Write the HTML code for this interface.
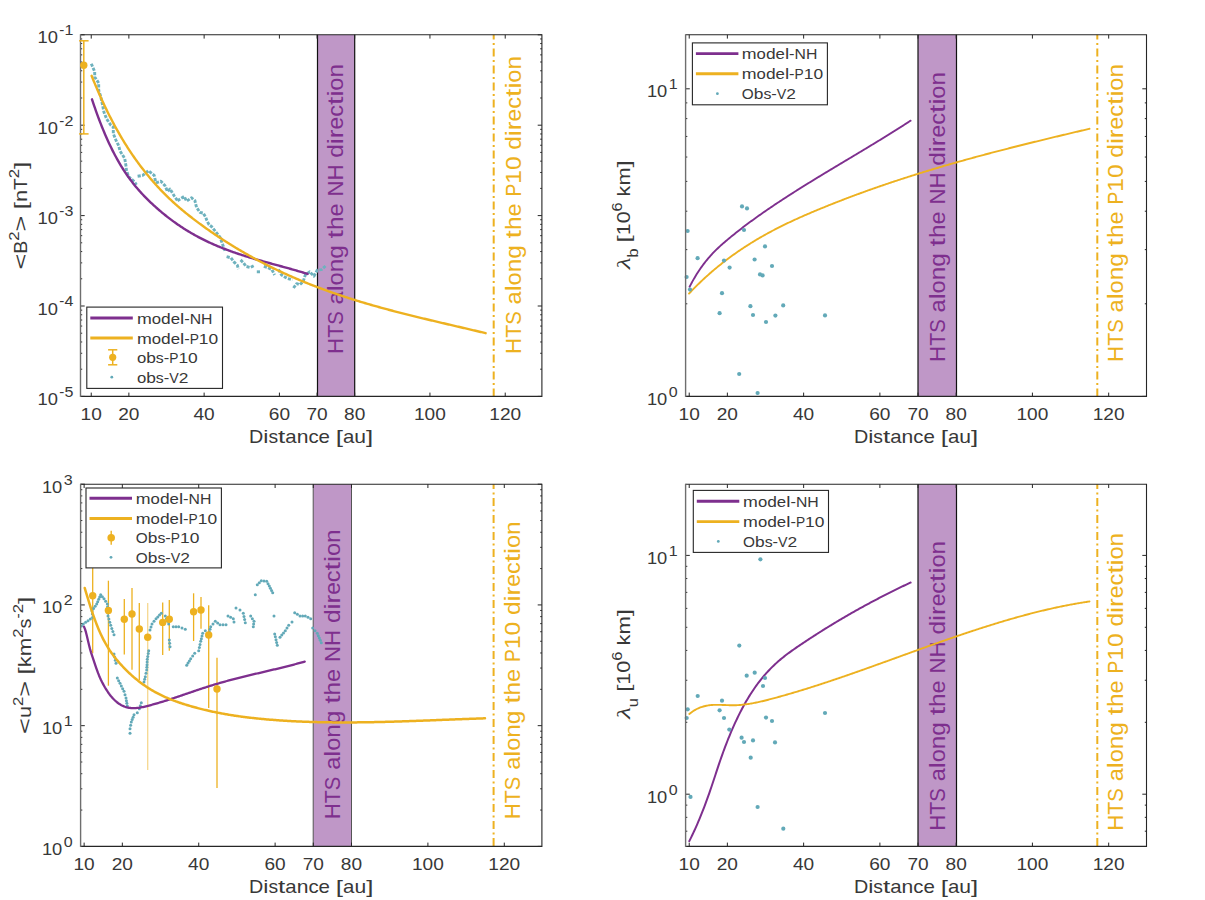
<!DOCTYPE html>
<html><head><meta charset="utf-8"><title>figure</title>
<style>html,body{margin:0;padding:0;background:#fff;overflow:hidden;width:1205px;height:900px;} svg{display:block;}</style>
</head><body>
<svg width="1205" height="900" viewBox="0 0 1205 900">
<rect width="1205" height="900" fill="#fff"/>
<rect x="317.50" y="34.8" width="37.20" height="361.60" fill="#BF97C7" stroke="none"/>
<line x1="317.50" y1="34.8" x2="317.50" y2="396.4" stroke="#111" stroke-width="1.2"/>
<line x1="354.70" y1="34.8" x2="354.70" y2="396.4" stroke="#111" stroke-width="1.2"/>
<line x1="493.7" y1="34.8" x2="493.7" y2="396.4" stroke="#EDB120" stroke-width="2.0" stroke-dasharray="8 3.5 2 3.5" stroke-dashoffset="3.3"/>
<g transform="rotate(-90 343.4 353.90000000000003)" fill="#7E2F8E">
<text x="343.40" y="353.90" font-size="22.22" font-family='"Liberation Sans", sans-serif' textLength="16.07" lengthAdjust="spacingAndGlyphs">H</text>
<text x="359.47" y="353.90" font-size="22.22" font-family='"Liberation Sans", sans-serif' textLength="13.05" lengthAdjust="spacingAndGlyphs">T</text>
<text x="372.52" y="353.90" font-size="22.22" font-family='"Liberation Sans", sans-serif' textLength="13.56" lengthAdjust="spacingAndGlyphs">S</text>
<text x="392.88" y="353.90" font-size="22.22" font-family='"Liberation Sans", sans-serif' textLength="13.10" lengthAdjust="spacingAndGlyphs">a</text>
<text x="405.98" y="353.90" font-size="22.22" font-family='"Liberation Sans", sans-serif' textLength="5.94" lengthAdjust="spacingAndGlyphs">l</text>
<text x="411.91" y="353.90" font-size="22.22" font-family='"Liberation Sans", sans-serif' textLength="13.07" lengthAdjust="spacingAndGlyphs">o</text>
<text x="424.99" y="353.90" font-size="22.22" font-family='"Liberation Sans", sans-serif' textLength="13.54" lengthAdjust="spacingAndGlyphs">n</text>
<text x="438.53" y="353.90" font-size="22.22" font-family='"Liberation Sans", sans-serif' textLength="13.56" lengthAdjust="spacingAndGlyphs">g</text>
<text x="458.89" y="353.90" font-size="22.22" font-family='"Liberation Sans", sans-serif' textLength="8.38" lengthAdjust="spacingAndGlyphs">t</text>
<text x="467.27" y="353.90" font-size="22.22" font-family='"Liberation Sans", sans-serif' textLength="13.54" lengthAdjust="spacingAndGlyphs">h</text>
<text x="480.81" y="353.90" font-size="22.22" font-family='"Liberation Sans", sans-serif' textLength="13.15" lengthAdjust="spacingAndGlyphs">e</text>
<text x="500.75" y="353.90" font-size="22.22" font-family='"Liberation Sans", sans-serif' textLength="15.99" lengthAdjust="spacingAndGlyphs">N</text>
<text x="516.74" y="353.90" font-size="22.22" font-family='"Liberation Sans", sans-serif' textLength="16.07" lengthAdjust="spacingAndGlyphs">H</text>
<text x="539.60" y="353.90" font-size="22.22" font-family='"Liberation Sans", sans-serif' textLength="13.56" lengthAdjust="spacingAndGlyphs">d</text>
<text x="553.17" y="353.90" font-size="22.22" font-family='"Liberation Sans", sans-serif' textLength="5.94" lengthAdjust="spacingAndGlyphs">i</text>
<text x="559.10" y="353.90" font-size="22.22" font-family='"Liberation Sans", sans-serif' textLength="8.79" lengthAdjust="spacingAndGlyphs">r</text>
<text x="567.89" y="353.90" font-size="22.22" font-family='"Liberation Sans", sans-serif' textLength="12.68" lengthAdjust="spacingAndGlyphs">e</text>
<text x="580.57" y="353.90" font-size="22.22" font-family='"Liberation Sans", sans-serif' textLength="11.75" lengthAdjust="spacingAndGlyphs">c</text>
<text x="592.32" y="353.90" font-size="22.22" font-family='"Liberation Sans", sans-serif' textLength="8.38" lengthAdjust="spacingAndGlyphs">t</text>
<text x="600.70" y="353.90" font-size="22.22" font-family='"Liberation Sans", sans-serif' textLength="5.94" lengthAdjust="spacingAndGlyphs">i</text>
<text x="606.63" y="353.90" font-size="22.22" font-family='"Liberation Sans", sans-serif' textLength="13.07" lengthAdjust="spacingAndGlyphs">o</text>
<text x="619.71" y="353.90" font-size="22.22" font-family='"Liberation Sans", sans-serif' textLength="13.54" lengthAdjust="spacingAndGlyphs">n</text>
</g>
<g transform="rotate(-90 520.6 353.90000000000003)" fill="#EDB120">
<text x="520.60" y="353.90" font-size="22.22" font-family='"Liberation Sans", sans-serif' textLength="16.07" lengthAdjust="spacingAndGlyphs">H</text>
<text x="536.67" y="353.90" font-size="22.22" font-family='"Liberation Sans", sans-serif' textLength="13.05" lengthAdjust="spacingAndGlyphs">T</text>
<text x="549.72" y="353.90" font-size="22.22" font-family='"Liberation Sans", sans-serif' textLength="13.56" lengthAdjust="spacingAndGlyphs">S</text>
<text x="570.08" y="353.90" font-size="22.22" font-family='"Liberation Sans", sans-serif' textLength="13.10" lengthAdjust="spacingAndGlyphs">a</text>
<text x="583.18" y="353.90" font-size="22.22" font-family='"Liberation Sans", sans-serif' textLength="5.94" lengthAdjust="spacingAndGlyphs">l</text>
<text x="589.11" y="353.90" font-size="22.22" font-family='"Liberation Sans", sans-serif' textLength="13.07" lengthAdjust="spacingAndGlyphs">o</text>
<text x="602.19" y="353.90" font-size="22.22" font-family='"Liberation Sans", sans-serif' textLength="13.54" lengthAdjust="spacingAndGlyphs">n</text>
<text x="615.73" y="353.90" font-size="22.22" font-family='"Liberation Sans", sans-serif' textLength="13.56" lengthAdjust="spacingAndGlyphs">g</text>
<text x="636.09" y="353.90" font-size="22.22" font-family='"Liberation Sans", sans-serif' textLength="8.38" lengthAdjust="spacingAndGlyphs">t</text>
<text x="644.47" y="353.90" font-size="22.22" font-family='"Liberation Sans", sans-serif' textLength="13.54" lengthAdjust="spacingAndGlyphs">h</text>
<text x="658.01" y="353.90" font-size="22.22" font-family='"Liberation Sans", sans-serif' textLength="13.15" lengthAdjust="spacingAndGlyphs">e</text>
<text x="677.95" y="353.90" font-size="22.22" font-family='"Liberation Sans", sans-serif' textLength="12.89" lengthAdjust="spacingAndGlyphs">P</text>
<text x="690.84" y="353.90" font-size="22.22" font-family='"Liberation Sans", sans-serif' textLength="13.60" lengthAdjust="spacingAndGlyphs">1</text>
<text x="704.44" y="353.90" font-size="22.22" font-family='"Liberation Sans", sans-serif' textLength="13.60" lengthAdjust="spacingAndGlyphs">0</text>
<text x="724.83" y="353.90" font-size="22.22" font-family='"Liberation Sans", sans-serif' textLength="13.56" lengthAdjust="spacingAndGlyphs">d</text>
<text x="738.39" y="353.90" font-size="22.22" font-family='"Liberation Sans", sans-serif' textLength="5.94" lengthAdjust="spacingAndGlyphs">i</text>
<text x="744.33" y="353.90" font-size="22.22" font-family='"Liberation Sans", sans-serif' textLength="8.79" lengthAdjust="spacingAndGlyphs">r</text>
<text x="753.11" y="353.90" font-size="22.22" font-family='"Liberation Sans", sans-serif' textLength="12.68" lengthAdjust="spacingAndGlyphs">e</text>
<text x="765.79" y="353.90" font-size="22.22" font-family='"Liberation Sans", sans-serif' textLength="11.75" lengthAdjust="spacingAndGlyphs">c</text>
<text x="777.54" y="353.90" font-size="22.22" font-family='"Liberation Sans", sans-serif' textLength="8.38" lengthAdjust="spacingAndGlyphs">t</text>
<text x="785.92" y="353.90" font-size="22.22" font-family='"Liberation Sans", sans-serif' textLength="5.94" lengthAdjust="spacingAndGlyphs">i</text>
<text x="791.86" y="353.90" font-size="22.22" font-family='"Liberation Sans", sans-serif' textLength="13.07" lengthAdjust="spacingAndGlyphs">o</text>
<text x="804.93" y="353.90" font-size="22.22" font-family='"Liberation Sans", sans-serif' textLength="13.54" lengthAdjust="spacingAndGlyphs">n</text>
</g>
<path d="M91.30,63.70 L94.70,71.70 L94.70,77.00 L98.70,83.00 L98.70,90.30 L100.70,96.30 L102.70,105.70 L104.00,112.30 L106.70,119.00 L110.70,125.00 L113.30,127.00 L113.30,133.70 L116.00,140.30 L118.70,145.70 L120.00,151.00 L124.70,158.30 L126.00,166.00 L126.40,170.00 L128.50,176.60 L134.30,181.60 L136.40,184.90" fill="none" stroke="#6EB2BE" stroke-width="2.9" stroke-dasharray="3.2 1.3" stroke-linecap="butt" stroke-linejoin="round"/>
<path d="M137.60,176.20 L142.60,175.40 L148.40,170.80 L154.20,175.40 L155.90,182.80" fill="none" stroke="#6EB2BE" stroke-width="2.9" stroke-dasharray="3.2 1.3" stroke-linecap="butt" stroke-linejoin="round"/>
<path d="M155.90,182.80 L160.90,181.20 L165.00,185.70 L167.50,191.50 L170.00,189.00 L174.10,195.70 L177.50,200.70" fill="none" stroke="#6EB2BE" stroke-width="2.9" stroke-dasharray="3.2 1.3" stroke-linecap="butt" stroke-linejoin="round"/>
<path d="M177.50,200.70 L184.10,196.50 L186.60,201.10 L191.60,197.80 L194.90,200.70 L196.50,207.30 L199.90,212.30 L203.20,213.10 L205.70,217.30 L206.90,220.60 L209.00,224.70 L211.50,226.50 L215.80,231.90 L220.10,237.30 L222.30,243.70 L225.00,250.70" fill="none" stroke="#6EB2BE" stroke-width="2.9" stroke-dasharray="3.2 1.3" stroke-linecap="butt" stroke-linejoin="round"/>
<path d="M226.60,256.70 L230.90,257.80 L234.10,262.10 L237.40,265.30 L238.40,269.10" fill="none" stroke="#6EB2BE" stroke-width="2.9" stroke-dasharray="3.2 1.3" stroke-linecap="butt" stroke-linejoin="round"/>
<path d="M240.60,259.90 L243.30,262.60 L246.00,266.40 L250.30,267.50 L254.60,265.30" fill="none" stroke="#6EB2BE" stroke-width="2.9" stroke-dasharray="3.2 1.3" stroke-linecap="butt" stroke-linejoin="round"/>
<path d="M256.80,271.80 L261.10,271.80" fill="none" stroke="#6EB2BE" stroke-width="2.9" stroke-dasharray="3.2 1.3" stroke-linecap="butt" stroke-linejoin="round"/>
<path d="M263.80,266.40 L267.60,267.50 L271.90,269.60 L274.60,275.00" fill="none" stroke="#6EB2BE" stroke-width="2.9" stroke-dasharray="3.2 1.3" stroke-linecap="butt" stroke-linejoin="round"/>
<path d="M278.40,269.60 L281.60,275.00 L287.00,278.30 L292.40,279.90" fill="none" stroke="#6EB2BE" stroke-width="2.9" stroke-dasharray="3.2 1.3" stroke-linecap="butt" stroke-linejoin="round"/>
<path d="M293.50,288.00 L296.70,283.60 L299.90,284.70 L303.20,281.50 L305.30,275.00 L309.60,271.80 L314.00,276.10 L317.20,270.20 L321.50,269.60 L325.80,265.80" fill="none" stroke="#6EB2BE" stroke-width="2.9" stroke-dasharray="3.2 1.3" stroke-linecap="butt" stroke-linejoin="round"/>
<path d="M92.00,99.30 L93.00,102.32 L94.00,105.29 L95.00,108.19 L96.00,111.04 L97.00,113.83 L98.00,116.56 L99.00,119.23 L100.00,121.86 L101.00,124.42 L102.00,126.94 L103.00,129.40 L104.00,131.81 L105.00,134.17 L106.00,136.48 L107.00,138.75 L108.00,140.96 L109.00,143.13 L110.00,145.25 L111.00,147.32 L112.00,149.35 L113.00,151.34 L114.00,153.28 L115.00,155.19 L116.00,157.05 L117.00,158.87 L118.00,160.65 L119.00,162.39 L120.00,164.09 L121.00,165.76 L122.00,167.39 L123.00,168.99 L124.00,170.55 L125.00,172.07 L126.00,173.57 L127.00,175.03 L128.00,176.46 L129.00,177.87 L130.00,179.24 L131.00,180.58 L132.00,181.90 L133.00,183.19 L134.00,184.45 L135.00,185.69 L136.00,186.90 L137.00,188.09 L138.00,189.26 L139.00,190.41 L140.00,191.53 L141.00,192.64 L142.00,193.72 L143.00,194.79 L144.00,195.84 L145.00,196.88 L146.00,197.89 L147.00,198.90 L148.00,199.88 L149.00,200.86 L150.00,201.82 L151.00,202.77 L152.00,203.72 L153.00,204.65 L154.00,205.57 L155.00,206.47 L156.00,207.37 L157.00,208.26 L158.00,209.14 L159.00,210.01 L160.00,210.86 L161.00,211.71 L162.00,212.55 L163.00,213.38 L164.00,214.19 L165.00,215.00 L166.00,215.80 L167.00,216.59 L168.00,217.37 L169.00,218.14 L170.00,218.90 L171.00,219.65 L172.00,220.40 L173.00,221.13 L174.00,221.86 L175.00,222.57 L176.00,223.28 L177.00,223.98 L178.00,224.67 L179.00,225.35 L180.00,226.03 L181.00,226.69 L182.00,227.35 L183.00,228.00 L184.00,228.64 L185.00,229.27 L186.00,229.90 L187.00,230.52 L188.00,231.13 L189.00,231.73 L190.00,232.32 L191.00,232.91 L192.00,233.49 L193.00,234.06 L194.00,234.63 L195.00,235.19 L196.00,235.74 L197.00,236.28 L198.00,236.82 L199.00,237.35 L200.00,237.88 L201.00,238.40 L202.00,238.91 L203.00,239.41 L204.00,239.91 L205.00,240.40 L206.00,240.89 L207.00,241.37 L208.00,241.85 L209.00,242.31 L210.00,242.78 L211.00,243.23 L212.00,243.69 L213.00,244.13 L214.00,244.57 L215.00,245.01 L216.00,245.44 L217.00,245.86 L218.00,246.28 L219.00,246.70 L220.00,247.11 L221.00,247.51 L222.00,247.91 L223.00,248.31 L224.00,248.70 L225.00,249.09 L226.00,249.47 L227.00,249.85 L228.00,250.22 L229.00,250.59 L230.00,250.96 L231.00,251.32 L232.00,251.67 L233.00,252.03 L234.00,252.38 L235.00,252.72 L236.00,253.07 L237.00,253.41 L238.00,253.74 L239.00,254.08 L240.00,254.41 L241.00,254.73 L242.00,255.06 L243.00,255.38 L244.00,255.69 L245.00,256.01 L246.00,256.32 L247.00,256.63 L248.00,256.94 L249.00,257.24 L250.00,257.55 L251.00,257.85 L252.00,258.15 L253.00,258.44 L254.00,258.74 L255.00,259.03 L256.00,259.32 L257.00,259.61 L258.00,259.89 L259.00,260.18 L260.00,260.46 L261.00,260.75 L262.00,261.03 L263.00,261.31 L264.00,261.59 L265.00,261.87 L266.00,262.14 L267.00,262.42 L268.00,262.69 L269.00,262.97 L270.00,263.24 L271.00,263.52 L272.00,263.79 L273.00,264.06 L274.00,264.34 L275.00,264.61 L276.00,264.88 L277.00,265.15 L278.00,265.43 L279.00,265.70 L280.00,265.97 L281.00,266.25 L282.00,266.52 L283.00,266.79 L284.00,267.07 L285.00,267.34 L286.00,267.62 L287.00,267.90 L288.00,268.18 L289.00,268.45 L290.00,268.74 L291.00,269.02 L292.00,269.30 L293.00,269.58 L294.00,269.87 L295.00,270.16 L296.00,270.45 L297.00,270.74 L298.00,271.03 L299.00,271.32 L300.00,271.62 L301.00,271.92 L302.00,272.22 L303.00,272.52 L304.00,272.83 L305.00,273.13 L306.00,273.44 L307.00,273.76 L307.50,273.91" fill="none" stroke="#7E2F8E" stroke-width="2.4" stroke-linejoin="round" stroke-linecap="round"/>
<path d="M91.60,75.77 L92.60,78.26 L93.60,80.71 L94.60,83.14 L95.60,85.53 L96.60,87.89 L97.60,90.23 L98.60,92.53 L99.60,94.80 L100.60,97.04 L101.60,99.25 L102.60,101.43 L103.60,103.59 L104.60,105.71 L105.60,107.81 L106.60,109.88 L107.60,111.92 L108.60,113.94 L109.60,115.92 L110.60,117.89 L111.60,119.82 L112.60,121.73 L113.60,123.62 L114.60,125.48 L115.60,127.31 L116.60,129.12 L117.60,130.91 L118.60,132.67 L119.60,134.42 L120.60,136.13 L121.60,137.83 L122.60,139.50 L123.60,141.15 L124.60,142.78 L125.60,144.39 L126.60,145.98 L127.60,147.54 L128.60,149.09 L129.60,150.62 L130.60,152.13 L131.60,153.61 L132.60,155.08 L133.60,156.54 L134.60,157.97 L135.60,159.39 L136.60,160.78 L137.60,162.16 L138.60,163.53 L139.60,164.88 L140.60,166.21 L141.60,167.53 L142.60,168.83 L143.60,170.11 L144.60,171.38 L145.60,172.64 L146.60,173.88 L147.60,175.11 L148.60,176.32 L149.60,177.51 L150.60,178.70 L151.60,179.87 L152.60,181.02 L153.60,182.16 L154.60,183.29 L155.60,184.41 L156.60,185.51 L157.60,186.60 L158.60,187.68 L159.60,188.75 L160.60,189.80 L161.60,190.84 L162.60,191.87 L163.60,192.89 L164.60,193.90 L165.60,194.90 L166.60,195.88 L167.60,196.86 L168.60,197.82 L169.60,198.78 L170.60,199.72 L171.60,200.65 L172.60,201.58 L173.60,202.49 L174.60,203.40 L175.60,204.30 L176.60,205.18 L177.60,206.06 L178.60,206.93 L179.60,207.80 L180.60,208.65 L181.60,209.50 L182.60,210.33 L183.60,211.17 L184.60,211.99 L185.60,212.81 L186.60,213.62 L187.60,214.42 L188.60,215.22 L189.60,216.01 L190.60,216.79 L191.60,217.57 L192.60,218.34 L193.60,219.11 L194.60,219.87 L195.60,220.63 L196.60,221.38 L197.60,222.12 L198.60,222.87 L199.60,223.61 L200.60,224.34 L201.60,225.07 L202.60,225.79 L203.60,226.52 L204.60,227.24 L205.60,227.95 L206.60,228.66 L207.60,229.37 L208.60,230.07 L209.60,230.77 L210.60,231.46 L211.60,232.16 L212.60,232.84 L213.60,233.53 L214.60,234.21 L215.60,234.89 L216.60,235.56 L217.60,236.23 L218.60,236.89 L219.60,237.55 L220.60,238.21 L221.60,238.87 L222.60,239.52 L223.60,240.17 L224.60,240.81 L225.60,241.45 L226.60,242.09 L227.60,242.72 L228.60,243.35 L229.60,243.98 L230.60,244.60 L231.60,245.22 L232.60,245.84 L233.60,246.45 L234.60,247.06 L235.60,247.66 L236.60,248.27 L237.60,248.87 L238.60,249.46 L239.60,250.05 L240.60,250.64 L241.60,251.23 L242.60,251.81 L243.60,252.39 L244.60,252.97 L245.60,253.54 L246.60,254.11 L247.60,254.67 L248.60,255.24 L249.60,255.80 L250.60,256.35 L251.60,256.91 L252.60,257.46 L253.60,258.01 L254.60,258.55 L255.60,259.09 L256.60,259.63 L257.60,260.16 L258.60,260.70 L259.60,261.22 L260.60,261.75 L261.60,262.27 L262.60,262.79 L263.60,263.31 L264.60,263.82 L265.60,264.34 L266.60,264.84 L267.60,265.35 L268.60,265.85 L269.60,266.35 L270.60,266.85 L271.60,267.34 L272.60,267.83 L273.60,268.32 L274.60,268.81 L275.60,269.29 L276.60,269.77 L277.60,270.25 L278.60,270.72 L279.60,271.19 L280.60,271.66 L281.60,272.13 L282.60,272.59 L283.60,273.05 L284.60,273.51 L285.60,273.96 L286.60,274.42 L287.60,274.87 L288.60,275.32 L289.60,275.76 L290.60,276.20 L291.60,276.64 L292.60,277.08 L293.60,277.52 L294.60,277.95 L295.60,278.38 L296.60,278.81 L297.60,279.23 L298.60,279.66 L299.60,280.08 L300.60,280.49 L301.60,280.91 L302.60,281.32 L303.60,281.73 L304.60,282.14 L305.60,282.55 L306.60,282.95 L307.60,283.36 L308.60,283.75 L309.60,284.15 L310.60,284.55 L311.60,284.94 L312.60,285.33 L313.60,285.72 L314.60,286.10 L315.60,286.49 L316.60,286.87 L317.60,287.25 L318.60,287.63 L319.60,288.00 L320.60,288.38 L321.60,288.75 L322.60,289.12 L323.60,289.48 L324.60,289.85 L325.60,290.21 L326.60,290.57 L327.60,290.93 L328.60,291.29 L329.60,291.65 L330.60,292.00 L331.60,292.35 L332.60,292.70 L333.60,293.05 L334.60,293.39 L335.60,293.74 L336.60,294.08 L337.60,294.42 L338.60,294.76 L339.60,295.10 L340.60,295.43 L341.60,295.76 L342.60,296.10 L343.60,296.42 L344.60,296.75 L345.60,297.08 L346.60,297.40 L347.60,297.73 L348.60,298.05 L349.60,298.37 L350.60,298.69 L351.60,299.00 L352.60,299.32 L353.60,299.63 L354.60,299.94 L355.60,300.25 L356.60,300.56 L357.60,300.87 L358.60,301.17 L359.60,301.48 L360.60,301.78 L361.60,302.08 L362.60,302.38 L363.60,302.68 L364.60,302.98 L365.60,303.27 L366.60,303.56 L367.60,303.86 L368.60,304.15 L369.60,304.44 L370.60,304.73 L371.60,305.01 L372.60,305.30 L373.60,305.59 L374.60,305.87 L375.60,306.15 L376.60,306.43 L377.60,306.71 L378.60,306.99 L379.60,307.27 L380.60,307.55 L381.60,307.82 L382.60,308.09 L383.60,308.37 L384.60,308.64 L385.60,308.91 L386.60,309.18 L387.60,309.45 L388.60,309.72 L389.60,309.98 L390.60,310.25 L391.60,310.51 L392.60,310.78 L393.60,311.04 L394.60,311.30 L395.60,311.56 L396.60,311.82 L397.60,312.08 L398.60,312.34 L399.60,312.60 L400.60,312.85 L401.60,313.11 L402.60,313.36 L403.60,313.62 L404.60,313.87 L405.60,314.12 L406.60,314.37 L407.60,314.63 L408.60,314.88 L409.60,315.12 L410.60,315.37 L411.60,315.62 L412.60,315.87 L413.60,316.12 L414.60,316.36 L415.60,316.61 L416.60,316.85 L417.60,317.10 L418.60,317.34 L419.60,317.58 L420.60,317.83 L421.60,318.07 L422.60,318.31 L423.60,318.55 L424.60,318.79 L425.60,319.03 L426.60,319.27 L427.60,319.51 L428.60,319.75 L429.60,319.99 L430.60,320.22 L431.60,320.46 L432.60,320.70 L433.60,320.94 L434.60,321.17 L435.60,321.41 L436.60,321.64 L437.60,321.88 L438.60,322.11 L439.60,322.35 L440.60,322.58 L441.60,322.82 L442.60,323.05 L443.60,323.29 L444.60,323.52 L445.60,323.76 L446.60,323.99 L447.60,324.22 L448.60,324.46 L449.60,324.69 L450.60,324.92 L451.60,325.16 L452.60,325.39 L453.60,325.62 L454.60,325.86 L455.60,326.09 L456.60,326.32 L457.60,326.56 L458.60,326.79 L459.60,327.02 L460.60,327.26 L461.60,327.49 L462.60,327.72 L463.60,327.96 L464.60,328.19 L465.60,328.42 L466.60,328.66 L467.60,328.89 L468.60,329.13 L469.60,329.36 L470.60,329.60 L471.60,329.83 L472.60,330.07 L473.60,330.30 L474.60,330.54 L475.60,330.77 L476.60,331.01 L477.60,331.25 L478.60,331.48 L479.60,331.72 L480.60,331.96 L481.60,332.20 L482.60,332.44 L483.60,332.68 L484.60,332.92 L485.60,333.16" fill="none" stroke="#EDB120" stroke-width="2.4" stroke-linejoin="round" stroke-linecap="round"/>
<line x1="91.24" y1="396.4" x2="91.24" y2="392.59999999999997" stroke="#262626" stroke-width="1"/>
<line x1="91.24" y1="34.8" x2="91.24" y2="38.599999999999994" stroke="#262626" stroke-width="1"/>
<line x1="128.87" y1="396.4" x2="128.87" y2="392.59999999999997" stroke="#262626" stroke-width="1"/>
<line x1="128.87" y1="34.8" x2="128.87" y2="38.599999999999994" stroke="#262626" stroke-width="1"/>
<line x1="204.14" y1="396.4" x2="204.14" y2="392.59999999999997" stroke="#262626" stroke-width="1"/>
<line x1="204.14" y1="34.8" x2="204.14" y2="38.599999999999994" stroke="#262626" stroke-width="1"/>
<line x1="279.41" y1="396.4" x2="279.41" y2="392.59999999999997" stroke="#262626" stroke-width="1"/>
<line x1="279.41" y1="34.8" x2="279.41" y2="38.599999999999994" stroke="#262626" stroke-width="1"/>
<line x1="317.05" y1="396.4" x2="317.05" y2="392.59999999999997" stroke="#262626" stroke-width="1"/>
<line x1="317.05" y1="34.8" x2="317.05" y2="38.599999999999994" stroke="#262626" stroke-width="1"/>
<line x1="354.68" y1="396.4" x2="354.68" y2="392.59999999999997" stroke="#262626" stroke-width="1"/>
<line x1="354.68" y1="34.8" x2="354.68" y2="38.599999999999994" stroke="#262626" stroke-width="1"/>
<line x1="429.95" y1="396.4" x2="429.95" y2="392.59999999999997" stroke="#262626" stroke-width="1"/>
<line x1="429.95" y1="34.8" x2="429.95" y2="38.599999999999994" stroke="#262626" stroke-width="1"/>
<line x1="505.22" y1="396.4" x2="505.22" y2="392.59999999999997" stroke="#262626" stroke-width="1"/>
<line x1="505.22" y1="34.8" x2="505.22" y2="38.599999999999994" stroke="#262626" stroke-width="1"/>
<line x1="80.5" y1="396.40" x2="84.7" y2="396.40" stroke="#262626" stroke-width="1"/>
<line x1="541.9" y1="396.40" x2="537.6999999999999" y2="396.40" stroke="#262626" stroke-width="1"/>
<line x1="80.5" y1="369.19" x2="82.2" y2="369.19" stroke="#262626" stroke-width="1"/>
<line x1="541.9" y1="369.19" x2="540.1999999999999" y2="369.19" stroke="#262626" stroke-width="1"/>
<line x1="80.5" y1="353.27" x2="82.2" y2="353.27" stroke="#262626" stroke-width="1"/>
<line x1="541.9" y1="353.27" x2="540.1999999999999" y2="353.27" stroke="#262626" stroke-width="1"/>
<line x1="80.5" y1="341.97" x2="82.2" y2="341.97" stroke="#262626" stroke-width="1"/>
<line x1="541.9" y1="341.97" x2="540.1999999999999" y2="341.97" stroke="#262626" stroke-width="1"/>
<line x1="80.5" y1="333.21" x2="82.2" y2="333.21" stroke="#262626" stroke-width="1"/>
<line x1="541.9" y1="333.21" x2="540.1999999999999" y2="333.21" stroke="#262626" stroke-width="1"/>
<line x1="80.5" y1="326.06" x2="82.2" y2="326.06" stroke="#262626" stroke-width="1"/>
<line x1="541.9" y1="326.06" x2="540.1999999999999" y2="326.06" stroke="#262626" stroke-width="1"/>
<line x1="80.5" y1="320.00" x2="82.2" y2="320.00" stroke="#262626" stroke-width="1"/>
<line x1="541.9" y1="320.00" x2="540.1999999999999" y2="320.00" stroke="#262626" stroke-width="1"/>
<line x1="80.5" y1="314.76" x2="82.2" y2="314.76" stroke="#262626" stroke-width="1"/>
<line x1="541.9" y1="314.76" x2="540.1999999999999" y2="314.76" stroke="#262626" stroke-width="1"/>
<line x1="80.5" y1="310.14" x2="82.2" y2="310.14" stroke="#262626" stroke-width="1"/>
<line x1="541.9" y1="310.14" x2="540.1999999999999" y2="310.14" stroke="#262626" stroke-width="1"/>
<line x1="80.5" y1="306.00" x2="84.7" y2="306.00" stroke="#262626" stroke-width="1"/>
<line x1="541.9" y1="306.00" x2="537.6999999999999" y2="306.00" stroke="#262626" stroke-width="1"/>
<line x1="80.5" y1="278.79" x2="82.2" y2="278.79" stroke="#262626" stroke-width="1"/>
<line x1="541.9" y1="278.79" x2="540.1999999999999" y2="278.79" stroke="#262626" stroke-width="1"/>
<line x1="80.5" y1="262.87" x2="82.2" y2="262.87" stroke="#262626" stroke-width="1"/>
<line x1="541.9" y1="262.87" x2="540.1999999999999" y2="262.87" stroke="#262626" stroke-width="1"/>
<line x1="80.5" y1="251.57" x2="82.2" y2="251.57" stroke="#262626" stroke-width="1"/>
<line x1="541.9" y1="251.57" x2="540.1999999999999" y2="251.57" stroke="#262626" stroke-width="1"/>
<line x1="80.5" y1="242.81" x2="82.2" y2="242.81" stroke="#262626" stroke-width="1"/>
<line x1="541.9" y1="242.81" x2="540.1999999999999" y2="242.81" stroke="#262626" stroke-width="1"/>
<line x1="80.5" y1="235.66" x2="82.2" y2="235.66" stroke="#262626" stroke-width="1"/>
<line x1="541.9" y1="235.66" x2="540.1999999999999" y2="235.66" stroke="#262626" stroke-width="1"/>
<line x1="80.5" y1="229.60" x2="82.2" y2="229.60" stroke="#262626" stroke-width="1"/>
<line x1="541.9" y1="229.60" x2="540.1999999999999" y2="229.60" stroke="#262626" stroke-width="1"/>
<line x1="80.5" y1="224.36" x2="82.2" y2="224.36" stroke="#262626" stroke-width="1"/>
<line x1="541.9" y1="224.36" x2="540.1999999999999" y2="224.36" stroke="#262626" stroke-width="1"/>
<line x1="80.5" y1="219.74" x2="82.2" y2="219.74" stroke="#262626" stroke-width="1"/>
<line x1="541.9" y1="219.74" x2="540.1999999999999" y2="219.74" stroke="#262626" stroke-width="1"/>
<line x1="80.5" y1="215.60" x2="84.7" y2="215.60" stroke="#262626" stroke-width="1"/>
<line x1="541.9" y1="215.60" x2="537.6999999999999" y2="215.60" stroke="#262626" stroke-width="1"/>
<line x1="80.5" y1="188.39" x2="82.2" y2="188.39" stroke="#262626" stroke-width="1"/>
<line x1="541.9" y1="188.39" x2="540.1999999999999" y2="188.39" stroke="#262626" stroke-width="1"/>
<line x1="80.5" y1="172.47" x2="82.2" y2="172.47" stroke="#262626" stroke-width="1"/>
<line x1="541.9" y1="172.47" x2="540.1999999999999" y2="172.47" stroke="#262626" stroke-width="1"/>
<line x1="80.5" y1="161.17" x2="82.2" y2="161.17" stroke="#262626" stroke-width="1"/>
<line x1="541.9" y1="161.17" x2="540.1999999999999" y2="161.17" stroke="#262626" stroke-width="1"/>
<line x1="80.5" y1="152.41" x2="82.2" y2="152.41" stroke="#262626" stroke-width="1"/>
<line x1="541.9" y1="152.41" x2="540.1999999999999" y2="152.41" stroke="#262626" stroke-width="1"/>
<line x1="80.5" y1="145.26" x2="82.2" y2="145.26" stroke="#262626" stroke-width="1"/>
<line x1="541.9" y1="145.26" x2="540.1999999999999" y2="145.26" stroke="#262626" stroke-width="1"/>
<line x1="80.5" y1="139.20" x2="82.2" y2="139.20" stroke="#262626" stroke-width="1"/>
<line x1="541.9" y1="139.20" x2="540.1999999999999" y2="139.20" stroke="#262626" stroke-width="1"/>
<line x1="80.5" y1="133.96" x2="82.2" y2="133.96" stroke="#262626" stroke-width="1"/>
<line x1="541.9" y1="133.96" x2="540.1999999999999" y2="133.96" stroke="#262626" stroke-width="1"/>
<line x1="80.5" y1="129.34" x2="82.2" y2="129.34" stroke="#262626" stroke-width="1"/>
<line x1="541.9" y1="129.34" x2="540.1999999999999" y2="129.34" stroke="#262626" stroke-width="1"/>
<line x1="80.5" y1="125.20" x2="84.7" y2="125.20" stroke="#262626" stroke-width="1"/>
<line x1="541.9" y1="125.20" x2="537.6999999999999" y2="125.20" stroke="#262626" stroke-width="1"/>
<line x1="80.5" y1="97.99" x2="82.2" y2="97.99" stroke="#262626" stroke-width="1"/>
<line x1="541.9" y1="97.99" x2="540.1999999999999" y2="97.99" stroke="#262626" stroke-width="1"/>
<line x1="80.5" y1="82.07" x2="82.2" y2="82.07" stroke="#262626" stroke-width="1"/>
<line x1="541.9" y1="82.07" x2="540.1999999999999" y2="82.07" stroke="#262626" stroke-width="1"/>
<line x1="80.5" y1="70.77" x2="82.2" y2="70.77" stroke="#262626" stroke-width="1"/>
<line x1="541.9" y1="70.77" x2="540.1999999999999" y2="70.77" stroke="#262626" stroke-width="1"/>
<line x1="80.5" y1="62.01" x2="82.2" y2="62.01" stroke="#262626" stroke-width="1"/>
<line x1="541.9" y1="62.01" x2="540.1999999999999" y2="62.01" stroke="#262626" stroke-width="1"/>
<line x1="80.5" y1="54.86" x2="82.2" y2="54.86" stroke="#262626" stroke-width="1"/>
<line x1="541.9" y1="54.86" x2="540.1999999999999" y2="54.86" stroke="#262626" stroke-width="1"/>
<line x1="80.5" y1="48.80" x2="82.2" y2="48.80" stroke="#262626" stroke-width="1"/>
<line x1="541.9" y1="48.80" x2="540.1999999999999" y2="48.80" stroke="#262626" stroke-width="1"/>
<line x1="80.5" y1="43.56" x2="82.2" y2="43.56" stroke="#262626" stroke-width="1"/>
<line x1="541.9" y1="43.56" x2="540.1999999999999" y2="43.56" stroke="#262626" stroke-width="1"/>
<line x1="80.5" y1="38.94" x2="82.2" y2="38.94" stroke="#262626" stroke-width="1"/>
<line x1="541.9" y1="38.94" x2="540.1999999999999" y2="38.94" stroke="#262626" stroke-width="1"/>
<line x1="80.5" y1="34.80" x2="84.7" y2="34.80" stroke="#262626" stroke-width="1"/>
<line x1="541.9" y1="34.80" x2="537.6999999999999" y2="34.80" stroke="#262626" stroke-width="1"/>
<path d="M80.5,34.8 L541.9,34.8 L541.9,396.4 L80.5,396.4" fill="none" stroke="#262626" stroke-width="1.1" stroke-linejoin="miter"/>
<line x1="80.5" y1="34.3" x2="80.5" y2="396.9" stroke="#6e6e6e" stroke-width="1.4"/>
<line x1="83.8" y1="40.8" x2="83.8" y2="133.9" stroke="#EDB120" stroke-width="1.5"/>
<line x1="79.1" y1="40.8" x2="88.6" y2="40.8" stroke="#EDB120" stroke-width="1.5"/>
<line x1="79.1" y1="133.9" x2="88.6" y2="133.9" stroke="#EDB120" stroke-width="1.5"/>
<circle cx="83.8" cy="65.2" r="3.7" fill="#EDB120"/>
<rect x="86.8" y="307.1" width="135.7" height="81.3" fill="#fff" stroke="#262626" stroke-width="1.1"/>
<line x1="90.3" y1="318.0" x2="132.8" y2="318.0" stroke="#7E2F8E" stroke-width="2.9"/>
<g fill="#383838">
<text x="136.90" y="323.60" font-size="15.10" font-family='"Liberation Sans", sans-serif' textLength="14.81" lengthAdjust="spacingAndGlyphs">m</text>
<text x="151.71" y="323.60" font-size="15.10" font-family='"Liberation Sans", sans-serif' textLength="9.30" lengthAdjust="spacingAndGlyphs">o</text>
<text x="161.01" y="323.60" font-size="15.10" font-family='"Liberation Sans", sans-serif' textLength="9.65" lengthAdjust="spacingAndGlyphs">d</text>
<text x="170.65" y="323.60" font-size="15.10" font-family='"Liberation Sans", sans-serif' textLength="9.35" lengthAdjust="spacingAndGlyphs">e</text>
<text x="180.01" y="323.60" font-size="15.10" font-family='"Liberation Sans", sans-serif' textLength="4.22" lengthAdjust="spacingAndGlyphs">l</text>
<text x="184.23" y="323.60" font-size="15.10" font-family='"Liberation Sans", sans-serif' textLength="5.48" lengthAdjust="spacingAndGlyphs">-</text>
<text x="189.71" y="323.60" font-size="15.10" font-family='"Liberation Sans", sans-serif' textLength="11.37" lengthAdjust="spacingAndGlyphs">N</text>
<text x="201.08" y="323.60" font-size="15.10" font-family='"Liberation Sans", sans-serif' textLength="11.43" lengthAdjust="spacingAndGlyphs">H</text>
</g>
<line x1="90.3" y1="338.0" x2="132.8" y2="338.0" stroke="#EDB120" stroke-width="2.9"/>
<g fill="#383838">
<text x="136.90" y="343.60" font-size="15.10" font-family='"Liberation Sans", sans-serif' textLength="14.81" lengthAdjust="spacingAndGlyphs">m</text>
<text x="151.71" y="343.60" font-size="15.10" font-family='"Liberation Sans", sans-serif' textLength="9.30" lengthAdjust="spacingAndGlyphs">o</text>
<text x="161.01" y="343.60" font-size="15.10" font-family='"Liberation Sans", sans-serif' textLength="9.65" lengthAdjust="spacingAndGlyphs">d</text>
<text x="170.65" y="343.60" font-size="15.10" font-family='"Liberation Sans", sans-serif' textLength="9.35" lengthAdjust="spacingAndGlyphs">e</text>
<text x="180.01" y="343.60" font-size="15.10" font-family='"Liberation Sans", sans-serif' textLength="4.22" lengthAdjust="spacingAndGlyphs">l</text>
<text x="184.23" y="343.60" font-size="15.10" font-family='"Liberation Sans", sans-serif' textLength="5.48" lengthAdjust="spacingAndGlyphs">-</text>
<text x="189.71" y="343.60" font-size="15.10" font-family='"Liberation Sans", sans-serif' textLength="9.17" lengthAdjust="spacingAndGlyphs">P</text>
<text x="198.88" y="343.60" font-size="15.10" font-family='"Liberation Sans", sans-serif' textLength="9.67" lengthAdjust="spacingAndGlyphs">1</text>
<text x="208.55" y="343.60" font-size="15.10" font-family='"Liberation Sans", sans-serif' textLength="9.67" lengthAdjust="spacingAndGlyphs">0</text>
</g>
<line x1="112.69999999999999" y1="349.8" x2="112.69999999999999" y2="364.8" stroke="#EDB120" stroke-width="1.5"/>
<line x1="108.1" y1="349.8" x2="117.29999999999998" y2="349.8" stroke="#EDB120" stroke-width="1.5"/>
<line x1="108.1" y1="364.8" x2="117.29999999999998" y2="364.8" stroke="#EDB120" stroke-width="1.5"/>
<circle cx="112.69999999999999" cy="357.3" r="3.6" fill="#EDB120"/>
<g fill="#383838">
<text x="136.90" y="362.90" font-size="15.10" font-family='"Liberation Sans", sans-serif' textLength="9.30" lengthAdjust="spacingAndGlyphs">o</text>
<text x="146.20" y="362.90" font-size="15.10" font-family='"Liberation Sans", sans-serif' textLength="9.65" lengthAdjust="spacingAndGlyphs">b</text>
<text x="155.85" y="362.90" font-size="15.10" font-family='"Liberation Sans", sans-serif' textLength="7.92" lengthAdjust="spacingAndGlyphs">s</text>
<text x="163.77" y="362.90" font-size="15.10" font-family='"Liberation Sans", sans-serif' textLength="5.48" lengthAdjust="spacingAndGlyphs">-</text>
<text x="169.25" y="362.90" font-size="15.10" font-family='"Liberation Sans", sans-serif' textLength="9.17" lengthAdjust="spacingAndGlyphs">P</text>
<text x="178.42" y="362.90" font-size="15.10" font-family='"Liberation Sans", sans-serif' textLength="9.67" lengthAdjust="spacingAndGlyphs">1</text>
<text x="188.09" y="362.90" font-size="15.10" font-family='"Liberation Sans", sans-serif' textLength="9.67" lengthAdjust="spacingAndGlyphs">0</text>
</g>
<circle cx="111.8" cy="377.2" r="1.4" fill="#62A9B8"/>
<g fill="#383838">
<text x="136.90" y="382.80" font-size="15.10" font-family='"Liberation Sans", sans-serif' textLength="9.30" lengthAdjust="spacingAndGlyphs">o</text>
<text x="146.20" y="382.80" font-size="15.10" font-family='"Liberation Sans", sans-serif' textLength="9.65" lengthAdjust="spacingAndGlyphs">b</text>
<text x="155.85" y="382.80" font-size="15.10" font-family='"Liberation Sans", sans-serif' textLength="7.92" lengthAdjust="spacingAndGlyphs">s</text>
<text x="163.77" y="382.80" font-size="15.10" font-family='"Liberation Sans", sans-serif' textLength="5.48" lengthAdjust="spacingAndGlyphs">-</text>
<text x="169.25" y="382.80" font-size="15.10" font-family='"Liberation Sans", sans-serif' textLength="9.51" lengthAdjust="spacingAndGlyphs">V</text>
<text x="178.76" y="382.80" font-size="15.10" font-family='"Liberation Sans", sans-serif' textLength="9.67" lengthAdjust="spacingAndGlyphs">2</text>
</g>
<g fill="#383838">
<text x="80.61" y="419.60" font-size="17.37" font-family='"Liberation Sans", sans-serif' textLength="10.63" lengthAdjust="spacingAndGlyphs">1</text>
<text x="91.24" y="419.60" font-size="17.37" font-family='"Liberation Sans", sans-serif' textLength="10.63" lengthAdjust="spacingAndGlyphs">0</text>
</g>
<g fill="#383838">
<text x="118.25" y="419.60" font-size="17.37" font-family='"Liberation Sans", sans-serif' textLength="10.63" lengthAdjust="spacingAndGlyphs">2</text>
<text x="128.87" y="419.60" font-size="17.37" font-family='"Liberation Sans", sans-serif' textLength="10.63" lengthAdjust="spacingAndGlyphs">0</text>
</g>
<g fill="#383838">
<text x="193.52" y="419.60" font-size="17.37" font-family='"Liberation Sans", sans-serif' textLength="10.63" lengthAdjust="spacingAndGlyphs">4</text>
<text x="204.14" y="419.60" font-size="17.37" font-family='"Liberation Sans", sans-serif' textLength="10.63" lengthAdjust="spacingAndGlyphs">0</text>
</g>
<g fill="#383838">
<text x="268.79" y="419.60" font-size="17.37" font-family='"Liberation Sans", sans-serif' textLength="10.63" lengthAdjust="spacingAndGlyphs">6</text>
<text x="279.41" y="419.60" font-size="17.37" font-family='"Liberation Sans", sans-serif' textLength="10.63" lengthAdjust="spacingAndGlyphs">0</text>
</g>
<g fill="#383838">
<text x="306.42" y="419.60" font-size="17.37" font-family='"Liberation Sans", sans-serif' textLength="10.63" lengthAdjust="spacingAndGlyphs">7</text>
<text x="317.05" y="419.60" font-size="17.37" font-family='"Liberation Sans", sans-serif' textLength="10.63" lengthAdjust="spacingAndGlyphs">0</text>
</g>
<g fill="#383838">
<text x="344.06" y="419.60" font-size="17.37" font-family='"Liberation Sans", sans-serif' textLength="10.63" lengthAdjust="spacingAndGlyphs">8</text>
<text x="354.68" y="419.60" font-size="17.37" font-family='"Liberation Sans", sans-serif' textLength="10.63" lengthAdjust="spacingAndGlyphs">0</text>
</g>
<g fill="#383838">
<text x="414.01" y="419.60" font-size="17.37" font-family='"Liberation Sans", sans-serif' textLength="10.63" lengthAdjust="spacingAndGlyphs">1</text>
<text x="424.64" y="419.60" font-size="17.37" font-family='"Liberation Sans", sans-serif' textLength="10.63" lengthAdjust="spacingAndGlyphs">0</text>
<text x="435.26" y="419.60" font-size="17.37" font-family='"Liberation Sans", sans-serif' textLength="10.63" lengthAdjust="spacingAndGlyphs">0</text>
</g>
<g fill="#383838">
<text x="489.28" y="419.60" font-size="17.37" font-family='"Liberation Sans", sans-serif' textLength="10.63" lengthAdjust="spacingAndGlyphs">1</text>
<text x="499.91" y="419.60" font-size="17.37" font-family='"Liberation Sans", sans-serif' textLength="10.63" lengthAdjust="spacingAndGlyphs">2</text>
<text x="510.53" y="419.60" font-size="17.37" font-family='"Liberation Sans", sans-serif' textLength="10.63" lengthAdjust="spacingAndGlyphs">0</text>
</g>
<g fill="#383838">
<text x="249.06" y="442.70" font-size="19.24" font-family='"Liberation Sans", sans-serif' textLength="14.25" lengthAdjust="spacingAndGlyphs">D</text>
<text x="263.31" y="442.70" font-size="19.24" font-family='"Liberation Sans", sans-serif' textLength="5.14" lengthAdjust="spacingAndGlyphs">i</text>
<text x="268.45" y="442.70" font-size="19.24" font-family='"Liberation Sans", sans-serif' textLength="9.64" lengthAdjust="spacingAndGlyphs">s</text>
<text x="278.09" y="442.70" font-size="19.24" font-family='"Liberation Sans", sans-serif' textLength="7.25" lengthAdjust="spacingAndGlyphs">t</text>
<text x="285.34" y="442.70" font-size="19.24" font-family='"Liberation Sans", sans-serif' textLength="11.34" lengthAdjust="spacingAndGlyphs">a</text>
<text x="296.68" y="442.70" font-size="19.24" font-family='"Liberation Sans", sans-serif' textLength="11.73" lengthAdjust="spacingAndGlyphs">n</text>
<text x="308.40" y="442.70" font-size="19.24" font-family='"Liberation Sans", sans-serif' textLength="10.17" lengthAdjust="spacingAndGlyphs">c</text>
<text x="318.58" y="442.70" font-size="19.24" font-family='"Liberation Sans", sans-serif' textLength="11.38" lengthAdjust="spacingAndGlyphs">e</text>
<text x="335.84" y="442.70" font-size="19.24" font-family='"Liberation Sans", sans-serif' textLength="7.22" lengthAdjust="spacingAndGlyphs">[</text>
<text x="343.06" y="442.70" font-size="19.24" font-family='"Liberation Sans", sans-serif' textLength="11.34" lengthAdjust="spacingAndGlyphs">a</text>
<text x="354.39" y="442.70" font-size="19.24" font-family='"Liberation Sans", sans-serif' textLength="11.73" lengthAdjust="spacingAndGlyphs">u</text>
<text x="366.12" y="442.70" font-size="19.24" font-family='"Liberation Sans", sans-serif' textLength="7.22" lengthAdjust="spacingAndGlyphs">]</text>
</g>
<g fill="#383838">
<text x="37.50" y="43.30" font-size="17.37" font-family='"Liberation Sans", sans-serif' textLength="10.20" lengthAdjust="spacingAndGlyphs">1</text>
<text x="47.70" y="43.30" font-size="17.37" font-family='"Liberation Sans", sans-serif' textLength="10.20" lengthAdjust="spacingAndGlyphs">0</text>
</g>
<g fill="#383838">
<text x="59.35" y="35.10" font-size="14.56" font-family='"Liberation Sans", sans-serif' textLength="5.05" lengthAdjust="spacingAndGlyphs">-</text>
<text x="64.40" y="35.10" font-size="14.56" font-family='"Liberation Sans", sans-serif' textLength="8.91" lengthAdjust="spacingAndGlyphs">1</text>
</g>
<g fill="#383838">
<text x="37.50" y="133.70" font-size="17.37" font-family='"Liberation Sans", sans-serif' textLength="10.20" lengthAdjust="spacingAndGlyphs">1</text>
<text x="47.70" y="133.70" font-size="17.37" font-family='"Liberation Sans", sans-serif' textLength="10.20" lengthAdjust="spacingAndGlyphs">0</text>
</g>
<g fill="#383838">
<text x="59.35" y="125.50" font-size="14.56" font-family='"Liberation Sans", sans-serif' textLength="5.05" lengthAdjust="spacingAndGlyphs">-</text>
<text x="64.40" y="125.50" font-size="14.56" font-family='"Liberation Sans", sans-serif' textLength="8.91" lengthAdjust="spacingAndGlyphs">2</text>
</g>
<g fill="#383838">
<text x="37.50" y="224.10" font-size="17.37" font-family='"Liberation Sans", sans-serif' textLength="10.20" lengthAdjust="spacingAndGlyphs">1</text>
<text x="47.70" y="224.10" font-size="17.37" font-family='"Liberation Sans", sans-serif' textLength="10.20" lengthAdjust="spacingAndGlyphs">0</text>
</g>
<g fill="#383838">
<text x="59.35" y="215.90" font-size="14.56" font-family='"Liberation Sans", sans-serif' textLength="5.05" lengthAdjust="spacingAndGlyphs">-</text>
<text x="64.40" y="215.90" font-size="14.56" font-family='"Liberation Sans", sans-serif' textLength="8.91" lengthAdjust="spacingAndGlyphs">3</text>
</g>
<g fill="#383838">
<text x="37.50" y="314.50" font-size="17.37" font-family='"Liberation Sans", sans-serif' textLength="10.20" lengthAdjust="spacingAndGlyphs">1</text>
<text x="47.70" y="314.50" font-size="17.37" font-family='"Liberation Sans", sans-serif' textLength="10.20" lengthAdjust="spacingAndGlyphs">0</text>
</g>
<g fill="#383838">
<text x="59.35" y="306.30" font-size="14.56" font-family='"Liberation Sans", sans-serif' textLength="5.05" lengthAdjust="spacingAndGlyphs">-</text>
<text x="64.40" y="306.30" font-size="14.56" font-family='"Liberation Sans", sans-serif' textLength="8.91" lengthAdjust="spacingAndGlyphs">4</text>
</g>
<g fill="#383838">
<text x="37.50" y="404.90" font-size="17.37" font-family='"Liberation Sans", sans-serif' textLength="10.20" lengthAdjust="spacingAndGlyphs">1</text>
<text x="47.70" y="404.90" font-size="17.37" font-family='"Liberation Sans", sans-serif' textLength="10.20" lengthAdjust="spacingAndGlyphs">0</text>
</g>
<g fill="#383838">
<text x="59.35" y="396.70" font-size="14.56" font-family='"Liberation Sans", sans-serif' textLength="5.05" lengthAdjust="spacingAndGlyphs">-</text>
<text x="64.40" y="396.70" font-size="14.56" font-family='"Liberation Sans", sans-serif' textLength="8.91" lengthAdjust="spacingAndGlyphs">5</text>
</g>
<g transform="rotate(-90 27.4 215.6)" fill="#383838">
<text x="-26.63" y="215.60" font-size="19.03" font-family='"Liberation Sans", sans-serif' textLength="15.95" lengthAdjust="spacingAndGlyphs">&lt;</text>
<text x="-10.69" y="215.60" font-size="19.03" font-family='"Liberation Sans", sans-serif' textLength="13.06" lengthAdjust="spacingAndGlyphs">B</text>
<text xml:space="preserve" x="2.37" y="207.60" font-size="14.56" font-family='"Liberation Sans", sans-serif' textLength="9.26" lengthAdjust="spacingAndGlyphs">2</text>
<text x="11.63" y="215.60" font-size="19.03" font-family='"Liberation Sans", sans-serif' textLength="15.95" lengthAdjust="spacingAndGlyphs">&gt;</text>
<text x="33.63" y="215.60" font-size="19.03" font-family='"Liberation Sans", sans-serif' textLength="7.43" lengthAdjust="spacingAndGlyphs">[</text>
<text x="41.06" y="215.60" font-size="19.03" font-family='"Liberation Sans", sans-serif' textLength="12.06" lengthAdjust="spacingAndGlyphs">n</text>
<text x="53.12" y="215.60" font-size="19.03" font-family='"Liberation Sans", sans-serif' textLength="11.63" lengthAdjust="spacingAndGlyphs">T</text>
<text xml:space="preserve" x="64.74" y="207.60" font-size="14.56" font-family='"Liberation Sans", sans-serif' textLength="9.26" lengthAdjust="spacingAndGlyphs">2</text>
<text xml:space="preserve" x="74.01" y="215.60" font-size="19.03" font-family='"Liberation Sans", sans-serif' textLength="7.43" lengthAdjust="spacingAndGlyphs">]</text>
</g>
<rect x="918.00" y="34.8" width="38.50" height="361.60" fill="#BF97C7" stroke="none"/>
<line x1="918.00" y1="34.8" x2="918.00" y2="396.4" stroke="#111" stroke-width="1.2"/>
<line x1="956.50" y1="34.8" x2="956.50" y2="396.4" stroke="#111" stroke-width="1.2"/>
<line x1="1097.3" y1="34.8" x2="1097.3" y2="396.4" stroke="#EDB120" stroke-width="2.0" stroke-dasharray="8 3.5 2 3.5" stroke-dashoffset="3.3"/>
<g transform="rotate(-90 944.8 361.90000000000003)" fill="#7E2F8E">
<text x="944.80" y="361.90" font-size="22.22" font-family='"Liberation Sans", sans-serif' textLength="16.07" lengthAdjust="spacingAndGlyphs">H</text>
<text x="960.87" y="361.90" font-size="22.22" font-family='"Liberation Sans", sans-serif' textLength="13.05" lengthAdjust="spacingAndGlyphs">T</text>
<text x="973.92" y="361.90" font-size="22.22" font-family='"Liberation Sans", sans-serif' textLength="13.56" lengthAdjust="spacingAndGlyphs">S</text>
<text x="994.28" y="361.90" font-size="22.22" font-family='"Liberation Sans", sans-serif' textLength="13.10" lengthAdjust="spacingAndGlyphs">a</text>
<text x="1007.38" y="361.90" font-size="22.22" font-family='"Liberation Sans", sans-serif' textLength="5.94" lengthAdjust="spacingAndGlyphs">l</text>
<text x="1013.31" y="361.90" font-size="22.22" font-family='"Liberation Sans", sans-serif' textLength="13.07" lengthAdjust="spacingAndGlyphs">o</text>
<text x="1026.39" y="361.90" font-size="22.22" font-family='"Liberation Sans", sans-serif' textLength="13.54" lengthAdjust="spacingAndGlyphs">n</text>
<text x="1039.93" y="361.90" font-size="22.22" font-family='"Liberation Sans", sans-serif' textLength="13.56" lengthAdjust="spacingAndGlyphs">g</text>
<text x="1060.29" y="361.90" font-size="22.22" font-family='"Liberation Sans", sans-serif' textLength="8.38" lengthAdjust="spacingAndGlyphs">t</text>
<text x="1068.67" y="361.90" font-size="22.22" font-family='"Liberation Sans", sans-serif' textLength="13.54" lengthAdjust="spacingAndGlyphs">h</text>
<text x="1082.21" y="361.90" font-size="22.22" font-family='"Liberation Sans", sans-serif' textLength="13.15" lengthAdjust="spacingAndGlyphs">e</text>
<text x="1102.15" y="361.90" font-size="22.22" font-family='"Liberation Sans", sans-serif' textLength="15.99" lengthAdjust="spacingAndGlyphs">N</text>
<text x="1118.14" y="361.90" font-size="22.22" font-family='"Liberation Sans", sans-serif' textLength="16.07" lengthAdjust="spacingAndGlyphs">H</text>
<text x="1141.00" y="361.90" font-size="22.22" font-family='"Liberation Sans", sans-serif' textLength="13.56" lengthAdjust="spacingAndGlyphs">d</text>
<text x="1154.57" y="361.90" font-size="22.22" font-family='"Liberation Sans", sans-serif' textLength="5.94" lengthAdjust="spacingAndGlyphs">i</text>
<text x="1160.50" y="361.90" font-size="22.22" font-family='"Liberation Sans", sans-serif' textLength="8.79" lengthAdjust="spacingAndGlyphs">r</text>
<text x="1169.29" y="361.90" font-size="22.22" font-family='"Liberation Sans", sans-serif' textLength="12.68" lengthAdjust="spacingAndGlyphs">e</text>
<text x="1181.97" y="361.90" font-size="22.22" font-family='"Liberation Sans", sans-serif' textLength="11.75" lengthAdjust="spacingAndGlyphs">c</text>
<text x="1193.72" y="361.90" font-size="22.22" font-family='"Liberation Sans", sans-serif' textLength="8.38" lengthAdjust="spacingAndGlyphs">t</text>
<text x="1202.10" y="361.90" font-size="22.22" font-family='"Liberation Sans", sans-serif' textLength="5.94" lengthAdjust="spacingAndGlyphs">i</text>
<text x="1208.03" y="361.90" font-size="22.22" font-family='"Liberation Sans", sans-serif' textLength="13.07" lengthAdjust="spacingAndGlyphs">o</text>
<text x="1221.11" y="361.90" font-size="22.22" font-family='"Liberation Sans", sans-serif' textLength="13.54" lengthAdjust="spacingAndGlyphs">n</text>
</g>
<g transform="rotate(-90 1123.5 361.90000000000003)" fill="#EDB120">
<text x="1123.50" y="361.90" font-size="22.22" font-family='"Liberation Sans", sans-serif' textLength="16.07" lengthAdjust="spacingAndGlyphs">H</text>
<text x="1139.57" y="361.90" font-size="22.22" font-family='"Liberation Sans", sans-serif' textLength="13.05" lengthAdjust="spacingAndGlyphs">T</text>
<text x="1152.62" y="361.90" font-size="22.22" font-family='"Liberation Sans", sans-serif' textLength="13.56" lengthAdjust="spacingAndGlyphs">S</text>
<text x="1172.98" y="361.90" font-size="22.22" font-family='"Liberation Sans", sans-serif' textLength="13.10" lengthAdjust="spacingAndGlyphs">a</text>
<text x="1186.08" y="361.90" font-size="22.22" font-family='"Liberation Sans", sans-serif' textLength="5.94" lengthAdjust="spacingAndGlyphs">l</text>
<text x="1192.01" y="361.90" font-size="22.22" font-family='"Liberation Sans", sans-serif' textLength="13.07" lengthAdjust="spacingAndGlyphs">o</text>
<text x="1205.09" y="361.90" font-size="22.22" font-family='"Liberation Sans", sans-serif' textLength="13.54" lengthAdjust="spacingAndGlyphs">n</text>
<text x="1218.63" y="361.90" font-size="22.22" font-family='"Liberation Sans", sans-serif' textLength="13.56" lengthAdjust="spacingAndGlyphs">g</text>
<text x="1238.99" y="361.90" font-size="22.22" font-family='"Liberation Sans", sans-serif' textLength="8.38" lengthAdjust="spacingAndGlyphs">t</text>
<text x="1247.37" y="361.90" font-size="22.22" font-family='"Liberation Sans", sans-serif' textLength="13.54" lengthAdjust="spacingAndGlyphs">h</text>
<text x="1260.91" y="361.90" font-size="22.22" font-family='"Liberation Sans", sans-serif' textLength="13.15" lengthAdjust="spacingAndGlyphs">e</text>
<text x="1280.85" y="361.90" font-size="22.22" font-family='"Liberation Sans", sans-serif' textLength="12.89" lengthAdjust="spacingAndGlyphs">P</text>
<text x="1293.74" y="361.90" font-size="22.22" font-family='"Liberation Sans", sans-serif' textLength="13.60" lengthAdjust="spacingAndGlyphs">1</text>
<text x="1307.34" y="361.90" font-size="22.22" font-family='"Liberation Sans", sans-serif' textLength="13.60" lengthAdjust="spacingAndGlyphs">0</text>
<text x="1327.73" y="361.90" font-size="22.22" font-family='"Liberation Sans", sans-serif' textLength="13.56" lengthAdjust="spacingAndGlyphs">d</text>
<text x="1341.29" y="361.90" font-size="22.22" font-family='"Liberation Sans", sans-serif' textLength="5.94" lengthAdjust="spacingAndGlyphs">i</text>
<text x="1347.23" y="361.90" font-size="22.22" font-family='"Liberation Sans", sans-serif' textLength="8.79" lengthAdjust="spacingAndGlyphs">r</text>
<text x="1356.01" y="361.90" font-size="22.22" font-family='"Liberation Sans", sans-serif' textLength="12.68" lengthAdjust="spacingAndGlyphs">e</text>
<text x="1368.69" y="361.90" font-size="22.22" font-family='"Liberation Sans", sans-serif' textLength="11.75" lengthAdjust="spacingAndGlyphs">c</text>
<text x="1380.44" y="361.90" font-size="22.22" font-family='"Liberation Sans", sans-serif' textLength="8.38" lengthAdjust="spacingAndGlyphs">t</text>
<text x="1388.82" y="361.90" font-size="22.22" font-family='"Liberation Sans", sans-serif' textLength="5.94" lengthAdjust="spacingAndGlyphs">i</text>
<text x="1394.76" y="361.90" font-size="22.22" font-family='"Liberation Sans", sans-serif' textLength="13.07" lengthAdjust="spacingAndGlyphs">o</text>
<text x="1407.83" y="361.90" font-size="22.22" font-family='"Liberation Sans", sans-serif' textLength="13.54" lengthAdjust="spacingAndGlyphs">n</text>
</g>
<path d="M689.60,286.77 L690.60,284.85 L691.60,282.98 L692.60,281.16 L693.60,279.39 L694.60,277.67 L695.60,275.99 L696.60,274.36 L697.60,272.78 L698.60,271.24 L699.60,269.74 L700.60,268.28 L701.60,266.85 L702.60,265.47 L703.60,264.13 L704.60,262.82 L705.60,261.54 L706.60,260.30 L707.60,259.09 L708.60,257.91 L709.60,256.76 L710.60,255.63 L711.60,254.54 L712.60,253.47 L713.60,252.42 L714.60,251.40 L715.60,250.40 L716.60,249.42 L717.60,248.45 L718.60,247.51 L719.60,246.58 L720.60,245.67 L721.60,244.78 L722.60,243.89 L723.60,243.02 L724.60,242.16 L725.60,241.30 L726.60,240.46 L727.60,239.62 L728.60,238.79 L729.60,237.96 L730.60,237.14 L731.60,236.32 L732.60,235.51 L733.60,234.70 L734.60,233.90 L735.60,233.10 L736.60,232.30 L737.60,231.51 L738.60,230.73 L739.60,229.94 L740.60,229.17 L741.60,228.39 L742.60,227.62 L743.60,226.86 L744.60,226.10 L745.60,225.34 L746.60,224.59 L747.60,223.84 L748.60,223.09 L749.60,222.35 L750.60,221.61 L751.60,220.88 L752.60,220.15 L753.60,219.42 L754.60,218.70 L755.60,217.97 L756.60,217.26 L757.60,216.54 L758.60,215.83 L759.60,215.12 L760.60,214.42 L761.60,213.72 L762.60,213.02 L763.60,212.32 L764.60,211.63 L765.60,210.93 L766.60,210.25 L767.60,209.56 L768.60,208.88 L769.60,208.20 L770.60,207.52 L771.60,206.84 L772.60,206.17 L773.60,205.50 L774.60,204.83 L775.60,204.16 L776.60,203.50 L777.60,202.83 L778.60,202.17 L779.60,201.51 L780.60,200.85 L781.60,200.20 L782.60,199.54 L783.60,198.89 L784.60,198.24 L785.60,197.59 L786.60,196.95 L787.60,196.30 L788.60,195.66 L789.60,195.01 L790.60,194.37 L791.60,193.73 L792.60,193.09 L793.60,192.46 L794.60,191.82 L795.60,191.19 L796.60,190.55 L797.60,189.92 L798.60,189.29 L799.60,188.67 L800.60,188.04 L801.60,187.41 L802.60,186.79 L803.60,186.16 L804.60,185.54 L805.60,184.92 L806.60,184.30 L807.60,183.68 L808.60,183.06 L809.60,182.44 L810.60,181.83 L811.60,181.21 L812.60,180.60 L813.60,179.98 L814.60,179.37 L815.60,178.76 L816.60,178.15 L817.60,177.54 L818.60,176.93 L819.60,176.32 L820.60,175.71 L821.60,175.11 L822.60,174.50 L823.60,173.89 L824.60,173.29 L825.60,172.68 L826.60,172.08 L827.60,171.48 L828.60,170.87 L829.60,170.27 L830.60,169.67 L831.60,169.07 L832.60,168.47 L833.60,167.87 L834.60,167.27 L835.60,166.67 L836.60,166.07 L837.60,165.47 L838.60,164.87 L839.60,164.27 L840.60,163.67 L841.60,163.07 L842.60,162.47 L843.60,161.87 L844.60,161.28 L845.60,160.68 L846.60,160.08 L847.60,159.48 L848.60,158.88 L849.60,158.29 L850.60,157.69 L851.60,157.09 L852.60,156.49 L853.60,155.89 L854.60,155.29 L855.60,154.69 L856.60,154.09 L857.60,153.50 L858.60,152.90 L859.60,152.30 L860.60,151.70 L861.60,151.09 L862.60,150.49 L863.60,149.89 L864.60,149.29 L865.60,148.69 L866.60,148.08 L867.60,147.48 L868.60,146.88 L869.60,146.27 L870.60,145.67 L871.60,145.06 L872.60,144.46 L873.60,143.85 L874.60,143.24 L875.60,142.63 L876.60,142.02 L877.60,141.41 L878.60,140.80 L879.60,140.19 L880.60,139.58 L881.60,138.96 L882.60,138.35 L883.60,137.73 L884.60,137.12 L885.60,136.50 L886.60,135.88 L887.60,135.26 L888.60,134.64 L889.60,134.02 L890.60,133.40 L891.60,132.78 L892.60,132.15 L893.60,131.52 L894.60,130.90 L895.60,130.27 L896.60,129.64 L897.60,129.01 L898.60,128.37 L899.60,127.74 L900.60,127.11 L901.60,126.47 L902.60,125.83 L903.60,125.19 L904.60,124.55 L905.60,123.91 L906.60,123.26 L907.60,122.62 L908.60,121.97 L909.60,121.32 L910.60,120.67" fill="none" stroke="#7E2F8E" stroke-width="1.9" stroke-linejoin="round" stroke-linecap="round"/>
<path d="M689.00,293.60 L690.00,292.54 L691.00,291.49 L692.00,290.46 L693.00,289.43 L694.00,288.41 L695.00,287.40 L696.00,286.40 L697.00,285.41 L698.00,284.43 L699.00,283.46 L700.00,282.49 L701.00,281.54 L702.00,280.59 L703.00,279.65 L704.00,278.72 L705.00,277.80 L706.00,276.89 L707.00,275.98 L708.00,275.09 L709.00,274.20 L710.00,273.32 L711.00,272.45 L712.00,271.58 L713.00,270.72 L714.00,269.87 L715.00,269.03 L716.00,268.20 L717.00,267.37 L718.00,266.55 L719.00,265.74 L720.00,264.93 L721.00,264.14 L722.00,263.34 L723.00,262.56 L724.00,261.78 L725.00,261.01 L726.00,260.25 L727.00,259.49 L728.00,258.74 L729.00,258.00 L730.00,257.26 L731.00,256.53 L732.00,255.80 L733.00,255.08 L734.00,254.37 L735.00,253.66 L736.00,252.96 L737.00,252.26 L738.00,251.57 L739.00,250.88 L740.00,250.20 L741.00,249.53 L742.00,248.86 L743.00,248.20 L744.00,247.54 L745.00,246.89 L746.00,246.24 L747.00,245.60 L748.00,244.96 L749.00,244.33 L750.00,243.70 L751.00,243.07 L752.00,242.46 L753.00,241.84 L754.00,241.23 L755.00,240.63 L756.00,240.03 L757.00,239.44 L758.00,238.85 L759.00,238.26 L760.00,237.68 L761.00,237.10 L762.00,236.53 L763.00,235.96 L764.00,235.40 L765.00,234.84 L766.00,234.28 L767.00,233.73 L768.00,233.18 L769.00,232.64 L770.00,232.10 L771.00,231.56 L772.00,231.03 L773.00,230.50 L774.00,229.97 L775.00,229.45 L776.00,228.93 L777.00,228.42 L778.00,227.91 L779.00,227.40 L780.00,226.90 L781.00,226.40 L782.00,225.90 L783.00,225.41 L784.00,224.91 L785.00,224.43 L786.00,223.94 L787.00,223.46 L788.00,222.98 L789.00,222.50 L790.00,222.03 L791.00,221.56 L792.00,221.09 L793.00,220.63 L794.00,220.17 L795.00,219.71 L796.00,219.25 L797.00,218.79 L798.00,218.34 L799.00,217.89 L800.00,217.44 L801.00,217.00 L802.00,216.56 L803.00,216.11 L804.00,215.68 L805.00,215.24 L806.00,214.80 L807.00,214.37 L808.00,213.94 L809.00,213.51 L810.00,213.08 L811.00,212.66 L812.00,212.23 L813.00,211.81 L814.00,211.39 L815.00,210.97 L816.00,210.55 L817.00,210.14 L818.00,209.72 L819.00,209.31 L820.00,208.90 L821.00,208.49 L822.00,208.08 L823.00,207.67 L824.00,207.26 L825.00,206.86 L826.00,206.45 L827.00,206.05 L828.00,205.64 L829.00,205.24 L830.00,204.84 L831.00,204.44 L832.00,204.05 L833.00,203.65 L834.00,203.26 L835.00,202.86 L836.00,202.47 L837.00,202.08 L838.00,201.69 L839.00,201.30 L840.00,200.91 L841.00,200.52 L842.00,200.13 L843.00,199.75 L844.00,199.37 L845.00,198.98 L846.00,198.60 L847.00,198.22 L848.00,197.84 L849.00,197.46 L850.00,197.09 L851.00,196.71 L852.00,196.34 L853.00,195.96 L854.00,195.59 L855.00,195.22 L856.00,194.85 L857.00,194.48 L858.00,194.11 L859.00,193.74 L860.00,193.37 L861.00,193.01 L862.00,192.65 L863.00,192.28 L864.00,191.92 L865.00,191.56 L866.00,191.20 L867.00,190.84 L868.00,190.48 L869.00,190.12 L870.00,189.77 L871.00,189.41 L872.00,189.06 L873.00,188.71 L874.00,188.36 L875.00,188.00 L876.00,187.65 L877.00,187.31 L878.00,186.96 L879.00,186.61 L880.00,186.26 L881.00,185.92 L882.00,185.58 L883.00,185.23 L884.00,184.89 L885.00,184.55 L886.00,184.21 L887.00,183.87 L888.00,183.53 L889.00,183.19 L890.00,182.86 L891.00,182.52 L892.00,182.19 L893.00,181.85 L894.00,181.52 L895.00,181.19 L896.00,180.86 L897.00,180.53 L898.00,180.20 L899.00,179.87 L900.00,179.54 L901.00,179.22 L902.00,178.89 L903.00,178.57 L904.00,178.24 L905.00,177.92 L906.00,177.60 L907.00,177.28 L908.00,176.96 L909.00,176.64 L910.00,176.32 L911.00,176.00 L912.00,175.69 L913.00,175.37 L914.00,175.05 L915.00,174.74 L916.00,174.43 L917.00,174.11 L918.00,173.80 L919.00,173.49 L920.00,173.18 L921.00,172.87 L922.00,172.56 L923.00,172.25 L924.00,171.95 L925.00,171.64 L926.00,171.34 L927.00,171.03 L928.00,170.73 L929.00,170.42 L930.00,170.12 L931.00,169.82 L932.00,169.52 L933.00,169.22 L934.00,168.92 L935.00,168.62 L936.00,168.32 L937.00,168.02 L938.00,167.73 L939.00,167.43 L940.00,167.14 L941.00,166.84 L942.00,166.55 L943.00,166.26 L944.00,165.96 L945.00,165.67 L946.00,165.38 L947.00,165.09 L948.00,164.80 L949.00,164.51 L950.00,164.23 L951.00,163.94 L952.00,163.65 L953.00,163.37 L954.00,163.08 L955.00,162.80 L956.00,162.51 L957.00,162.23 L958.00,161.95 L959.00,161.66 L960.00,161.38 L961.00,161.10 L962.00,160.82 L963.00,160.54 L964.00,160.26 L965.00,159.99 L966.00,159.71 L967.00,159.43 L968.00,159.15 L969.00,158.88 L970.00,158.60 L971.00,158.33 L972.00,158.05 L973.00,157.78 L974.00,157.51 L975.00,157.24 L976.00,156.96 L977.00,156.69 L978.00,156.42 L979.00,156.15 L980.00,155.88 L981.00,155.61 L982.00,155.35 L983.00,155.08 L984.00,154.81 L985.00,154.54 L986.00,154.28 L987.00,154.01 L988.00,153.75 L989.00,153.48 L990.00,153.22 L991.00,152.95 L992.00,152.69 L993.00,152.43 L994.00,152.17 L995.00,151.90 L996.00,151.64 L997.00,151.38 L998.00,151.12 L999.00,150.86 L1000.00,150.60 L1001.00,150.34 L1002.00,150.09 L1003.00,149.83 L1004.00,149.57 L1005.00,149.31 L1006.00,149.06 L1007.00,148.80 L1008.00,148.55 L1009.00,148.29 L1010.00,148.04 L1011.00,147.78 L1012.00,147.53 L1013.00,147.27 L1014.00,147.02 L1015.00,146.77 L1016.00,146.52 L1017.00,146.26 L1018.00,146.01 L1019.00,145.76 L1020.00,145.51 L1021.00,145.26 L1022.00,145.01 L1023.00,144.76 L1024.00,144.51 L1025.00,144.26 L1026.00,144.01 L1027.00,143.77 L1028.00,143.52 L1029.00,143.27 L1030.00,143.02 L1031.00,142.78 L1032.00,142.53 L1033.00,142.28 L1034.00,142.04 L1035.00,141.79 L1036.00,141.55 L1037.00,141.30 L1038.00,141.06 L1039.00,140.81 L1040.00,140.57 L1041.00,140.33 L1042.00,140.08 L1043.00,139.84 L1044.00,139.60 L1045.00,139.35 L1046.00,139.11 L1047.00,138.87 L1048.00,138.63 L1049.00,138.39 L1050.00,138.15 L1051.00,137.91 L1052.00,137.66 L1053.00,137.42 L1054.00,137.18 L1055.00,136.94 L1056.00,136.70 L1057.00,136.47 L1058.00,136.23 L1059.00,135.99 L1060.00,135.75 L1061.00,135.51 L1062.00,135.27 L1063.00,135.03 L1064.00,134.80 L1065.00,134.56 L1066.00,134.32 L1067.00,134.08 L1068.00,133.85 L1069.00,133.61 L1070.00,133.37 L1071.00,133.13 L1072.00,132.90 L1073.00,132.66 L1074.00,132.43 L1075.00,132.19 L1076.00,131.95 L1077.00,131.72 L1078.00,131.48 L1079.00,131.25 L1080.00,131.01 L1081.00,130.78 L1082.00,130.54 L1083.00,130.31 L1084.00,130.07 L1085.00,129.84 L1086.00,129.60 L1087.00,129.37 L1088.00,129.13 L1089.00,128.90 L1089.50,128.78" fill="none" stroke="#EDB120" stroke-width="1.9" stroke-linejoin="round" stroke-linecap="round"/>
<circle cx="742.00" cy="206.40" r="2.1" fill="#62A9B8"/>
<circle cx="747.00" cy="208.40" r="2.1" fill="#62A9B8"/>
<circle cx="687.60" cy="231.00" r="2.1" fill="#62A9B8"/>
<circle cx="744.00" cy="230.00" r="2.1" fill="#62A9B8"/>
<circle cx="765.00" cy="246.40" r="2.1" fill="#62A9B8"/>
<circle cx="697.60" cy="258.20" r="2.1" fill="#62A9B8"/>
<circle cx="724.00" cy="260.60" r="2.1" fill="#62A9B8"/>
<circle cx="729.60" cy="267.60" r="2.1" fill="#62A9B8"/>
<circle cx="754.60" cy="259.50" r="2.1" fill="#62A9B8"/>
<circle cx="772.00" cy="266.00" r="2.1" fill="#62A9B8"/>
<circle cx="686.60" cy="277.00" r="2.1" fill="#62A9B8"/>
<circle cx="760.00" cy="274.40" r="2.1" fill="#62A9B8"/>
<circle cx="762.60" cy="275.40" r="2.1" fill="#62A9B8"/>
<circle cx="690.00" cy="289.60" r="2.1" fill="#62A9B8"/>
<circle cx="722.00" cy="293.20" r="2.1" fill="#62A9B8"/>
<circle cx="750.40" cy="306.20" r="2.1" fill="#62A9B8"/>
<circle cx="783.20" cy="305.40" r="2.1" fill="#62A9B8"/>
<circle cx="719.60" cy="313.20" r="2.1" fill="#62A9B8"/>
<circle cx="753.00" cy="315.00" r="2.1" fill="#62A9B8"/>
<circle cx="775.40" cy="315.60" r="2.1" fill="#62A9B8"/>
<circle cx="766.00" cy="322.00" r="2.1" fill="#62A9B8"/>
<circle cx="825.00" cy="315.40" r="2.1" fill="#62A9B8"/>
<circle cx="739.20" cy="374.00" r="2.1" fill="#62A9B8"/>
<circle cx="757.60" cy="393.00" r="2.1" fill="#62A9B8"/>
<line x1="689.23" y1="396.4" x2="689.23" y2="392.59999999999997" stroke="#262626" stroke-width="1"/>
<line x1="689.23" y1="34.8" x2="689.23" y2="38.599999999999994" stroke="#262626" stroke-width="1"/>
<line x1="727.37" y1="396.4" x2="727.37" y2="392.59999999999997" stroke="#262626" stroke-width="1"/>
<line x1="727.37" y1="34.8" x2="727.37" y2="38.599999999999994" stroke="#262626" stroke-width="1"/>
<line x1="803.63" y1="396.4" x2="803.63" y2="392.59999999999997" stroke="#262626" stroke-width="1"/>
<line x1="803.63" y1="34.8" x2="803.63" y2="38.599999999999994" stroke="#262626" stroke-width="1"/>
<line x1="879.89" y1="396.4" x2="879.89" y2="392.59999999999997" stroke="#262626" stroke-width="1"/>
<line x1="879.89" y1="34.8" x2="879.89" y2="38.599999999999994" stroke="#262626" stroke-width="1"/>
<line x1="918.02" y1="396.4" x2="918.02" y2="392.59999999999997" stroke="#262626" stroke-width="1"/>
<line x1="918.02" y1="34.8" x2="918.02" y2="38.599999999999994" stroke="#262626" stroke-width="1"/>
<line x1="956.16" y1="396.4" x2="956.16" y2="392.59999999999997" stroke="#262626" stroke-width="1"/>
<line x1="956.16" y1="34.8" x2="956.16" y2="38.599999999999994" stroke="#262626" stroke-width="1"/>
<line x1="1032.42" y1="396.4" x2="1032.42" y2="392.59999999999997" stroke="#262626" stroke-width="1"/>
<line x1="1032.42" y1="34.8" x2="1032.42" y2="38.599999999999994" stroke="#262626" stroke-width="1"/>
<line x1="1108.68" y1="396.4" x2="1108.68" y2="392.59999999999997" stroke="#262626" stroke-width="1"/>
<line x1="1108.68" y1="34.8" x2="1108.68" y2="38.599999999999994" stroke="#262626" stroke-width="1"/>
<line x1="685.6" y1="396.40" x2="689.8000000000001" y2="396.40" stroke="#262626" stroke-width="1"/>
<line x1="1146.5" y1="396.40" x2="1142.3" y2="396.40" stroke="#262626" stroke-width="1"/>
<line x1="685.6" y1="303.80" x2="687.3000000000001" y2="303.80" stroke="#262626" stroke-width="1"/>
<line x1="1146.5" y1="303.80" x2="1144.8" y2="303.80" stroke="#262626" stroke-width="1"/>
<line x1="685.6" y1="249.64" x2="687.3000000000001" y2="249.64" stroke="#262626" stroke-width="1"/>
<line x1="1146.5" y1="249.64" x2="1144.8" y2="249.64" stroke="#262626" stroke-width="1"/>
<line x1="685.6" y1="211.21" x2="687.3000000000001" y2="211.21" stroke="#262626" stroke-width="1"/>
<line x1="1146.5" y1="211.21" x2="1144.8" y2="211.21" stroke="#262626" stroke-width="1"/>
<line x1="685.6" y1="181.40" x2="687.3000000000001" y2="181.40" stroke="#262626" stroke-width="1"/>
<line x1="1146.5" y1="181.40" x2="1144.8" y2="181.40" stroke="#262626" stroke-width="1"/>
<line x1="685.6" y1="157.04" x2="687.3000000000001" y2="157.04" stroke="#262626" stroke-width="1"/>
<line x1="1146.5" y1="157.04" x2="1144.8" y2="157.04" stroke="#262626" stroke-width="1"/>
<line x1="685.6" y1="136.45" x2="687.3000000000001" y2="136.45" stroke="#262626" stroke-width="1"/>
<line x1="1146.5" y1="136.45" x2="1144.8" y2="136.45" stroke="#262626" stroke-width="1"/>
<line x1="685.6" y1="118.61" x2="687.3000000000001" y2="118.61" stroke="#262626" stroke-width="1"/>
<line x1="1146.5" y1="118.61" x2="1144.8" y2="118.61" stroke="#262626" stroke-width="1"/>
<line x1="685.6" y1="102.88" x2="687.3000000000001" y2="102.88" stroke="#262626" stroke-width="1"/>
<line x1="1146.5" y1="102.88" x2="1144.8" y2="102.88" stroke="#262626" stroke-width="1"/>
<line x1="685.6" y1="88.80" x2="689.8000000000001" y2="88.80" stroke="#262626" stroke-width="1"/>
<line x1="1146.5" y1="88.80" x2="1142.3" y2="88.80" stroke="#262626" stroke-width="1"/>
<path d="M685.6,34.8 L1146.5,34.8 L1146.5,396.4 L685.6,396.4" fill="none" stroke="#262626" stroke-width="1.1" stroke-linejoin="miter"/>
<line x1="685.6" y1="34.3" x2="685.6" y2="396.9" stroke="#6e6e6e" stroke-width="1.4"/>
<rect x="692.4" y="42.9" width="135" height="61.9" fill="#fff" stroke="#262626" stroke-width="1.1"/>
<line x1="695.9" y1="53.6" x2="738.4" y2="53.6" stroke="#7E2F8E" stroke-width="2.9"/>
<g fill="#383838">
<text x="741.80" y="59.20" font-size="15.10" font-family='"Liberation Sans", sans-serif' textLength="14.81" lengthAdjust="spacingAndGlyphs">m</text>
<text x="756.61" y="59.20" font-size="15.10" font-family='"Liberation Sans", sans-serif' textLength="9.30" lengthAdjust="spacingAndGlyphs">o</text>
<text x="765.91" y="59.20" font-size="15.10" font-family='"Liberation Sans", sans-serif' textLength="9.65" lengthAdjust="spacingAndGlyphs">d</text>
<text x="775.55" y="59.20" font-size="15.10" font-family='"Liberation Sans", sans-serif' textLength="9.35" lengthAdjust="spacingAndGlyphs">e</text>
<text x="784.91" y="59.20" font-size="15.10" font-family='"Liberation Sans", sans-serif' textLength="4.22" lengthAdjust="spacingAndGlyphs">l</text>
<text x="789.13" y="59.20" font-size="15.10" font-family='"Liberation Sans", sans-serif' textLength="5.48" lengthAdjust="spacingAndGlyphs">-</text>
<text x="794.61" y="59.20" font-size="15.10" font-family='"Liberation Sans", sans-serif' textLength="11.37" lengthAdjust="spacingAndGlyphs">N</text>
<text x="805.98" y="59.20" font-size="15.10" font-family='"Liberation Sans", sans-serif' textLength="11.43" lengthAdjust="spacingAndGlyphs">H</text>
</g>
<line x1="695.9" y1="73.8" x2="738.4" y2="73.8" stroke="#EDB120" stroke-width="2.9"/>
<g fill="#383838">
<text x="741.80" y="79.40" font-size="15.10" font-family='"Liberation Sans", sans-serif' textLength="14.81" lengthAdjust="spacingAndGlyphs">m</text>
<text x="756.61" y="79.40" font-size="15.10" font-family='"Liberation Sans", sans-serif' textLength="9.30" lengthAdjust="spacingAndGlyphs">o</text>
<text x="765.91" y="79.40" font-size="15.10" font-family='"Liberation Sans", sans-serif' textLength="9.65" lengthAdjust="spacingAndGlyphs">d</text>
<text x="775.55" y="79.40" font-size="15.10" font-family='"Liberation Sans", sans-serif' textLength="9.35" lengthAdjust="spacingAndGlyphs">e</text>
<text x="784.91" y="79.40" font-size="15.10" font-family='"Liberation Sans", sans-serif' textLength="4.22" lengthAdjust="spacingAndGlyphs">l</text>
<text x="789.13" y="79.40" font-size="15.10" font-family='"Liberation Sans", sans-serif' textLength="5.48" lengthAdjust="spacingAndGlyphs">-</text>
<text x="794.61" y="79.40" font-size="15.10" font-family='"Liberation Sans", sans-serif' textLength="9.17" lengthAdjust="spacingAndGlyphs">P</text>
<text x="803.78" y="79.40" font-size="15.10" font-family='"Liberation Sans", sans-serif' textLength="9.67" lengthAdjust="spacingAndGlyphs">1</text>
<text x="813.45" y="79.40" font-size="15.10" font-family='"Liberation Sans", sans-serif' textLength="9.67" lengthAdjust="spacingAndGlyphs">0</text>
</g>
<circle cx="717.4" cy="93.7" r="1.4" fill="#62A9B8"/>
<g fill="#383838">
<text x="741.80" y="99.30" font-size="15.10" font-family='"Liberation Sans", sans-serif' textLength="11.96" lengthAdjust="spacingAndGlyphs">O</text>
<text x="753.76" y="99.30" font-size="15.10" font-family='"Liberation Sans", sans-serif' textLength="9.65" lengthAdjust="spacingAndGlyphs">b</text>
<text x="763.41" y="99.30" font-size="15.10" font-family='"Liberation Sans", sans-serif' textLength="7.92" lengthAdjust="spacingAndGlyphs">s</text>
<text x="771.33" y="99.30" font-size="15.10" font-family='"Liberation Sans", sans-serif' textLength="5.48" lengthAdjust="spacingAndGlyphs">-</text>
<text x="776.82" y="99.30" font-size="15.10" font-family='"Liberation Sans", sans-serif' textLength="9.51" lengthAdjust="spacingAndGlyphs">V</text>
<text x="786.32" y="99.30" font-size="15.10" font-family='"Liberation Sans", sans-serif' textLength="9.67" lengthAdjust="spacingAndGlyphs">2</text>
</g>
<g fill="#383838">
<text x="678.61" y="419.60" font-size="17.37" font-family='"Liberation Sans", sans-serif' textLength="10.63" lengthAdjust="spacingAndGlyphs">1</text>
<text x="689.23" y="419.60" font-size="17.37" font-family='"Liberation Sans", sans-serif' textLength="10.63" lengthAdjust="spacingAndGlyphs">0</text>
</g>
<g fill="#383838">
<text x="716.74" y="419.60" font-size="17.37" font-family='"Liberation Sans", sans-serif' textLength="10.63" lengthAdjust="spacingAndGlyphs">2</text>
<text x="727.37" y="419.60" font-size="17.37" font-family='"Liberation Sans", sans-serif' textLength="10.63" lengthAdjust="spacingAndGlyphs">0</text>
</g>
<g fill="#383838">
<text x="793.00" y="419.60" font-size="17.37" font-family='"Liberation Sans", sans-serif' textLength="10.63" lengthAdjust="spacingAndGlyphs">4</text>
<text x="803.63" y="419.60" font-size="17.37" font-family='"Liberation Sans", sans-serif' textLength="10.63" lengthAdjust="spacingAndGlyphs">0</text>
</g>
<g fill="#383838">
<text x="869.27" y="419.60" font-size="17.37" font-family='"Liberation Sans", sans-serif' textLength="10.63" lengthAdjust="spacingAndGlyphs">6</text>
<text x="879.89" y="419.60" font-size="17.37" font-family='"Liberation Sans", sans-serif' textLength="10.63" lengthAdjust="spacingAndGlyphs">0</text>
</g>
<g fill="#383838">
<text x="907.40" y="419.60" font-size="17.37" font-family='"Liberation Sans", sans-serif' textLength="10.63" lengthAdjust="spacingAndGlyphs">7</text>
<text x="918.02" y="419.60" font-size="17.37" font-family='"Liberation Sans", sans-serif' textLength="10.63" lengthAdjust="spacingAndGlyphs">0</text>
</g>
<g fill="#383838">
<text x="945.53" y="419.60" font-size="17.37" font-family='"Liberation Sans", sans-serif' textLength="10.63" lengthAdjust="spacingAndGlyphs">8</text>
<text x="956.16" y="419.60" font-size="17.37" font-family='"Liberation Sans", sans-serif' textLength="10.63" lengthAdjust="spacingAndGlyphs">0</text>
</g>
<g fill="#383838">
<text x="1016.48" y="419.60" font-size="17.37" font-family='"Liberation Sans", sans-serif' textLength="10.63" lengthAdjust="spacingAndGlyphs">1</text>
<text x="1027.11" y="419.60" font-size="17.37" font-family='"Liberation Sans", sans-serif' textLength="10.63" lengthAdjust="spacingAndGlyphs">0</text>
<text x="1037.73" y="419.60" font-size="17.37" font-family='"Liberation Sans", sans-serif' textLength="10.63" lengthAdjust="spacingAndGlyphs">0</text>
</g>
<g fill="#383838">
<text x="1092.74" y="419.60" font-size="17.37" font-family='"Liberation Sans", sans-serif' textLength="10.63" lengthAdjust="spacingAndGlyphs">1</text>
<text x="1103.37" y="419.60" font-size="17.37" font-family='"Liberation Sans", sans-serif' textLength="10.63" lengthAdjust="spacingAndGlyphs">2</text>
<text x="1113.99" y="419.60" font-size="17.37" font-family='"Liberation Sans", sans-serif' textLength="10.63" lengthAdjust="spacingAndGlyphs">0</text>
</g>
<g fill="#383838">
<text x="853.91" y="442.70" font-size="19.24" font-family='"Liberation Sans", sans-serif' textLength="14.25" lengthAdjust="spacingAndGlyphs">D</text>
<text x="868.16" y="442.70" font-size="19.24" font-family='"Liberation Sans", sans-serif' textLength="5.14" lengthAdjust="spacingAndGlyphs">i</text>
<text x="873.30" y="442.70" font-size="19.24" font-family='"Liberation Sans", sans-serif' textLength="9.64" lengthAdjust="spacingAndGlyphs">s</text>
<text x="882.94" y="442.70" font-size="19.24" font-family='"Liberation Sans", sans-serif' textLength="7.25" lengthAdjust="spacingAndGlyphs">t</text>
<text x="890.19" y="442.70" font-size="19.24" font-family='"Liberation Sans", sans-serif' textLength="11.34" lengthAdjust="spacingAndGlyphs">a</text>
<text x="901.53" y="442.70" font-size="19.24" font-family='"Liberation Sans", sans-serif' textLength="11.73" lengthAdjust="spacingAndGlyphs">n</text>
<text x="913.25" y="442.70" font-size="19.24" font-family='"Liberation Sans", sans-serif' textLength="10.17" lengthAdjust="spacingAndGlyphs">c</text>
<text x="923.43" y="442.70" font-size="19.24" font-family='"Liberation Sans", sans-serif' textLength="11.38" lengthAdjust="spacingAndGlyphs">e</text>
<text x="940.69" y="442.70" font-size="19.24" font-family='"Liberation Sans", sans-serif' textLength="7.22" lengthAdjust="spacingAndGlyphs">[</text>
<text x="947.91" y="442.70" font-size="19.24" font-family='"Liberation Sans", sans-serif' textLength="11.34" lengthAdjust="spacingAndGlyphs">a</text>
<text x="959.24" y="442.70" font-size="19.24" font-family='"Liberation Sans", sans-serif' textLength="11.73" lengthAdjust="spacingAndGlyphs">u</text>
<text x="970.97" y="442.70" font-size="19.24" font-family='"Liberation Sans", sans-serif' textLength="7.22" lengthAdjust="spacingAndGlyphs">]</text>
</g>
<g fill="#383838">
<text x="646.90" y="404.90" font-size="17.37" font-family='"Liberation Sans", sans-serif' textLength="10.20" lengthAdjust="spacingAndGlyphs">1</text>
<text x="657.10" y="404.90" font-size="17.37" font-family='"Liberation Sans", sans-serif' textLength="10.20" lengthAdjust="spacingAndGlyphs">0</text>
</g>
<g fill="#383838">
<text xml:space="preserve" x="668.75" y="396.70" font-size="14.56" font-family='"Liberation Sans", sans-serif' textLength="8.91" lengthAdjust="spacingAndGlyphs">0</text>
</g>
<g fill="#383838">
<text x="646.90" y="97.30" font-size="17.37" font-family='"Liberation Sans", sans-serif' textLength="10.20" lengthAdjust="spacingAndGlyphs">1</text>
<text x="657.10" y="97.30" font-size="17.37" font-family='"Liberation Sans", sans-serif' textLength="10.20" lengthAdjust="spacingAndGlyphs">0</text>
</g>
<g fill="#383838">
<text xml:space="preserve" x="668.75" y="89.10" font-size="14.56" font-family='"Liberation Sans", sans-serif' textLength="8.91" lengthAdjust="spacingAndGlyphs">1</text>
</g>
<g transform="rotate(-90 630.3 214.7)" fill="#383838">
<text xml:space="preserve" x="575.72" y="214.70" font-size="19.03" font-family='"Liberation Serif", serif' font-style="italic" textLength="11.83" lengthAdjust="spacingAndGlyphs">&#955;</text>
<text xml:space="preserve" x="587.55" y="222.70" font-size="14.56" font-family='"Liberation Sans", sans-serif' textLength="9.06" lengthAdjust="spacingAndGlyphs">b</text>
<text x="602.55" y="214.70" font-size="19.03" font-family='"Liberation Sans", sans-serif' textLength="7.28" lengthAdjust="spacingAndGlyphs">[</text>
<text x="609.83" y="214.70" font-size="19.03" font-family='"Liberation Sans", sans-serif' textLength="11.88" lengthAdjust="spacingAndGlyphs">1</text>
<text x="621.71" y="214.70" font-size="19.03" font-family='"Liberation Sans", sans-serif' textLength="11.88" lengthAdjust="spacingAndGlyphs">0</text>
<text xml:space="preserve" x="633.58" y="206.70" font-size="14.56" font-family='"Liberation Sans", sans-serif' textLength="9.09" lengthAdjust="spacingAndGlyphs">6</text>
<text x="648.60" y="214.70" font-size="19.03" font-family='"Liberation Sans", sans-serif' textLength="10.81" lengthAdjust="spacingAndGlyphs">k</text>
<text x="659.41" y="214.70" font-size="19.03" font-family='"Liberation Sans", sans-serif' textLength="18.18" lengthAdjust="spacingAndGlyphs">m</text>
<text x="677.60" y="214.70" font-size="19.03" font-family='"Liberation Sans", sans-serif' textLength="7.28" lengthAdjust="spacingAndGlyphs">]</text>
</g>
<rect x="313.20" y="484.2" width="38.30" height="362.20" fill="#BF97C7" stroke="none"/>
<line x1="313.20" y1="484.2" x2="313.20" y2="846.4" stroke="#555" stroke-width="1.0"/>
<line x1="351.50" y1="484.2" x2="351.50" y2="846.4" stroke="#555" stroke-width="1.0"/>
<line x1="493.6" y1="484.2" x2="493.6" y2="846.4" stroke="#EDB120" stroke-width="2.0" stroke-dasharray="8 3.5 2 3.5" stroke-dashoffset="3.3"/>
<g transform="rotate(-90 340.4 819.3000000000001)" fill="#7E2F8E">
<text x="340.40" y="819.30" font-size="22.22" font-family='"Liberation Sans", sans-serif' textLength="16.07" lengthAdjust="spacingAndGlyphs">H</text>
<text x="356.47" y="819.30" font-size="22.22" font-family='"Liberation Sans", sans-serif' textLength="13.05" lengthAdjust="spacingAndGlyphs">T</text>
<text x="369.52" y="819.30" font-size="22.22" font-family='"Liberation Sans", sans-serif' textLength="13.56" lengthAdjust="spacingAndGlyphs">S</text>
<text x="389.88" y="819.30" font-size="22.22" font-family='"Liberation Sans", sans-serif' textLength="13.10" lengthAdjust="spacingAndGlyphs">a</text>
<text x="402.98" y="819.30" font-size="22.22" font-family='"Liberation Sans", sans-serif' textLength="5.94" lengthAdjust="spacingAndGlyphs">l</text>
<text x="408.91" y="819.30" font-size="22.22" font-family='"Liberation Sans", sans-serif' textLength="13.07" lengthAdjust="spacingAndGlyphs">o</text>
<text x="421.99" y="819.30" font-size="22.22" font-family='"Liberation Sans", sans-serif' textLength="13.54" lengthAdjust="spacingAndGlyphs">n</text>
<text x="435.53" y="819.30" font-size="22.22" font-family='"Liberation Sans", sans-serif' textLength="13.56" lengthAdjust="spacingAndGlyphs">g</text>
<text x="455.89" y="819.30" font-size="22.22" font-family='"Liberation Sans", sans-serif' textLength="8.38" lengthAdjust="spacingAndGlyphs">t</text>
<text x="464.27" y="819.30" font-size="22.22" font-family='"Liberation Sans", sans-serif' textLength="13.54" lengthAdjust="spacingAndGlyphs">h</text>
<text x="477.81" y="819.30" font-size="22.22" font-family='"Liberation Sans", sans-serif' textLength="13.15" lengthAdjust="spacingAndGlyphs">e</text>
<text x="497.75" y="819.30" font-size="22.22" font-family='"Liberation Sans", sans-serif' textLength="15.99" lengthAdjust="spacingAndGlyphs">N</text>
<text x="513.74" y="819.30" font-size="22.22" font-family='"Liberation Sans", sans-serif' textLength="16.07" lengthAdjust="spacingAndGlyphs">H</text>
<text x="536.60" y="819.30" font-size="22.22" font-family='"Liberation Sans", sans-serif' textLength="13.56" lengthAdjust="spacingAndGlyphs">d</text>
<text x="550.17" y="819.30" font-size="22.22" font-family='"Liberation Sans", sans-serif' textLength="5.94" lengthAdjust="spacingAndGlyphs">i</text>
<text x="556.10" y="819.30" font-size="22.22" font-family='"Liberation Sans", sans-serif' textLength="8.79" lengthAdjust="spacingAndGlyphs">r</text>
<text x="564.89" y="819.30" font-size="22.22" font-family='"Liberation Sans", sans-serif' textLength="12.68" lengthAdjust="spacingAndGlyphs">e</text>
<text x="577.57" y="819.30" font-size="22.22" font-family='"Liberation Sans", sans-serif' textLength="11.75" lengthAdjust="spacingAndGlyphs">c</text>
<text x="589.32" y="819.30" font-size="22.22" font-family='"Liberation Sans", sans-serif' textLength="8.38" lengthAdjust="spacingAndGlyphs">t</text>
<text x="597.70" y="819.30" font-size="22.22" font-family='"Liberation Sans", sans-serif' textLength="5.94" lengthAdjust="spacingAndGlyphs">i</text>
<text x="603.63" y="819.30" font-size="22.22" font-family='"Liberation Sans", sans-serif' textLength="13.07" lengthAdjust="spacingAndGlyphs">o</text>
<text x="616.71" y="819.30" font-size="22.22" font-family='"Liberation Sans", sans-serif' textLength="13.54" lengthAdjust="spacingAndGlyphs">n</text>
</g>
<g transform="rotate(-90 519.6 819.3000000000001)" fill="#EDB120">
<text x="519.60" y="819.30" font-size="22.22" font-family='"Liberation Sans", sans-serif' textLength="16.07" lengthAdjust="spacingAndGlyphs">H</text>
<text x="535.67" y="819.30" font-size="22.22" font-family='"Liberation Sans", sans-serif' textLength="13.05" lengthAdjust="spacingAndGlyphs">T</text>
<text x="548.72" y="819.30" font-size="22.22" font-family='"Liberation Sans", sans-serif' textLength="13.56" lengthAdjust="spacingAndGlyphs">S</text>
<text x="569.08" y="819.30" font-size="22.22" font-family='"Liberation Sans", sans-serif' textLength="13.10" lengthAdjust="spacingAndGlyphs">a</text>
<text x="582.18" y="819.30" font-size="22.22" font-family='"Liberation Sans", sans-serif' textLength="5.94" lengthAdjust="spacingAndGlyphs">l</text>
<text x="588.11" y="819.30" font-size="22.22" font-family='"Liberation Sans", sans-serif' textLength="13.07" lengthAdjust="spacingAndGlyphs">o</text>
<text x="601.19" y="819.30" font-size="22.22" font-family='"Liberation Sans", sans-serif' textLength="13.54" lengthAdjust="spacingAndGlyphs">n</text>
<text x="614.73" y="819.30" font-size="22.22" font-family='"Liberation Sans", sans-serif' textLength="13.56" lengthAdjust="spacingAndGlyphs">g</text>
<text x="635.09" y="819.30" font-size="22.22" font-family='"Liberation Sans", sans-serif' textLength="8.38" lengthAdjust="spacingAndGlyphs">t</text>
<text x="643.47" y="819.30" font-size="22.22" font-family='"Liberation Sans", sans-serif' textLength="13.54" lengthAdjust="spacingAndGlyphs">h</text>
<text x="657.01" y="819.30" font-size="22.22" font-family='"Liberation Sans", sans-serif' textLength="13.15" lengthAdjust="spacingAndGlyphs">e</text>
<text x="676.95" y="819.30" font-size="22.22" font-family='"Liberation Sans", sans-serif' textLength="12.89" lengthAdjust="spacingAndGlyphs">P</text>
<text x="689.84" y="819.30" font-size="22.22" font-family='"Liberation Sans", sans-serif' textLength="13.60" lengthAdjust="spacingAndGlyphs">1</text>
<text x="703.44" y="819.30" font-size="22.22" font-family='"Liberation Sans", sans-serif' textLength="13.60" lengthAdjust="spacingAndGlyphs">0</text>
<text x="723.83" y="819.30" font-size="22.22" font-family='"Liberation Sans", sans-serif' textLength="13.56" lengthAdjust="spacingAndGlyphs">d</text>
<text x="737.39" y="819.30" font-size="22.22" font-family='"Liberation Sans", sans-serif' textLength="5.94" lengthAdjust="spacingAndGlyphs">i</text>
<text x="743.33" y="819.30" font-size="22.22" font-family='"Liberation Sans", sans-serif' textLength="8.79" lengthAdjust="spacingAndGlyphs">r</text>
<text x="752.11" y="819.30" font-size="22.22" font-family='"Liberation Sans", sans-serif' textLength="12.68" lengthAdjust="spacingAndGlyphs">e</text>
<text x="764.79" y="819.30" font-size="22.22" font-family='"Liberation Sans", sans-serif' textLength="11.75" lengthAdjust="spacingAndGlyphs">c</text>
<text x="776.54" y="819.30" font-size="22.22" font-family='"Liberation Sans", sans-serif' textLength="8.38" lengthAdjust="spacingAndGlyphs">t</text>
<text x="784.92" y="819.30" font-size="22.22" font-family='"Liberation Sans", sans-serif' textLength="5.94" lengthAdjust="spacingAndGlyphs">i</text>
<text x="790.86" y="819.30" font-size="22.22" font-family='"Liberation Sans", sans-serif' textLength="13.07" lengthAdjust="spacingAndGlyphs">o</text>
<text x="803.93" y="819.30" font-size="22.22" font-family='"Liberation Sans", sans-serif' textLength="13.54" lengthAdjust="spacingAndGlyphs">n</text>
</g>
<line x1="92.7" y1="560" x2="92.7" y2="653.3" stroke="#EDB120" stroke-width="1.3"/>
<line x1="108.4" y1="580.7" x2="108.4" y2="685.7" stroke="#EDB120" stroke-width="1.3"/>
<line x1="124.3" y1="599" x2="124.3" y2="654.5" stroke="#EDB120" stroke-width="1.3"/>
<line x1="132" y1="588" x2="132" y2="669.8" stroke="#EDB120" stroke-width="1.3"/>
<line x1="139.3" y1="603" x2="139.3" y2="680" stroke="#EDB120" stroke-width="1.3"/>
<line x1="147.7" y1="603" x2="147.7" y2="770" stroke="#EDB120" stroke-width="1.3" stroke-opacity="0.5"/>
<line x1="162.7" y1="602.4" x2="162.7" y2="655" stroke="#EDB120" stroke-width="1.3"/>
<line x1="169.3" y1="600" x2="169.3" y2="650.7" stroke="#EDB120" stroke-width="1.3"/>
<line x1="193.6" y1="593.3" x2="193.6" y2="641" stroke="#EDB120" stroke-width="1.3"/>
<line x1="201" y1="597" x2="201" y2="628.7" stroke="#EDB120" stroke-width="1.3"/>
<line x1="208.7" y1="605.3" x2="208.7" y2="708" stroke="#EDB120" stroke-width="1.3"/>
<line x1="217" y1="657.7" x2="217" y2="788" stroke="#EDB120" stroke-width="1.3"/>
<circle cx="81.50" cy="626.00" r="1.5" fill="#62A9B8"/>
<circle cx="83.30" cy="624.00" r="1.5" fill="#62A9B8"/>
<circle cx="85.65" cy="622.35" r="1.5" fill="#62A9B8"/>
<circle cx="88.00" cy="620.70" r="1.5" fill="#62A9B8"/>
<circle cx="90.35" cy="619.00" r="1.5" fill="#62A9B8"/>
<circle cx="92.70" cy="617.30" r="1.5" fill="#62A9B8"/>
<circle cx="92.35" cy="614.00" r="1.5" fill="#62A9B8"/>
<circle cx="92.00" cy="610.70" r="1.5" fill="#62A9B8"/>
<circle cx="93.57" cy="608.47" r="1.5" fill="#62A9B8"/>
<circle cx="95.13" cy="606.23" r="1.5" fill="#62A9B8"/>
<circle cx="96.70" cy="604.00" r="1.5" fill="#62A9B8"/>
<circle cx="97.70" cy="601.67" r="1.5" fill="#62A9B8"/>
<circle cx="98.70" cy="599.35" r="1.5" fill="#62A9B8"/>
<circle cx="99.70" cy="597.03" r="1.5" fill="#62A9B8"/>
<circle cx="100.70" cy="594.70" r="1.5" fill="#62A9B8"/>
<circle cx="102.35" cy="596.70" r="1.5" fill="#62A9B8"/>
<circle cx="104.00" cy="598.70" r="1.5" fill="#62A9B8"/>
<circle cx="105.65" cy="601.35" r="1.5" fill="#62A9B8"/>
<circle cx="107.30" cy="604.00" r="1.5" fill="#62A9B8"/>
<circle cx="107.47" cy="607.00" r="1.5" fill="#62A9B8"/>
<circle cx="107.65" cy="610.00" r="1.5" fill="#62A9B8"/>
<circle cx="107.83" cy="613.00" r="1.5" fill="#62A9B8"/>
<circle cx="108.00" cy="616.00" r="1.5" fill="#62A9B8"/>
<circle cx="108.90" cy="619.10" r="1.5" fill="#62A9B8"/>
<circle cx="109.80" cy="622.20" r="1.5" fill="#62A9B8"/>
<circle cx="110.70" cy="625.30" r="1.5" fill="#62A9B8"/>
<circle cx="111.80" cy="628.43" r="1.5" fill="#62A9B8"/>
<circle cx="112.90" cy="631.57" r="1.5" fill="#62A9B8"/>
<circle cx="114.00" cy="634.70" r="1.5" fill="#62A9B8"/>
<circle cx="114.00" cy="654.00" r="1.5" fill="#62A9B8"/>
<circle cx="114.67" cy="657.10" r="1.5" fill="#62A9B8"/>
<circle cx="115.33" cy="660.20" r="1.5" fill="#62A9B8"/>
<circle cx="116.00" cy="663.30" r="1.5" fill="#62A9B8"/>
<circle cx="117.30" cy="678.00" r="1.5" fill="#62A9B8"/>
<circle cx="118.65" cy="680.65" r="1.5" fill="#62A9B8"/>
<circle cx="120.00" cy="683.30" r="1.5" fill="#62A9B8"/>
<circle cx="121.33" cy="685.97" r="1.5" fill="#62A9B8"/>
<circle cx="122.67" cy="688.63" r="1.5" fill="#62A9B8"/>
<circle cx="124.00" cy="691.30" r="1.5" fill="#62A9B8"/>
<circle cx="125.00" cy="694.65" r="1.5" fill="#62A9B8"/>
<circle cx="126.00" cy="698.00" r="1.5" fill="#62A9B8"/>
<circle cx="126.43" cy="700.67" r="1.5" fill="#62A9B8"/>
<circle cx="126.87" cy="703.33" r="1.5" fill="#62A9B8"/>
<circle cx="127.30" cy="706.00" r="1.5" fill="#62A9B8"/>
<circle cx="130.00" cy="733.30" r="1.5" fill="#62A9B8"/>
<circle cx="130.00" cy="728.70" r="1.5" fill="#62A9B8"/>
<circle cx="130.65" cy="725.35" r="1.5" fill="#62A9B8"/>
<circle cx="131.30" cy="722.00" r="1.5" fill="#62A9B8"/>
<circle cx="132.20" cy="719.57" r="1.5" fill="#62A9B8"/>
<circle cx="133.10" cy="717.13" r="1.5" fill="#62A9B8"/>
<circle cx="134.00" cy="714.70" r="1.5" fill="#62A9B8"/>
<circle cx="137.30" cy="712.70" r="1.5" fill="#62A9B8"/>
<circle cx="139.30" cy="708.70" r="1.5" fill="#62A9B8"/>
<circle cx="140.30" cy="705.70" r="1.5" fill="#62A9B8"/>
<circle cx="141.30" cy="702.70" r="1.5" fill="#62A9B8"/>
<circle cx="144.00" cy="682.00" r="1.5" fill="#62A9B8"/>
<circle cx="144.65" cy="679.35" r="1.5" fill="#62A9B8"/>
<circle cx="145.30" cy="676.70" r="1.5" fill="#62A9B8"/>
<circle cx="146.00" cy="673.35" r="1.5" fill="#62A9B8"/>
<circle cx="146.70" cy="670.00" r="1.5" fill="#62A9B8"/>
<circle cx="146.85" cy="667.33" r="1.5" fill="#62A9B8"/>
<circle cx="147.00" cy="664.65" r="1.5" fill="#62A9B8"/>
<circle cx="147.15" cy="661.97" r="1.5" fill="#62A9B8"/>
<circle cx="147.30" cy="659.30" r="1.5" fill="#62A9B8"/>
<circle cx="147.77" cy="656.43" r="1.5" fill="#62A9B8"/>
<circle cx="148.23" cy="653.57" r="1.5" fill="#62A9B8"/>
<circle cx="148.70" cy="650.70" r="1.5" fill="#62A9B8"/>
<circle cx="150.00" cy="630.00" r="1.5" fill="#62A9B8"/>
<circle cx="151.00" cy="627.00" r="1.5" fill="#62A9B8"/>
<circle cx="152.00" cy="624.00" r="1.5" fill="#62A9B8"/>
<circle cx="154.00" cy="621.35" r="1.5" fill="#62A9B8"/>
<circle cx="156.00" cy="618.70" r="1.5" fill="#62A9B8"/>
<circle cx="157.77" cy="616.90" r="1.5" fill="#62A9B8"/>
<circle cx="159.53" cy="615.10" r="1.5" fill="#62A9B8"/>
<circle cx="161.30" cy="613.30" r="1.5" fill="#62A9B8"/>
<circle cx="165.30" cy="616.00" r="1.5" fill="#62A9B8"/>
<circle cx="166.43" cy="618.67" r="1.5" fill="#62A9B8"/>
<circle cx="167.57" cy="621.33" r="1.5" fill="#62A9B8"/>
<circle cx="168.70" cy="624.00" r="1.5" fill="#62A9B8"/>
<circle cx="169.30" cy="640.00" r="1.5" fill="#62A9B8"/>
<circle cx="169.65" cy="643.35" r="1.5" fill="#62A9B8"/>
<circle cx="170.00" cy="646.70" r="1.5" fill="#62A9B8"/>
<circle cx="173.30" cy="626.70" r="1.5" fill="#62A9B8"/>
<circle cx="176.00" cy="626.70" r="1.5" fill="#62A9B8"/>
<circle cx="178.70" cy="626.70" r="1.5" fill="#62A9B8"/>
<circle cx="182.00" cy="628.00" r="1.5" fill="#62A9B8"/>
<circle cx="185.30" cy="629.30" r="1.5" fill="#62A9B8"/>
<circle cx="186.70" cy="665.30" r="1.5" fill="#62A9B8"/>
<circle cx="188.03" cy="663.10" r="1.5" fill="#62A9B8"/>
<circle cx="189.37" cy="660.90" r="1.5" fill="#62A9B8"/>
<circle cx="190.70" cy="658.70" r="1.5" fill="#62A9B8"/>
<circle cx="192.70" cy="656.00" r="1.5" fill="#62A9B8"/>
<circle cx="194.70" cy="653.30" r="1.5" fill="#62A9B8"/>
<circle cx="198.70" cy="650.70" r="1.5" fill="#62A9B8"/>
<circle cx="199.37" cy="647.57" r="1.5" fill="#62A9B8"/>
<circle cx="200.03" cy="644.43" r="1.5" fill="#62A9B8"/>
<circle cx="200.70" cy="641.30" r="1.5" fill="#62A9B8"/>
<circle cx="201.37" cy="638.63" r="1.5" fill="#62A9B8"/>
<circle cx="202.03" cy="635.97" r="1.5" fill="#62A9B8"/>
<circle cx="202.70" cy="633.30" r="1.5" fill="#62A9B8"/>
<circle cx="205.30" cy="630.70" r="1.5" fill="#62A9B8"/>
<circle cx="209.30" cy="632.00" r="1.5" fill="#62A9B8"/>
<circle cx="210.00" cy="629.35" r="1.5" fill="#62A9B8"/>
<circle cx="210.70" cy="626.70" r="1.5" fill="#62A9B8"/>
<circle cx="213.00" cy="624.00" r="1.5" fill="#62A9B8"/>
<circle cx="215.30" cy="621.30" r="1.5" fill="#62A9B8"/>
<circle cx="217.65" cy="623.00" r="1.5" fill="#62A9B8"/>
<circle cx="220.00" cy="624.70" r="1.5" fill="#62A9B8"/>
<circle cx="223.00" cy="624.70" r="1.5" fill="#62A9B8"/>
<circle cx="226.00" cy="624.70" r="1.5" fill="#62A9B8"/>
<circle cx="228.00" cy="616.00" r="1.5" fill="#62A9B8"/>
<circle cx="230.65" cy="617.35" r="1.5" fill="#62A9B8"/>
<circle cx="233.30" cy="618.70" r="1.5" fill="#62A9B8"/>
<circle cx="234.00" cy="622.00" r="1.5" fill="#62A9B8"/>
<circle cx="236.00" cy="608.00" r="1.5" fill="#62A9B8"/>
<circle cx="240.00" cy="610.00" r="1.5" fill="#62A9B8"/>
<circle cx="243.30" cy="613.30" r="1.5" fill="#62A9B8"/>
<circle cx="243.97" cy="616.43" r="1.5" fill="#62A9B8"/>
<circle cx="244.63" cy="619.57" r="1.5" fill="#62A9B8"/>
<circle cx="245.30" cy="622.70" r="1.5" fill="#62A9B8"/>
<circle cx="250.70" cy="616.00" r="1.5" fill="#62A9B8"/>
<circle cx="252.35" cy="618.65" r="1.5" fill="#62A9B8"/>
<circle cx="254.00" cy="621.30" r="1.5" fill="#62A9B8"/>
<circle cx="253.65" cy="624.00" r="1.5" fill="#62A9B8"/>
<circle cx="253.30" cy="626.70" r="1.5" fill="#62A9B8"/>
<circle cx="255.30" cy="594.70" r="1.5" fill="#62A9B8"/>
<circle cx="257.30" cy="584.70" r="1.5" fill="#62A9B8"/>
<circle cx="259.30" cy="582.70" r="1.5" fill="#62A9B8"/>
<circle cx="261.30" cy="580.70" r="1.5" fill="#62A9B8"/>
<circle cx="264.00" cy="581.00" r="1.5" fill="#62A9B8"/>
<circle cx="266.70" cy="581.30" r="1.5" fill="#62A9B8"/>
<circle cx="268.00" cy="583.65" r="1.5" fill="#62A9B8"/>
<circle cx="269.30" cy="586.00" r="1.5" fill="#62A9B8"/>
<circle cx="270.43" cy="588.23" r="1.5" fill="#62A9B8"/>
<circle cx="271.57" cy="590.47" r="1.5" fill="#62A9B8"/>
<circle cx="272.70" cy="592.70" r="1.5" fill="#62A9B8"/>
<circle cx="274.00" cy="616.00" r="1.5" fill="#62A9B8"/>
<circle cx="274.70" cy="634.00" r="1.5" fill="#62A9B8"/>
<circle cx="275.35" cy="636.83" r="1.5" fill="#62A9B8"/>
<circle cx="276.00" cy="639.65" r="1.5" fill="#62A9B8"/>
<circle cx="276.65" cy="642.47" r="1.5" fill="#62A9B8"/>
<circle cx="277.30" cy="645.30" r="1.5" fill="#62A9B8"/>
<circle cx="280.00" cy="637.30" r="1.5" fill="#62A9B8"/>
<circle cx="281.77" cy="635.10" r="1.5" fill="#62A9B8"/>
<circle cx="283.53" cy="632.90" r="1.5" fill="#62A9B8"/>
<circle cx="285.30" cy="630.70" r="1.5" fill="#62A9B8"/>
<circle cx="287.00" cy="628.00" r="1.5" fill="#62A9B8"/>
<circle cx="288.70" cy="625.30" r="1.5" fill="#62A9B8"/>
<circle cx="292.00" cy="622.00" r="1.5" fill="#62A9B8"/>
<circle cx="294.70" cy="612.70" r="1.5" fill="#62A9B8"/>
<circle cx="297.35" cy="614.35" r="1.5" fill="#62A9B8"/>
<circle cx="300.00" cy="616.00" r="1.5" fill="#62A9B8"/>
<circle cx="302.65" cy="616.00" r="1.5" fill="#62A9B8"/>
<circle cx="305.30" cy="616.00" r="1.5" fill="#62A9B8"/>
<circle cx="308.00" cy="617.35" r="1.5" fill="#62A9B8"/>
<circle cx="310.70" cy="618.70" r="1.5" fill="#62A9B8"/>
<circle cx="312.70" cy="628.00" r="1.5" fill="#62A9B8"/>
<circle cx="315.00" cy="630.65" r="1.5" fill="#62A9B8"/>
<circle cx="317.30" cy="633.30" r="1.5" fill="#62A9B8"/>
<circle cx="318.30" cy="635.65" r="1.5" fill="#62A9B8"/>
<circle cx="319.30" cy="638.00" r="1.5" fill="#62A9B8"/>
<circle cx="320.30" cy="640.35" r="1.5" fill="#62A9B8"/>
<circle cx="321.30" cy="642.70" r="1.5" fill="#62A9B8"/>
<path d="M84.00,626.63 L85.00,629.09 L86.00,632.45 L87.00,636.41 L88.00,640.67 L89.00,644.93 L90.00,648.90 L91.00,652.36 L92.00,655.43 L93.00,658.35 L94.00,661.31 L95.00,664.34 L96.00,667.34 L97.00,670.23 L98.00,672.94 L99.00,675.44 L100.00,677.76 L101.00,679.93 L102.00,681.97 L103.00,683.90 L104.00,685.73 L105.00,687.48 L106.00,689.14 L107.00,690.72 L108.00,692.21 L109.00,693.62 L110.00,694.95 L111.00,696.20 L112.00,697.38 L113.00,698.49 L114.00,699.52 L115.00,700.49 L116.00,701.38 L117.00,702.22 L118.00,702.98 L119.00,703.69 L120.00,704.33 L121.00,704.92 L122.00,705.45 L123.00,705.93 L124.00,706.35 L125.00,706.72 L126.00,707.05 L127.00,707.33 L128.00,707.56 L129.00,707.75 L130.00,707.90 L131.00,708.01 L132.00,708.09 L133.00,708.13 L134.00,708.13 L135.00,708.11 L136.00,708.06 L137.00,707.97 L138.00,707.87 L139.00,707.74 L140.00,707.58 L141.00,707.41 L142.00,707.22 L143.00,707.02 L144.00,706.80 L145.00,706.57 L146.00,706.33 L147.00,706.08 L148.00,705.82 L149.00,705.56 L150.00,705.30 L151.00,705.03 L152.00,704.76 L153.00,704.48 L154.00,704.20 L155.00,703.92 L156.00,703.63 L157.00,703.34 L158.00,703.05 L159.00,702.75 L160.00,702.45 L161.00,702.15 L162.00,701.85 L163.00,701.54 L164.00,701.23 L165.00,700.91 L166.00,700.60 L167.00,700.28 L168.00,699.96 L169.00,699.64 L170.00,699.31 L171.00,698.99 L172.00,698.66 L173.00,698.33 L174.00,698.00 L175.00,697.66 L176.00,697.33 L177.00,696.99 L178.00,696.66 L179.00,696.32 L180.00,695.98 L181.00,695.64 L182.00,695.30 L183.00,694.96 L184.00,694.62 L185.00,694.28 L186.00,693.94 L187.00,693.60 L188.00,693.26 L189.00,692.91 L190.00,692.57 L191.00,692.23 L192.00,691.89 L193.00,691.55 L194.00,691.21 L195.00,690.87 L196.00,690.53 L197.00,690.20 L198.00,689.86 L199.00,689.53 L200.00,689.19 L201.00,688.86 L202.00,688.53 L203.00,688.20 L204.00,687.87 L205.00,687.55 L206.00,687.22 L207.00,686.90 L208.00,686.58 L209.00,686.27 L210.00,685.95 L211.00,685.64 L212.00,685.33 L213.00,685.02 L214.00,684.72 L215.00,684.42 L216.00,684.12 L217.00,683.82 L218.00,683.53 L219.00,683.24 L220.00,682.95 L221.00,682.66 L222.00,682.38 L223.00,682.10 L224.00,681.82 L225.00,681.54 L226.00,681.26 L227.00,680.99 L228.00,680.72 L229.00,680.45 L230.00,680.19 L231.00,679.92 L232.00,679.66 L233.00,679.40 L234.00,679.14 L235.00,678.88 L236.00,678.62 L237.00,678.37 L238.00,678.11 L239.00,677.86 L240.00,677.61 L241.00,677.36 L242.00,677.11 L243.00,676.87 L244.00,676.62 L245.00,676.38 L246.00,676.13 L247.00,675.89 L248.00,675.65 L249.00,675.41 L250.00,675.17 L251.00,674.93 L252.00,674.69 L253.00,674.45 L254.00,674.21 L255.00,673.98 L256.00,673.74 L257.00,673.50 L258.00,673.27 L259.00,673.03 L260.00,672.80 L261.00,672.56 L262.00,672.33 L263.00,672.09 L264.00,671.86 L265.00,671.62 L266.00,671.39 L267.00,671.15 L268.00,670.92 L269.00,670.68 L270.00,670.44 L271.00,670.21 L272.00,669.97 L273.00,669.73 L274.00,669.49 L275.00,669.26 L276.00,669.02 L277.00,668.78 L278.00,668.54 L279.00,668.29 L280.00,668.05 L281.00,667.81 L282.00,667.56 L283.00,667.32 L284.00,667.07 L285.00,666.82 L286.00,666.57 L287.00,666.32 L288.00,666.07 L289.00,665.82 L290.00,665.56 L291.00,665.30 L292.00,665.05 L293.00,664.79 L294.00,664.53 L295.00,664.26 L296.00,664.00 L297.00,663.73 L298.00,663.46 L299.00,663.19 L300.00,662.92 L301.00,662.64 L302.00,662.37 L303.00,662.09 L304.00,661.80 L304.70,661.61" fill="none" stroke="#7E2F8E" stroke-width="2.3" stroke-linejoin="round" stroke-linecap="round"/>
<path d="M84.70,587.94 L85.70,591.30 L86.70,594.64 L87.70,597.94 L88.70,601.19 L89.70,604.39 L90.70,607.53 L91.70,610.59 L92.70,613.56 L93.70,616.45 L94.70,619.23 L95.70,621.92 L96.70,624.51 L97.70,627.00 L98.70,629.40 L99.70,631.71 L100.70,633.93 L101.70,636.05 L102.70,638.10 L103.70,640.06 L104.70,641.94 L105.70,643.75 L106.70,645.49 L107.70,647.16 L108.70,648.76 L109.70,650.31 L110.70,651.80 L111.70,653.23 L112.70,654.62 L113.70,655.96 L114.70,657.25 L115.70,658.51 L116.70,659.73 L117.70,660.92 L118.70,662.08 L119.70,663.22 L120.70,664.34 L121.70,665.43 L122.70,666.50 L123.70,667.56 L124.70,668.59 L125.70,669.61 L126.70,670.61 L127.70,671.59 L128.70,672.54 L129.70,673.49 L130.70,674.41 L131.70,675.31 L132.70,676.20 L133.70,677.07 L134.70,677.93 L135.70,678.76 L136.70,679.58 L137.70,680.39 L138.70,681.18 L139.70,681.95 L140.70,682.70 L141.70,683.45 L142.70,684.17 L143.70,684.88 L144.70,685.58 L145.70,686.26 L146.70,686.93 L147.70,687.59 L148.70,688.23 L149.70,688.85 L150.70,689.47 L151.70,690.07 L152.70,690.66 L153.70,691.24 L154.70,691.80 L155.70,692.35 L156.70,692.89 L157.70,693.42 L158.70,693.94 L159.70,694.45 L160.70,694.95 L161.70,695.43 L162.70,695.91 L163.70,696.38 L164.70,696.84 L165.70,697.28 L166.70,697.72 L167.70,698.15 L168.70,698.57 L169.70,698.99 L170.70,699.39 L171.70,699.79 L172.70,700.18 L173.70,700.56 L174.70,700.93 L175.70,701.30 L176.70,701.66 L177.70,702.02 L178.70,702.36 L179.70,702.71 L180.70,703.04 L181.70,703.37 L182.70,703.70 L183.70,704.02 L184.70,704.34 L185.70,704.65 L186.70,704.96 L187.70,705.26 L188.70,705.56 L189.70,705.86 L190.70,706.15 L191.70,706.44 L192.70,706.72 L193.70,707.00 L194.70,707.28 L195.70,707.55 L196.70,707.82 L197.70,708.09 L198.70,708.35 L199.70,708.61 L200.70,708.86 L201.70,709.12 L202.70,709.36 L203.70,709.61 L204.70,709.85 L205.70,710.09 L206.70,710.32 L207.70,710.55 L208.70,710.78 L209.70,711.01 L210.70,711.23 L211.70,711.45 L212.70,711.66 L213.70,711.87 L214.70,712.08 L215.70,712.29 L216.70,712.49 L217.70,712.69 L218.70,712.89 L219.70,713.08 L220.70,713.27 L221.70,713.46 L222.70,713.64 L223.70,713.82 L224.70,714.00 L225.70,714.18 L226.70,714.35 L227.70,714.52 L228.70,714.69 L229.70,714.86 L230.70,715.02 L231.70,715.18 L232.70,715.34 L233.70,715.49 L234.70,715.64 L235.70,715.79 L236.70,715.94 L237.70,716.09 L238.70,716.23 L239.70,716.37 L240.70,716.51 L241.70,716.64 L242.70,716.78 L243.70,716.91 L244.70,717.04 L245.70,717.16 L246.70,717.29 L247.70,717.41 L248.70,717.53 L249.70,717.65 L250.70,717.77 L251.70,717.88 L252.70,717.99 L253.70,718.10 L254.70,718.21 L255.70,718.32 L256.70,718.42 L257.70,718.53 L258.70,718.63 L259.70,718.73 L260.70,718.83 L261.70,718.92 L262.70,719.02 L263.70,719.11 L264.70,719.20 L265.70,719.29 L266.70,719.38 L267.70,719.46 L268.70,719.55 L269.70,719.63 L270.70,719.71 L271.70,719.79 L272.70,719.87 L273.70,719.95 L274.70,720.03 L275.70,720.10 L276.70,720.18 L277.70,720.25 L278.70,720.32 L279.70,720.39 L280.70,720.46 L281.70,720.53 L282.70,720.59 L283.70,720.66 L284.70,720.72 L285.70,720.78 L286.70,720.84 L287.70,720.90 L288.70,720.96 L289.70,721.02 L290.70,721.07 L291.70,721.13 L292.70,721.18 L293.70,721.23 L294.70,721.28 L295.70,721.33 L296.70,721.38 L297.70,721.43 L298.70,721.47 L299.70,721.52 L300.70,721.56 L301.70,721.60 L302.70,721.64 L303.70,721.68 L304.70,721.72 L305.70,721.76 L306.70,721.80 L307.70,721.83 L308.70,721.87 L309.70,721.90 L310.70,721.93 L311.70,721.96 L312.70,721.99 L313.70,722.02 L314.70,722.05 L315.70,722.08 L316.70,722.10 L317.70,722.13 L318.70,722.15 L319.70,722.18 L320.70,722.20 L321.70,722.22 L322.70,722.24 L323.70,722.26 L324.70,722.27 L325.70,722.29 L326.70,722.31 L327.70,722.32 L328.70,722.34 L329.70,722.35 L330.70,722.36 L331.70,722.37 L332.70,722.38 L333.70,722.39 L334.70,722.40 L335.70,722.41 L336.70,722.42 L337.70,722.42 L338.70,722.43 L339.70,722.43 L340.70,722.44 L341.70,722.44 L342.70,722.44 L343.70,722.44 L344.70,722.44 L345.70,722.44 L346.70,722.44 L347.70,722.44 L348.70,722.43 L349.70,722.43 L350.70,722.43 L351.70,722.42 L352.70,722.41 L353.70,722.41 L354.70,722.40 L355.70,722.39 L356.70,722.38 L357.70,722.37 L358.70,722.36 L359.70,722.35 L360.70,722.34 L361.70,722.33 L362.70,722.32 L363.70,722.30 L364.70,722.29 L365.70,722.27 L366.70,722.26 L367.70,722.24 L368.70,722.23 L369.70,722.21 L370.70,722.19 L371.70,722.17 L372.70,722.15 L373.70,722.13 L374.70,722.11 L375.70,722.09 L376.70,722.07 L377.70,722.05 L378.70,722.03 L379.70,722.00 L380.70,721.98 L381.70,721.96 L382.70,721.93 L383.70,721.91 L384.70,721.88 L385.70,721.86 L386.70,721.83 L387.70,721.80 L388.70,721.77 L389.70,721.75 L390.70,721.72 L391.70,721.69 L392.70,721.66 L393.70,721.63 L394.70,721.60 L395.70,721.57 L396.70,721.54 L397.70,721.51 L398.70,721.48 L399.70,721.45 L400.70,721.42 L401.70,721.38 L402.70,721.35 L403.70,721.32 L404.70,721.29 L405.70,721.25 L406.70,721.22 L407.70,721.18 L408.70,721.15 L409.70,721.11 L410.70,721.08 L411.70,721.04 L412.70,721.01 L413.70,720.97 L414.70,720.94 L415.70,720.90 L416.70,720.86 L417.70,720.83 L418.70,720.79 L419.70,720.75 L420.70,720.72 L421.70,720.68 L422.70,720.64 L423.70,720.60 L424.70,720.57 L425.70,720.53 L426.70,720.49 L427.70,720.45 L428.70,720.41 L429.70,720.38 L430.70,720.34 L431.70,720.30 L432.70,720.26 L433.70,720.22 L434.70,720.18 L435.70,720.14 L436.70,720.10 L437.70,720.06 L438.70,720.03 L439.70,719.99 L440.70,719.95 L441.70,719.91 L442.70,719.87 L443.70,719.83 L444.70,719.79 L445.70,719.75 L446.70,719.71 L447.70,719.67 L448.70,719.63 L449.70,719.60 L450.70,719.56 L451.70,719.52 L452.70,719.48 L453.70,719.44 L454.70,719.40 L455.70,719.36 L456.70,719.32 L457.70,719.29 L458.70,719.25 L459.70,719.21 L460.70,719.17 L461.70,719.14 L462.70,719.10 L463.70,719.06 L464.70,719.02 L465.70,718.99 L466.70,718.95 L467.70,718.91 L468.70,718.88 L469.70,718.84 L470.70,718.80 L471.70,718.77 L472.70,718.73 L473.70,718.70 L474.70,718.66 L475.70,718.63 L476.70,718.59 L477.70,718.56 L478.70,718.53 L479.70,718.49 L480.70,718.46 L481.70,718.43 L482.70,718.39 L483.70,718.36 L484.70,718.33 L485.00,718.32" fill="none" stroke="#EDB120" stroke-width="2.5" stroke-linejoin="round" stroke-linecap="round"/>
<circle cx="92.7" cy="595.7" r="3.7" fill="#EDB120"/>
<circle cx="108.4" cy="610.4" r="3.7" fill="#EDB120"/>
<circle cx="124.3" cy="619.3" r="3.7" fill="#EDB120"/>
<circle cx="132" cy="614" r="3.7" fill="#EDB120"/>
<circle cx="139.3" cy="629" r="3.7" fill="#EDB120"/>
<circle cx="147.7" cy="637.3" r="3.7" fill="#EDB120"/>
<circle cx="162.7" cy="622.4" r="3.7" fill="#EDB120"/>
<circle cx="169.3" cy="619.3" r="3.7" fill="#EDB120"/>
<circle cx="193.6" cy="611.7" r="3.7" fill="#EDB120"/>
<circle cx="201" cy="610" r="3.7" fill="#EDB120"/>
<circle cx="208.7" cy="635" r="3.7" fill="#EDB120"/>
<circle cx="217" cy="689" r="3.7" fill="#EDB120"/>
<line x1="84.13" y1="846.4" x2="84.13" y2="842.6" stroke="#262626" stroke-width="1"/>
<line x1="84.13" y1="484.2" x2="84.13" y2="488.0" stroke="#262626" stroke-width="1"/>
<line x1="122.33" y1="846.4" x2="122.33" y2="842.6" stroke="#262626" stroke-width="1"/>
<line x1="122.33" y1="484.2" x2="122.33" y2="488.0" stroke="#262626" stroke-width="1"/>
<line x1="198.72" y1="846.4" x2="198.72" y2="842.6" stroke="#262626" stroke-width="1"/>
<line x1="198.72" y1="484.2" x2="198.72" y2="488.0" stroke="#262626" stroke-width="1"/>
<line x1="275.11" y1="846.4" x2="275.11" y2="842.6" stroke="#262626" stroke-width="1"/>
<line x1="275.11" y1="484.2" x2="275.11" y2="488.0" stroke="#262626" stroke-width="1"/>
<line x1="313.31" y1="846.4" x2="313.31" y2="842.6" stroke="#262626" stroke-width="1"/>
<line x1="313.31" y1="484.2" x2="313.31" y2="488.0" stroke="#262626" stroke-width="1"/>
<line x1="351.51" y1="846.4" x2="351.51" y2="842.6" stroke="#262626" stroke-width="1"/>
<line x1="351.51" y1="484.2" x2="351.51" y2="488.0" stroke="#262626" stroke-width="1"/>
<line x1="427.90" y1="846.4" x2="427.90" y2="842.6" stroke="#262626" stroke-width="1"/>
<line x1="427.90" y1="484.2" x2="427.90" y2="488.0" stroke="#262626" stroke-width="1"/>
<line x1="504.29" y1="846.4" x2="504.29" y2="842.6" stroke="#262626" stroke-width="1"/>
<line x1="504.29" y1="484.2" x2="504.29" y2="488.0" stroke="#262626" stroke-width="1"/>
<line x1="80.6" y1="846.40" x2="84.8" y2="846.40" stroke="#262626" stroke-width="1"/>
<line x1="541.9" y1="846.40" x2="537.6999999999999" y2="846.40" stroke="#262626" stroke-width="1"/>
<line x1="80.6" y1="810.06" x2="82.3" y2="810.06" stroke="#262626" stroke-width="1"/>
<line x1="541.9" y1="810.06" x2="540.1999999999999" y2="810.06" stroke="#262626" stroke-width="1"/>
<line x1="80.6" y1="788.80" x2="82.3" y2="788.80" stroke="#262626" stroke-width="1"/>
<line x1="541.9" y1="788.80" x2="540.1999999999999" y2="788.80" stroke="#262626" stroke-width="1"/>
<line x1="80.6" y1="773.71" x2="82.3" y2="773.71" stroke="#262626" stroke-width="1"/>
<line x1="541.9" y1="773.71" x2="540.1999999999999" y2="773.71" stroke="#262626" stroke-width="1"/>
<line x1="80.6" y1="762.01" x2="82.3" y2="762.01" stroke="#262626" stroke-width="1"/>
<line x1="541.9" y1="762.01" x2="540.1999999999999" y2="762.01" stroke="#262626" stroke-width="1"/>
<line x1="80.6" y1="752.45" x2="82.3" y2="752.45" stroke="#262626" stroke-width="1"/>
<line x1="541.9" y1="752.45" x2="540.1999999999999" y2="752.45" stroke="#262626" stroke-width="1"/>
<line x1="80.6" y1="744.37" x2="82.3" y2="744.37" stroke="#262626" stroke-width="1"/>
<line x1="541.9" y1="744.37" x2="540.1999999999999" y2="744.37" stroke="#262626" stroke-width="1"/>
<line x1="80.6" y1="737.37" x2="82.3" y2="737.37" stroke="#262626" stroke-width="1"/>
<line x1="541.9" y1="737.37" x2="540.1999999999999" y2="737.37" stroke="#262626" stroke-width="1"/>
<line x1="80.6" y1="731.19" x2="82.3" y2="731.19" stroke="#262626" stroke-width="1"/>
<line x1="541.9" y1="731.19" x2="540.1999999999999" y2="731.19" stroke="#262626" stroke-width="1"/>
<line x1="80.6" y1="725.67" x2="84.8" y2="725.67" stroke="#262626" stroke-width="1"/>
<line x1="541.9" y1="725.67" x2="537.6999999999999" y2="725.67" stroke="#262626" stroke-width="1"/>
<line x1="80.6" y1="689.32" x2="82.3" y2="689.32" stroke="#262626" stroke-width="1"/>
<line x1="541.9" y1="689.32" x2="540.1999999999999" y2="689.32" stroke="#262626" stroke-width="1"/>
<line x1="80.6" y1="668.06" x2="82.3" y2="668.06" stroke="#262626" stroke-width="1"/>
<line x1="541.9" y1="668.06" x2="540.1999999999999" y2="668.06" stroke="#262626" stroke-width="1"/>
<line x1="80.6" y1="652.98" x2="82.3" y2="652.98" stroke="#262626" stroke-width="1"/>
<line x1="541.9" y1="652.98" x2="540.1999999999999" y2="652.98" stroke="#262626" stroke-width="1"/>
<line x1="80.6" y1="641.28" x2="82.3" y2="641.28" stroke="#262626" stroke-width="1"/>
<line x1="541.9" y1="641.28" x2="540.1999999999999" y2="641.28" stroke="#262626" stroke-width="1"/>
<line x1="80.6" y1="631.72" x2="82.3" y2="631.72" stroke="#262626" stroke-width="1"/>
<line x1="541.9" y1="631.72" x2="540.1999999999999" y2="631.72" stroke="#262626" stroke-width="1"/>
<line x1="80.6" y1="623.64" x2="82.3" y2="623.64" stroke="#262626" stroke-width="1"/>
<line x1="541.9" y1="623.64" x2="540.1999999999999" y2="623.64" stroke="#262626" stroke-width="1"/>
<line x1="80.6" y1="616.63" x2="82.3" y2="616.63" stroke="#262626" stroke-width="1"/>
<line x1="541.9" y1="616.63" x2="540.1999999999999" y2="616.63" stroke="#262626" stroke-width="1"/>
<line x1="80.6" y1="610.46" x2="82.3" y2="610.46" stroke="#262626" stroke-width="1"/>
<line x1="541.9" y1="610.46" x2="540.1999999999999" y2="610.46" stroke="#262626" stroke-width="1"/>
<line x1="80.6" y1="604.93" x2="84.8" y2="604.93" stroke="#262626" stroke-width="1"/>
<line x1="541.9" y1="604.93" x2="537.6999999999999" y2="604.93" stroke="#262626" stroke-width="1"/>
<line x1="80.6" y1="568.59" x2="82.3" y2="568.59" stroke="#262626" stroke-width="1"/>
<line x1="541.9" y1="568.59" x2="540.1999999999999" y2="568.59" stroke="#262626" stroke-width="1"/>
<line x1="80.6" y1="547.33" x2="82.3" y2="547.33" stroke="#262626" stroke-width="1"/>
<line x1="541.9" y1="547.33" x2="540.1999999999999" y2="547.33" stroke="#262626" stroke-width="1"/>
<line x1="80.6" y1="532.24" x2="82.3" y2="532.24" stroke="#262626" stroke-width="1"/>
<line x1="541.9" y1="532.24" x2="540.1999999999999" y2="532.24" stroke="#262626" stroke-width="1"/>
<line x1="80.6" y1="520.54" x2="82.3" y2="520.54" stroke="#262626" stroke-width="1"/>
<line x1="541.9" y1="520.54" x2="540.1999999999999" y2="520.54" stroke="#262626" stroke-width="1"/>
<line x1="80.6" y1="510.98" x2="82.3" y2="510.98" stroke="#262626" stroke-width="1"/>
<line x1="541.9" y1="510.98" x2="540.1999999999999" y2="510.98" stroke="#262626" stroke-width="1"/>
<line x1="80.6" y1="502.90" x2="82.3" y2="502.90" stroke="#262626" stroke-width="1"/>
<line x1="541.9" y1="502.90" x2="540.1999999999999" y2="502.90" stroke="#262626" stroke-width="1"/>
<line x1="80.6" y1="495.90" x2="82.3" y2="495.90" stroke="#262626" stroke-width="1"/>
<line x1="541.9" y1="495.90" x2="540.1999999999999" y2="495.90" stroke="#262626" stroke-width="1"/>
<line x1="80.6" y1="489.72" x2="82.3" y2="489.72" stroke="#262626" stroke-width="1"/>
<line x1="541.9" y1="489.72" x2="540.1999999999999" y2="489.72" stroke="#262626" stroke-width="1"/>
<line x1="80.6" y1="484.20" x2="84.8" y2="484.20" stroke="#262626" stroke-width="1"/>
<line x1="541.9" y1="484.20" x2="537.6999999999999" y2="484.20" stroke="#262626" stroke-width="1"/>
<path d="M80.6,484.2 L541.9,484.2 L541.9,846.4 L80.6,846.4" fill="none" stroke="#262626" stroke-width="1.1" stroke-linejoin="miter"/>
<line x1="80.6" y1="483.7" x2="80.6" y2="846.9" stroke="#6e6e6e" stroke-width="1.4"/>
<rect x="86.0" y="488.0" width="135.4" height="79.9" fill="#fff" stroke="#262626" stroke-width="1.1"/>
<line x1="89.5" y1="498.2" x2="132.0" y2="498.2" stroke="#7E2F8E" stroke-width="2.9"/>
<g fill="#383838">
<text x="135.80" y="503.80" font-size="15.10" font-family='"Liberation Sans", sans-serif' textLength="14.81" lengthAdjust="spacingAndGlyphs">m</text>
<text x="150.61" y="503.80" font-size="15.10" font-family='"Liberation Sans", sans-serif' textLength="9.30" lengthAdjust="spacingAndGlyphs">o</text>
<text x="159.91" y="503.80" font-size="15.10" font-family='"Liberation Sans", sans-serif' textLength="9.65" lengthAdjust="spacingAndGlyphs">d</text>
<text x="169.55" y="503.80" font-size="15.10" font-family='"Liberation Sans", sans-serif' textLength="9.35" lengthAdjust="spacingAndGlyphs">e</text>
<text x="178.91" y="503.80" font-size="15.10" font-family='"Liberation Sans", sans-serif' textLength="4.22" lengthAdjust="spacingAndGlyphs">l</text>
<text x="183.13" y="503.80" font-size="15.10" font-family='"Liberation Sans", sans-serif' textLength="5.48" lengthAdjust="spacingAndGlyphs">-</text>
<text x="188.61" y="503.80" font-size="15.10" font-family='"Liberation Sans", sans-serif' textLength="11.37" lengthAdjust="spacingAndGlyphs">N</text>
<text x="199.98" y="503.80" font-size="15.10" font-family='"Liberation Sans", sans-serif' textLength="11.43" lengthAdjust="spacingAndGlyphs">H</text>
</g>
<line x1="89.5" y1="518.5" x2="132.0" y2="518.5" stroke="#EDB120" stroke-width="2.9"/>
<g fill="#383838">
<text x="135.80" y="524.10" font-size="15.10" font-family='"Liberation Sans", sans-serif' textLength="14.81" lengthAdjust="spacingAndGlyphs">m</text>
<text x="150.61" y="524.10" font-size="15.10" font-family='"Liberation Sans", sans-serif' textLength="9.30" lengthAdjust="spacingAndGlyphs">o</text>
<text x="159.91" y="524.10" font-size="15.10" font-family='"Liberation Sans", sans-serif' textLength="9.65" lengthAdjust="spacingAndGlyphs">d</text>
<text x="169.55" y="524.10" font-size="15.10" font-family='"Liberation Sans", sans-serif' textLength="9.35" lengthAdjust="spacingAndGlyphs">e</text>
<text x="178.91" y="524.10" font-size="15.10" font-family='"Liberation Sans", sans-serif' textLength="4.22" lengthAdjust="spacingAndGlyphs">l</text>
<text x="183.13" y="524.10" font-size="15.10" font-family='"Liberation Sans", sans-serif' textLength="5.48" lengthAdjust="spacingAndGlyphs">-</text>
<text x="188.61" y="524.10" font-size="15.10" font-family='"Liberation Sans", sans-serif' textLength="9.17" lengthAdjust="spacingAndGlyphs">P</text>
<text x="197.78" y="524.10" font-size="15.10" font-family='"Liberation Sans", sans-serif' textLength="9.67" lengthAdjust="spacingAndGlyphs">1</text>
<text x="207.45" y="524.10" font-size="15.10" font-family='"Liberation Sans", sans-serif' textLength="9.67" lengthAdjust="spacingAndGlyphs">0</text>
</g>
<line x1="111.2" y1="530.8" x2="111.2" y2="544.8" stroke="#EDB120" stroke-width="1.4"/>
<circle cx="111.2" cy="537.8" r="3.8" fill="#EDB120"/>
<g fill="#383838">
<text x="135.80" y="543.40" font-size="15.10" font-family='"Liberation Sans", sans-serif' textLength="11.96" lengthAdjust="spacingAndGlyphs">O</text>
<text x="147.76" y="543.40" font-size="15.10" font-family='"Liberation Sans", sans-serif' textLength="9.65" lengthAdjust="spacingAndGlyphs">b</text>
<text x="157.41" y="543.40" font-size="15.10" font-family='"Liberation Sans", sans-serif' textLength="7.92" lengthAdjust="spacingAndGlyphs">s</text>
<text x="165.33" y="543.40" font-size="15.10" font-family='"Liberation Sans", sans-serif' textLength="5.48" lengthAdjust="spacingAndGlyphs">-</text>
<text x="170.82" y="543.40" font-size="15.10" font-family='"Liberation Sans", sans-serif' textLength="9.17" lengthAdjust="spacingAndGlyphs">P</text>
<text x="179.98" y="543.40" font-size="15.10" font-family='"Liberation Sans", sans-serif' textLength="9.67" lengthAdjust="spacingAndGlyphs">1</text>
<text x="189.65" y="543.40" font-size="15.10" font-family='"Liberation Sans", sans-serif' textLength="9.67" lengthAdjust="spacingAndGlyphs">0</text>
</g>
<circle cx="111.0" cy="557.3" r="1.4" fill="#62A9B8"/>
<g fill="#383838">
<text x="135.80" y="562.90" font-size="15.10" font-family='"Liberation Sans", sans-serif' textLength="11.96" lengthAdjust="spacingAndGlyphs">O</text>
<text x="147.76" y="562.90" font-size="15.10" font-family='"Liberation Sans", sans-serif' textLength="9.65" lengthAdjust="spacingAndGlyphs">b</text>
<text x="157.41" y="562.90" font-size="15.10" font-family='"Liberation Sans", sans-serif' textLength="7.92" lengthAdjust="spacingAndGlyphs">s</text>
<text x="165.33" y="562.90" font-size="15.10" font-family='"Liberation Sans", sans-serif' textLength="5.48" lengthAdjust="spacingAndGlyphs">-</text>
<text x="170.82" y="562.90" font-size="15.10" font-family='"Liberation Sans", sans-serif' textLength="9.51" lengthAdjust="spacingAndGlyphs">V</text>
<text x="180.32" y="562.90" font-size="15.10" font-family='"Liberation Sans", sans-serif' textLength="9.67" lengthAdjust="spacingAndGlyphs">2</text>
</g>
<g fill="#383838">
<text x="73.51" y="869.60" font-size="17.37" font-family='"Liberation Sans", sans-serif' textLength="10.63" lengthAdjust="spacingAndGlyphs">1</text>
<text x="84.13" y="869.60" font-size="17.37" font-family='"Liberation Sans", sans-serif' textLength="10.63" lengthAdjust="spacingAndGlyphs">0</text>
</g>
<g fill="#383838">
<text x="111.71" y="869.60" font-size="17.37" font-family='"Liberation Sans", sans-serif' textLength="10.63" lengthAdjust="spacingAndGlyphs">2</text>
<text x="122.33" y="869.60" font-size="17.37" font-family='"Liberation Sans", sans-serif' textLength="10.63" lengthAdjust="spacingAndGlyphs">0</text>
</g>
<g fill="#383838">
<text x="188.10" y="869.60" font-size="17.37" font-family='"Liberation Sans", sans-serif' textLength="10.63" lengthAdjust="spacingAndGlyphs">4</text>
<text x="198.72" y="869.60" font-size="17.37" font-family='"Liberation Sans", sans-serif' textLength="10.63" lengthAdjust="spacingAndGlyphs">0</text>
</g>
<g fill="#383838">
<text x="264.49" y="869.60" font-size="17.37" font-family='"Liberation Sans", sans-serif' textLength="10.63" lengthAdjust="spacingAndGlyphs">6</text>
<text x="275.11" y="869.60" font-size="17.37" font-family='"Liberation Sans", sans-serif' textLength="10.63" lengthAdjust="spacingAndGlyphs">0</text>
</g>
<g fill="#383838">
<text x="302.68" y="869.60" font-size="17.37" font-family='"Liberation Sans", sans-serif' textLength="10.63" lengthAdjust="spacingAndGlyphs">7</text>
<text x="313.31" y="869.60" font-size="17.37" font-family='"Liberation Sans", sans-serif' textLength="10.63" lengthAdjust="spacingAndGlyphs">0</text>
</g>
<g fill="#383838">
<text x="340.88" y="869.60" font-size="17.37" font-family='"Liberation Sans", sans-serif' textLength="10.63" lengthAdjust="spacingAndGlyphs">8</text>
<text x="351.51" y="869.60" font-size="17.37" font-family='"Liberation Sans", sans-serif' textLength="10.63" lengthAdjust="spacingAndGlyphs">0</text>
</g>
<g fill="#383838">
<text x="411.96" y="869.60" font-size="17.37" font-family='"Liberation Sans", sans-serif' textLength="10.63" lengthAdjust="spacingAndGlyphs">1</text>
<text x="422.58" y="869.60" font-size="17.37" font-family='"Liberation Sans", sans-serif' textLength="10.63" lengthAdjust="spacingAndGlyphs">0</text>
<text x="433.21" y="869.60" font-size="17.37" font-family='"Liberation Sans", sans-serif' textLength="10.63" lengthAdjust="spacingAndGlyphs">0</text>
</g>
<g fill="#383838">
<text x="488.35" y="869.60" font-size="17.37" font-family='"Liberation Sans", sans-serif' textLength="10.63" lengthAdjust="spacingAndGlyphs">1</text>
<text x="498.98" y="869.60" font-size="17.37" font-family='"Liberation Sans", sans-serif' textLength="10.63" lengthAdjust="spacingAndGlyphs">2</text>
<text x="509.60" y="869.60" font-size="17.37" font-family='"Liberation Sans", sans-serif' textLength="10.63" lengthAdjust="spacingAndGlyphs">0</text>
</g>
<g fill="#383838">
<text x="249.11" y="892.70" font-size="19.24" font-family='"Liberation Sans", sans-serif' textLength="14.25" lengthAdjust="spacingAndGlyphs">D</text>
<text x="263.36" y="892.70" font-size="19.24" font-family='"Liberation Sans", sans-serif' textLength="5.14" lengthAdjust="spacingAndGlyphs">i</text>
<text x="268.50" y="892.70" font-size="19.24" font-family='"Liberation Sans", sans-serif' textLength="9.64" lengthAdjust="spacingAndGlyphs">s</text>
<text x="278.14" y="892.70" font-size="19.24" font-family='"Liberation Sans", sans-serif' textLength="7.25" lengthAdjust="spacingAndGlyphs">t</text>
<text x="285.39" y="892.70" font-size="19.24" font-family='"Liberation Sans", sans-serif' textLength="11.34" lengthAdjust="spacingAndGlyphs">a</text>
<text x="296.73" y="892.70" font-size="19.24" font-family='"Liberation Sans", sans-serif' textLength="11.73" lengthAdjust="spacingAndGlyphs">n</text>
<text x="308.45" y="892.70" font-size="19.24" font-family='"Liberation Sans", sans-serif' textLength="10.17" lengthAdjust="spacingAndGlyphs">c</text>
<text x="318.63" y="892.70" font-size="19.24" font-family='"Liberation Sans", sans-serif' textLength="11.38" lengthAdjust="spacingAndGlyphs">e</text>
<text x="335.89" y="892.70" font-size="19.24" font-family='"Liberation Sans", sans-serif' textLength="7.22" lengthAdjust="spacingAndGlyphs">[</text>
<text x="343.11" y="892.70" font-size="19.24" font-family='"Liberation Sans", sans-serif' textLength="11.34" lengthAdjust="spacingAndGlyphs">a</text>
<text x="354.44" y="892.70" font-size="19.24" font-family='"Liberation Sans", sans-serif' textLength="11.73" lengthAdjust="spacingAndGlyphs">u</text>
<text x="366.17" y="892.70" font-size="19.24" font-family='"Liberation Sans", sans-serif' textLength="7.22" lengthAdjust="spacingAndGlyphs">]</text>
</g>
<g fill="#383838">
<text x="41.90" y="854.90" font-size="17.37" font-family='"Liberation Sans", sans-serif' textLength="10.20" lengthAdjust="spacingAndGlyphs">1</text>
<text x="52.10" y="854.90" font-size="17.37" font-family='"Liberation Sans", sans-serif' textLength="10.20" lengthAdjust="spacingAndGlyphs">0</text>
</g>
<g fill="#383838">
<text xml:space="preserve" x="63.75" y="846.70" font-size="14.56" font-family='"Liberation Sans", sans-serif' textLength="8.91" lengthAdjust="spacingAndGlyphs">0</text>
</g>
<g fill="#383838">
<text x="41.90" y="734.17" font-size="17.37" font-family='"Liberation Sans", sans-serif' textLength="10.20" lengthAdjust="spacingAndGlyphs">1</text>
<text x="52.10" y="734.17" font-size="17.37" font-family='"Liberation Sans", sans-serif' textLength="10.20" lengthAdjust="spacingAndGlyphs">0</text>
</g>
<g fill="#383838">
<text xml:space="preserve" x="63.75" y="725.97" font-size="14.56" font-family='"Liberation Sans", sans-serif' textLength="8.91" lengthAdjust="spacingAndGlyphs">1</text>
</g>
<g fill="#383838">
<text x="41.90" y="613.43" font-size="17.37" font-family='"Liberation Sans", sans-serif' textLength="10.20" lengthAdjust="spacingAndGlyphs">1</text>
<text x="52.10" y="613.43" font-size="17.37" font-family='"Liberation Sans", sans-serif' textLength="10.20" lengthAdjust="spacingAndGlyphs">0</text>
</g>
<g fill="#383838">
<text xml:space="preserve" x="63.75" y="605.23" font-size="14.56" font-family='"Liberation Sans", sans-serif' textLength="8.91" lengthAdjust="spacingAndGlyphs">2</text>
</g>
<g fill="#383838">
<text x="41.90" y="492.70" font-size="17.37" font-family='"Liberation Sans", sans-serif' textLength="10.20" lengthAdjust="spacingAndGlyphs">1</text>
<text x="52.10" y="492.70" font-size="17.37" font-family='"Liberation Sans", sans-serif' textLength="10.20" lengthAdjust="spacingAndGlyphs">0</text>
</g>
<g fill="#383838">
<text xml:space="preserve" x="63.75" y="484.50" font-size="14.56" font-family='"Liberation Sans", sans-serif' textLength="8.91" lengthAdjust="spacingAndGlyphs">3</text>
</g>
<g transform="rotate(-90 31.5 665.3)" fill="#383838">
<text x="-37.19" y="665.30" font-size="19.03" font-family='"Liberation Sans", sans-serif' textLength="15.95" lengthAdjust="spacingAndGlyphs">&lt;</text>
<text x="-21.24" y="665.30" font-size="19.03" font-family='"Liberation Sans", sans-serif' textLength="12.06" lengthAdjust="spacingAndGlyphs">u</text>
<text xml:space="preserve" x="-9.18" y="657.30" font-size="14.56" font-family='"Liberation Sans", sans-serif' textLength="9.26" lengthAdjust="spacingAndGlyphs">2</text>
<text x="0.08" y="665.30" font-size="19.03" font-family='"Liberation Sans", sans-serif' textLength="15.95" lengthAdjust="spacingAndGlyphs">&gt;</text>
<text x="22.08" y="665.30" font-size="19.03" font-family='"Liberation Sans", sans-serif' textLength="7.43" lengthAdjust="spacingAndGlyphs">[</text>
<text x="29.51" y="665.30" font-size="19.03" font-family='"Liberation Sans", sans-serif' textLength="11.02" lengthAdjust="spacingAndGlyphs">k</text>
<text x="40.53" y="665.30" font-size="19.03" font-family='"Liberation Sans", sans-serif' textLength="18.54" lengthAdjust="spacingAndGlyphs">m</text>
<text xml:space="preserve" x="59.07" y="657.30" font-size="14.56" font-family='"Liberation Sans", sans-serif' textLength="9.26" lengthAdjust="spacingAndGlyphs">2</text>
<text xml:space="preserve" x="68.33" y="665.30" font-size="19.03" font-family='"Liberation Sans", sans-serif' textLength="9.92" lengthAdjust="spacingAndGlyphs">s</text>
<text x="78.25" y="657.30" font-size="14.56" font-family='"Liberation Sans", sans-serif' textLength="5.25" lengthAdjust="spacingAndGlyphs">-</text>
<text x="83.50" y="657.30" font-size="14.56" font-family='"Liberation Sans", sans-serif' textLength="9.26" lengthAdjust="spacingAndGlyphs">2</text>
<text xml:space="preserve" x="92.76" y="665.30" font-size="19.03" font-family='"Liberation Sans", sans-serif' textLength="7.43" lengthAdjust="spacingAndGlyphs">]</text>
</g>
<rect x="918.00" y="484.2" width="38.50" height="362.20" fill="#BF97C7" stroke="none"/>
<line x1="918.00" y1="484.2" x2="918.00" y2="846.4" stroke="#111" stroke-width="1.2"/>
<line x1="956.50" y1="484.2" x2="956.50" y2="846.4" stroke="#111" stroke-width="1.2"/>
<line x1="1097.3" y1="484.2" x2="1097.3" y2="846.4" stroke="#EDB120" stroke-width="2.0" stroke-dasharray="8 3.5 2 3.5" stroke-dashoffset="3.3"/>
<g transform="rotate(-90 944.8 830.8000000000001)" fill="#7E2F8E">
<text x="944.80" y="830.80" font-size="22.22" font-family='"Liberation Sans", sans-serif' textLength="16.07" lengthAdjust="spacingAndGlyphs">H</text>
<text x="960.87" y="830.80" font-size="22.22" font-family='"Liberation Sans", sans-serif' textLength="13.05" lengthAdjust="spacingAndGlyphs">T</text>
<text x="973.92" y="830.80" font-size="22.22" font-family='"Liberation Sans", sans-serif' textLength="13.56" lengthAdjust="spacingAndGlyphs">S</text>
<text x="994.28" y="830.80" font-size="22.22" font-family='"Liberation Sans", sans-serif' textLength="13.10" lengthAdjust="spacingAndGlyphs">a</text>
<text x="1007.38" y="830.80" font-size="22.22" font-family='"Liberation Sans", sans-serif' textLength="5.94" lengthAdjust="spacingAndGlyphs">l</text>
<text x="1013.31" y="830.80" font-size="22.22" font-family='"Liberation Sans", sans-serif' textLength="13.07" lengthAdjust="spacingAndGlyphs">o</text>
<text x="1026.39" y="830.80" font-size="22.22" font-family='"Liberation Sans", sans-serif' textLength="13.54" lengthAdjust="spacingAndGlyphs">n</text>
<text x="1039.93" y="830.80" font-size="22.22" font-family='"Liberation Sans", sans-serif' textLength="13.56" lengthAdjust="spacingAndGlyphs">g</text>
<text x="1060.29" y="830.80" font-size="22.22" font-family='"Liberation Sans", sans-serif' textLength="8.38" lengthAdjust="spacingAndGlyphs">t</text>
<text x="1068.67" y="830.80" font-size="22.22" font-family='"Liberation Sans", sans-serif' textLength="13.54" lengthAdjust="spacingAndGlyphs">h</text>
<text x="1082.21" y="830.80" font-size="22.22" font-family='"Liberation Sans", sans-serif' textLength="13.15" lengthAdjust="spacingAndGlyphs">e</text>
<text x="1102.15" y="830.80" font-size="22.22" font-family='"Liberation Sans", sans-serif' textLength="15.99" lengthAdjust="spacingAndGlyphs">N</text>
<text x="1118.14" y="830.80" font-size="22.22" font-family='"Liberation Sans", sans-serif' textLength="16.07" lengthAdjust="spacingAndGlyphs">H</text>
<text x="1141.00" y="830.80" font-size="22.22" font-family='"Liberation Sans", sans-serif' textLength="13.56" lengthAdjust="spacingAndGlyphs">d</text>
<text x="1154.57" y="830.80" font-size="22.22" font-family='"Liberation Sans", sans-serif' textLength="5.94" lengthAdjust="spacingAndGlyphs">i</text>
<text x="1160.50" y="830.80" font-size="22.22" font-family='"Liberation Sans", sans-serif' textLength="8.79" lengthAdjust="spacingAndGlyphs">r</text>
<text x="1169.29" y="830.80" font-size="22.22" font-family='"Liberation Sans", sans-serif' textLength="12.68" lengthAdjust="spacingAndGlyphs">e</text>
<text x="1181.97" y="830.80" font-size="22.22" font-family='"Liberation Sans", sans-serif' textLength="11.75" lengthAdjust="spacingAndGlyphs">c</text>
<text x="1193.72" y="830.80" font-size="22.22" font-family='"Liberation Sans", sans-serif' textLength="8.38" lengthAdjust="spacingAndGlyphs">t</text>
<text x="1202.10" y="830.80" font-size="22.22" font-family='"Liberation Sans", sans-serif' textLength="5.94" lengthAdjust="spacingAndGlyphs">i</text>
<text x="1208.03" y="830.80" font-size="22.22" font-family='"Liberation Sans", sans-serif' textLength="13.07" lengthAdjust="spacingAndGlyphs">o</text>
<text x="1221.11" y="830.80" font-size="22.22" font-family='"Liberation Sans", sans-serif' textLength="13.54" lengthAdjust="spacingAndGlyphs">n</text>
</g>
<g transform="rotate(-90 1123.5 830.8000000000001)" fill="#EDB120">
<text x="1123.50" y="830.80" font-size="22.22" font-family='"Liberation Sans", sans-serif' textLength="16.07" lengthAdjust="spacingAndGlyphs">H</text>
<text x="1139.57" y="830.80" font-size="22.22" font-family='"Liberation Sans", sans-serif' textLength="13.05" lengthAdjust="spacingAndGlyphs">T</text>
<text x="1152.62" y="830.80" font-size="22.22" font-family='"Liberation Sans", sans-serif' textLength="13.56" lengthAdjust="spacingAndGlyphs">S</text>
<text x="1172.98" y="830.80" font-size="22.22" font-family='"Liberation Sans", sans-serif' textLength="13.10" lengthAdjust="spacingAndGlyphs">a</text>
<text x="1186.08" y="830.80" font-size="22.22" font-family='"Liberation Sans", sans-serif' textLength="5.94" lengthAdjust="spacingAndGlyphs">l</text>
<text x="1192.01" y="830.80" font-size="22.22" font-family='"Liberation Sans", sans-serif' textLength="13.07" lengthAdjust="spacingAndGlyphs">o</text>
<text x="1205.09" y="830.80" font-size="22.22" font-family='"Liberation Sans", sans-serif' textLength="13.54" lengthAdjust="spacingAndGlyphs">n</text>
<text x="1218.63" y="830.80" font-size="22.22" font-family='"Liberation Sans", sans-serif' textLength="13.56" lengthAdjust="spacingAndGlyphs">g</text>
<text x="1238.99" y="830.80" font-size="22.22" font-family='"Liberation Sans", sans-serif' textLength="8.38" lengthAdjust="spacingAndGlyphs">t</text>
<text x="1247.37" y="830.80" font-size="22.22" font-family='"Liberation Sans", sans-serif' textLength="13.54" lengthAdjust="spacingAndGlyphs">h</text>
<text x="1260.91" y="830.80" font-size="22.22" font-family='"Liberation Sans", sans-serif' textLength="13.15" lengthAdjust="spacingAndGlyphs">e</text>
<text x="1280.85" y="830.80" font-size="22.22" font-family='"Liberation Sans", sans-serif' textLength="12.89" lengthAdjust="spacingAndGlyphs">P</text>
<text x="1293.74" y="830.80" font-size="22.22" font-family='"Liberation Sans", sans-serif' textLength="13.60" lengthAdjust="spacingAndGlyphs">1</text>
<text x="1307.34" y="830.80" font-size="22.22" font-family='"Liberation Sans", sans-serif' textLength="13.60" lengthAdjust="spacingAndGlyphs">0</text>
<text x="1327.73" y="830.80" font-size="22.22" font-family='"Liberation Sans", sans-serif' textLength="13.56" lengthAdjust="spacingAndGlyphs">d</text>
<text x="1341.29" y="830.80" font-size="22.22" font-family='"Liberation Sans", sans-serif' textLength="5.94" lengthAdjust="spacingAndGlyphs">i</text>
<text x="1347.23" y="830.80" font-size="22.22" font-family='"Liberation Sans", sans-serif' textLength="8.79" lengthAdjust="spacingAndGlyphs">r</text>
<text x="1356.01" y="830.80" font-size="22.22" font-family='"Liberation Sans", sans-serif' textLength="12.68" lengthAdjust="spacingAndGlyphs">e</text>
<text x="1368.69" y="830.80" font-size="22.22" font-family='"Liberation Sans", sans-serif' textLength="11.75" lengthAdjust="spacingAndGlyphs">c</text>
<text x="1380.44" y="830.80" font-size="22.22" font-family='"Liberation Sans", sans-serif' textLength="8.38" lengthAdjust="spacingAndGlyphs">t</text>
<text x="1388.82" y="830.80" font-size="22.22" font-family='"Liberation Sans", sans-serif' textLength="5.94" lengthAdjust="spacingAndGlyphs">i</text>
<text x="1394.76" y="830.80" font-size="22.22" font-family='"Liberation Sans", sans-serif' textLength="13.07" lengthAdjust="spacingAndGlyphs">o</text>
<text x="1407.83" y="830.80" font-size="22.22" font-family='"Liberation Sans", sans-serif' textLength="13.54" lengthAdjust="spacingAndGlyphs">n</text>
</g>
<path d="M689.30,841.08 L690.30,839.10 L691.30,837.08 L692.30,835.01 L693.30,832.91 L694.30,830.76 L695.30,828.57 L696.30,826.33 L697.30,824.05 L698.30,821.72 L699.30,819.35 L700.30,816.93 L701.30,814.47 L702.30,811.96 L703.30,809.40 L704.30,806.80 L705.30,804.15 L706.30,801.45 L707.30,798.71 L708.30,795.92 L709.30,793.08 L710.30,790.19 L711.30,787.25 L712.30,784.27 L713.30,781.26 L714.30,778.23 L715.30,775.19 L716.30,772.15 L717.30,769.13 L718.30,766.12 L719.30,763.16 L720.30,760.23 L721.30,757.37 L722.30,754.55 L723.30,751.78 L724.30,749.07 L725.30,746.41 L726.30,743.80 L727.30,741.24 L728.30,738.72 L729.30,736.26 L730.30,733.84 L731.30,731.47 L732.30,729.15 L733.30,726.87 L734.30,724.63 L735.30,722.45 L736.30,720.30 L737.30,718.20 L738.30,716.14 L739.30,714.12 L740.30,712.15 L741.30,710.21 L742.30,708.32 L743.30,706.46 L744.30,704.64 L745.30,702.86 L746.30,701.12 L747.30,699.42 L748.30,697.75 L749.30,696.12 L750.30,694.52 L751.30,692.96 L752.30,691.43 L753.30,689.93 L754.30,688.46 L755.30,687.03 L756.30,685.63 L757.30,684.26 L758.30,682.92 L759.30,681.61 L760.30,680.32 L761.30,679.07 L762.30,677.84 L763.30,676.63 L764.30,675.46 L765.30,674.31 L766.30,673.18 L767.30,672.08 L768.30,671.00 L769.30,669.94 L770.30,668.91 L771.30,667.90 L772.30,666.90 L773.30,665.93 L774.30,664.98 L775.30,664.04 L776.30,663.13 L777.30,662.23 L778.30,661.35 L779.30,660.48 L780.30,659.63 L781.30,658.80 L782.30,657.98 L783.30,657.17 L784.30,656.38 L785.30,655.59 L786.30,654.82 L787.30,654.07 L788.30,653.32 L789.30,652.58 L790.30,651.85 L791.30,651.13 L792.30,650.41 L793.30,649.71 L794.30,649.01 L795.30,648.31 L796.30,647.62 L797.30,646.94 L798.30,646.26 L799.30,645.58 L800.30,644.91 L801.30,644.23 L802.30,643.56 L803.30,642.89 L804.30,642.23 L805.30,641.56 L806.30,640.90 L807.30,640.24 L808.30,639.58 L809.30,638.93 L810.30,638.28 L811.30,637.62 L812.30,636.97 L813.30,636.33 L814.30,635.68 L815.30,635.04 L816.30,634.40 L817.30,633.76 L818.30,633.12 L819.30,632.49 L820.30,631.86 L821.30,631.22 L822.30,630.60 L823.30,629.97 L824.30,629.35 L825.30,628.72 L826.30,628.10 L827.30,627.48 L828.30,626.87 L829.30,626.25 L830.30,625.64 L831.30,625.03 L832.30,624.42 L833.30,623.81 L834.30,623.21 L835.30,622.61 L836.30,622.01 L837.30,621.41 L838.30,620.81 L839.30,620.22 L840.30,619.62 L841.30,619.03 L842.30,618.45 L843.30,617.86 L844.30,617.27 L845.30,616.69 L846.30,616.11 L847.30,615.53 L848.30,614.95 L849.30,614.38 L850.30,613.80 L851.30,613.23 L852.30,612.66 L853.30,612.09 L854.30,611.53 L855.30,610.96 L856.30,610.40 L857.30,609.84 L858.30,609.28 L859.30,608.73 L860.30,608.17 L861.30,607.62 L862.30,607.07 L863.30,606.52 L864.30,605.97 L865.30,605.43 L866.30,604.88 L867.30,604.34 L868.30,603.80 L869.30,603.26 L870.30,602.72 L871.30,602.19 L872.30,601.66 L873.30,601.13 L874.30,600.60 L875.30,600.07 L876.30,599.54 L877.30,599.02 L878.30,598.50 L879.30,597.97 L880.30,597.46 L881.30,596.94 L882.30,596.42 L883.30,595.91 L884.30,595.40 L885.30,594.89 L886.30,594.38 L887.30,593.87 L888.30,593.37 L889.30,592.86 L890.30,592.36 L891.30,591.86 L892.30,591.36 L893.30,590.87 L894.30,590.37 L895.30,589.88 L896.30,589.39 L897.30,588.90 L898.30,588.41 L899.30,587.92 L900.30,587.44 L901.30,586.95 L902.30,586.47 L903.30,585.99 L904.30,585.51 L905.30,585.03 L906.30,584.56 L907.30,584.08 L908.30,583.61 L909.30,583.14 L910.30,582.67 L910.60,582.53" fill="none" stroke="#7E2F8E" stroke-width="2.0" stroke-linejoin="round" stroke-linecap="round"/>
<path d="M689.30,713.98 L690.30,713.17 L691.30,712.41 L692.30,711.69 L693.30,711.02 L694.30,710.39 L695.30,709.81 L696.30,709.26 L697.30,708.76 L698.30,708.29 L699.30,707.86 L700.30,707.46 L701.30,707.10 L702.30,706.78 L703.30,706.48 L704.30,706.21 L705.30,705.97 L706.30,705.76 L707.30,705.58 L708.30,705.41 L709.30,705.28 L710.30,705.16 L711.30,705.06 L712.30,704.98 L713.30,704.92 L714.30,704.88 L715.30,704.85 L716.30,704.83 L717.30,704.83 L718.30,704.84 L719.30,704.85 L720.30,704.87 L721.30,704.90 L722.30,704.94 L723.30,704.98 L724.30,705.02 L725.30,705.06 L726.30,705.10 L727.30,705.14 L728.30,705.17 L729.30,705.20 L730.30,705.23 L731.30,705.25 L732.30,705.25 L733.30,705.25 L734.30,705.24 L735.30,705.21 L736.30,705.18 L737.30,705.13 L738.30,705.08 L739.30,705.01 L740.30,704.93 L741.30,704.85 L742.30,704.75 L743.30,704.64 L744.30,704.53 L745.30,704.40 L746.30,704.27 L747.30,704.13 L748.30,703.98 L749.30,703.83 L750.30,703.66 L751.30,703.49 L752.30,703.31 L753.30,703.13 L754.30,702.94 L755.30,702.74 L756.30,702.53 L757.30,702.33 L758.30,702.11 L759.30,701.89 L760.30,701.66 L761.30,701.43 L762.30,701.20 L763.30,700.96 L764.30,700.72 L765.30,700.47 L766.30,700.22 L767.30,699.97 L768.30,699.71 L769.30,699.45 L770.30,699.19 L771.30,698.93 L772.30,698.66 L773.30,698.39 L774.30,698.12 L775.30,697.85 L776.30,697.58 L777.30,697.31 L778.30,697.03 L779.30,696.75 L780.30,696.48 L781.30,696.20 L782.30,695.92 L783.30,695.63 L784.30,695.35 L785.30,695.07 L786.30,694.78 L787.30,694.49 L788.30,694.20 L789.30,693.91 L790.30,693.62 L791.30,693.33 L792.30,693.03 L793.30,692.74 L794.30,692.44 L795.30,692.14 L796.30,691.84 L797.30,691.54 L798.30,691.24 L799.30,690.94 L800.30,690.64 L801.30,690.33 L802.30,690.03 L803.30,689.72 L804.30,689.41 L805.30,689.10 L806.30,688.79 L807.30,688.48 L808.30,688.16 L809.30,687.85 L810.30,687.54 L811.30,687.22 L812.30,686.90 L813.30,686.58 L814.30,686.26 L815.30,685.94 L816.30,685.62 L817.30,685.30 L818.30,684.98 L819.30,684.65 L820.30,684.33 L821.30,684.00 L822.30,683.68 L823.30,683.35 L824.30,683.02 L825.30,682.69 L826.30,682.36 L827.30,682.03 L828.30,681.70 L829.30,681.36 L830.30,681.03 L831.30,680.69 L832.30,680.36 L833.30,680.02 L834.30,679.69 L835.30,679.35 L836.30,679.01 L837.30,678.67 L838.30,678.33 L839.30,677.99 L840.30,677.65 L841.30,677.31 L842.30,676.96 L843.30,676.62 L844.30,676.28 L845.30,675.93 L846.30,675.58 L847.30,675.24 L848.30,674.89 L849.30,674.54 L850.30,674.20 L851.30,673.85 L852.30,673.50 L853.30,673.15 L854.30,672.80 L855.30,672.45 L856.30,672.10 L857.30,671.75 L858.30,671.39 L859.30,671.04 L860.30,670.69 L861.30,670.33 L862.30,669.98 L863.30,669.63 L864.30,669.27 L865.30,668.92 L866.30,668.56 L867.30,668.20 L868.30,667.85 L869.30,667.49 L870.30,667.13 L871.30,666.78 L872.30,666.42 L873.30,666.06 L874.30,665.70 L875.30,665.34 L876.30,664.98 L877.30,664.62 L878.30,664.27 L879.30,663.91 L880.30,663.55 L881.30,663.19 L882.30,662.82 L883.30,662.46 L884.30,662.10 L885.30,661.74 L886.30,661.38 L887.30,661.02 L888.30,660.66 L889.30,660.30 L890.30,659.93 L891.30,659.57 L892.30,659.21 L893.30,658.85 L894.30,658.49 L895.30,658.12 L896.30,657.76 L897.30,657.40 L898.30,657.04 L899.30,656.68 L900.30,656.31 L901.30,655.95 L902.30,655.59 L903.30,655.23 L904.30,654.87 L905.30,654.50 L906.30,654.14 L907.30,653.78 L908.30,653.42 L909.30,653.06 L910.30,652.69 L911.30,652.33 L912.30,651.97 L913.30,651.61 L914.30,651.25 L915.30,650.89 L916.30,650.53 L917.30,650.17 L918.30,649.81 L919.30,649.45 L920.30,649.09 L921.30,648.73 L922.30,648.37 L923.30,648.01 L924.30,647.65 L925.30,647.29 L926.30,646.94 L927.30,646.58 L928.30,646.22 L929.30,645.86 L930.30,645.51 L931.30,645.15 L932.30,644.80 L933.30,644.44 L934.30,644.09 L935.30,643.73 L936.30,643.38 L937.30,643.02 L938.30,642.67 L939.30,642.32 L940.30,641.96 L941.30,641.61 L942.30,641.26 L943.30,640.91 L944.30,640.56 L945.30,640.21 L946.30,639.86 L947.30,639.51 L948.30,639.16 L949.30,638.82 L950.30,638.47 L951.30,638.12 L952.30,637.78 L953.30,637.43 L954.30,637.09 L955.30,636.74 L956.30,636.40 L957.30,636.06 L958.30,635.72 L959.30,635.38 L960.30,635.04 L961.30,634.70 L962.30,634.36 L963.30,634.02 L964.30,633.68 L965.30,633.35 L966.30,633.01 L967.30,632.68 L968.30,632.34 L969.30,632.01 L970.30,631.68 L971.30,631.34 L972.30,631.01 L973.30,630.68 L974.30,630.35 L975.30,630.03 L976.30,629.70 L977.30,629.37 L978.30,629.05 L979.30,628.72 L980.30,628.40 L981.30,628.08 L982.30,627.76 L983.30,627.43 L984.30,627.12 L985.30,626.80 L986.30,626.48 L987.30,626.16 L988.30,625.85 L989.30,625.53 L990.30,625.22 L991.30,624.91 L992.30,624.60 L993.30,624.29 L994.30,623.98 L995.30,623.67 L996.30,623.36 L997.30,623.06 L998.30,622.75 L999.30,622.45 L1000.30,622.15 L1001.30,621.85 L1002.30,621.55 L1003.30,621.25 L1004.30,620.95 L1005.30,620.66 L1006.30,620.36 L1007.30,620.07 L1008.30,619.78 L1009.30,619.49 L1010.30,619.20 L1011.30,618.91 L1012.30,618.62 L1013.30,618.34 L1014.30,618.05 L1015.30,617.77 L1016.30,617.49 L1017.30,617.21 L1018.30,616.93 L1019.30,616.65 L1020.30,616.38 L1021.30,616.10 L1022.30,615.83 L1023.30,615.56 L1024.30,615.29 L1025.30,615.02 L1026.30,614.75 L1027.30,614.49 L1028.30,614.23 L1029.30,613.96 L1030.30,613.70 L1031.30,613.44 L1032.30,613.19 L1033.30,612.93 L1034.30,612.68 L1035.30,612.42 L1036.30,612.17 L1037.30,611.92 L1038.30,611.67 L1039.30,611.43 L1040.30,611.18 L1041.30,610.94 L1042.30,610.70 L1043.30,610.46 L1044.30,610.22 L1045.30,609.99 L1046.30,609.75 L1047.30,609.52 L1048.30,609.29 L1049.30,609.06 L1050.30,608.83 L1051.30,608.61 L1052.30,608.38 L1053.30,608.16 L1054.30,607.94 L1055.30,607.72 L1056.30,607.51 L1057.30,607.29 L1058.30,607.08 L1059.30,606.87 L1060.30,606.66 L1061.30,606.45 L1062.30,606.25 L1063.30,606.04 L1064.30,605.84 L1065.30,605.64 L1066.30,605.45 L1067.30,605.25 L1068.30,605.06 L1069.30,604.87 L1070.30,604.68 L1071.30,604.49 L1072.30,604.31 L1073.30,604.12 L1074.30,603.94 L1075.30,603.76 L1076.30,603.59 L1077.30,603.41 L1078.30,603.24 L1079.30,603.07 L1080.30,602.90 L1081.30,602.73 L1082.30,602.57 L1083.30,602.41 L1084.30,602.25 L1085.30,602.09 L1086.30,601.94 L1087.30,601.78 L1088.30,601.63 L1089.30,601.48 L1089.50,601.45" fill="none" stroke="#EDB120" stroke-width="1.9" stroke-linejoin="round" stroke-linecap="round"/>
<circle cx="760.40" cy="559.30" r="2.1" fill="#62A9B8"/>
<circle cx="739.30" cy="645.60" r="2.1" fill="#62A9B8"/>
<circle cx="746.70" cy="675.70" r="2.1" fill="#62A9B8"/>
<circle cx="754.70" cy="672.70" r="2.1" fill="#62A9B8"/>
<circle cx="765.00" cy="678.00" r="2.1" fill="#62A9B8"/>
<circle cx="763.00" cy="686.00" r="2.1" fill="#62A9B8"/>
<circle cx="697.70" cy="696.00" r="2.1" fill="#62A9B8"/>
<circle cx="722.00" cy="700.70" r="2.1" fill="#62A9B8"/>
<circle cx="687.70" cy="709.30" r="2.1" fill="#62A9B8"/>
<circle cx="686.70" cy="718.00" r="2.1" fill="#62A9B8"/>
<circle cx="719.60" cy="710.30" r="2.1" fill="#62A9B8"/>
<circle cx="724.00" cy="718.00" r="2.1" fill="#62A9B8"/>
<circle cx="729.30" cy="729.60" r="2.1" fill="#62A9B8"/>
<circle cx="741.60" cy="737.70" r="2.1" fill="#62A9B8"/>
<circle cx="744.00" cy="742.00" r="2.1" fill="#62A9B8"/>
<circle cx="753.00" cy="740.40" r="2.1" fill="#62A9B8"/>
<circle cx="766.00" cy="717.60" r="2.1" fill="#62A9B8"/>
<circle cx="772.00" cy="721.00" r="2.1" fill="#62A9B8"/>
<circle cx="775.00" cy="742.40" r="2.1" fill="#62A9B8"/>
<circle cx="825.00" cy="713.00" r="2.1" fill="#62A9B8"/>
<circle cx="750.70" cy="757.70" r="2.1" fill="#62A9B8"/>
<circle cx="690.50" cy="796.90" r="2.1" fill="#62A9B8"/>
<circle cx="757.60" cy="807.00" r="2.1" fill="#62A9B8"/>
<circle cx="783.30" cy="828.70" r="2.1" fill="#62A9B8"/>
<line x1="689.23" y1="846.4" x2="689.23" y2="842.6" stroke="#262626" stroke-width="1"/>
<line x1="689.23" y1="484.2" x2="689.23" y2="488.0" stroke="#262626" stroke-width="1"/>
<line x1="727.37" y1="846.4" x2="727.37" y2="842.6" stroke="#262626" stroke-width="1"/>
<line x1="727.37" y1="484.2" x2="727.37" y2="488.0" stroke="#262626" stroke-width="1"/>
<line x1="803.63" y1="846.4" x2="803.63" y2="842.6" stroke="#262626" stroke-width="1"/>
<line x1="803.63" y1="484.2" x2="803.63" y2="488.0" stroke="#262626" stroke-width="1"/>
<line x1="879.89" y1="846.4" x2="879.89" y2="842.6" stroke="#262626" stroke-width="1"/>
<line x1="879.89" y1="484.2" x2="879.89" y2="488.0" stroke="#262626" stroke-width="1"/>
<line x1="918.02" y1="846.4" x2="918.02" y2="842.6" stroke="#262626" stroke-width="1"/>
<line x1="918.02" y1="484.2" x2="918.02" y2="488.0" stroke="#262626" stroke-width="1"/>
<line x1="956.16" y1="846.4" x2="956.16" y2="842.6" stroke="#262626" stroke-width="1"/>
<line x1="956.16" y1="484.2" x2="956.16" y2="488.0" stroke="#262626" stroke-width="1"/>
<line x1="1032.42" y1="846.4" x2="1032.42" y2="842.6" stroke="#262626" stroke-width="1"/>
<line x1="1032.42" y1="484.2" x2="1032.42" y2="488.0" stroke="#262626" stroke-width="1"/>
<line x1="1108.68" y1="846.4" x2="1108.68" y2="842.6" stroke="#262626" stroke-width="1"/>
<line x1="1108.68" y1="484.2" x2="1108.68" y2="488.0" stroke="#262626" stroke-width="1"/>
<line x1="685.6" y1="831.19" x2="687.3000000000001" y2="831.19" stroke="#262626" stroke-width="1"/>
<line x1="1146.5" y1="831.19" x2="1144.8" y2="831.19" stroke="#262626" stroke-width="1"/>
<line x1="685.6" y1="817.34" x2="687.3000000000001" y2="817.34" stroke="#262626" stroke-width="1"/>
<line x1="1146.5" y1="817.34" x2="1144.8" y2="817.34" stroke="#262626" stroke-width="1"/>
<line x1="685.6" y1="805.13" x2="687.3000000000001" y2="805.13" stroke="#262626" stroke-width="1"/>
<line x1="1146.5" y1="805.13" x2="1144.8" y2="805.13" stroke="#262626" stroke-width="1"/>
<line x1="685.6" y1="794.20" x2="689.8000000000001" y2="794.20" stroke="#262626" stroke-width="1"/>
<line x1="1146.5" y1="794.20" x2="1142.3" y2="794.20" stroke="#262626" stroke-width="1"/>
<line x1="685.6" y1="722.31" x2="687.3000000000001" y2="722.31" stroke="#262626" stroke-width="1"/>
<line x1="1146.5" y1="722.31" x2="1144.8" y2="722.31" stroke="#262626" stroke-width="1"/>
<line x1="685.6" y1="680.26" x2="687.3000000000001" y2="680.26" stroke="#262626" stroke-width="1"/>
<line x1="1146.5" y1="680.26" x2="1144.8" y2="680.26" stroke="#262626" stroke-width="1"/>
<line x1="685.6" y1="650.43" x2="687.3000000000001" y2="650.43" stroke="#262626" stroke-width="1"/>
<line x1="1146.5" y1="650.43" x2="1144.8" y2="650.43" stroke="#262626" stroke-width="1"/>
<line x1="685.6" y1="627.29" x2="687.3000000000001" y2="627.29" stroke="#262626" stroke-width="1"/>
<line x1="1146.5" y1="627.29" x2="1144.8" y2="627.29" stroke="#262626" stroke-width="1"/>
<line x1="685.6" y1="608.38" x2="687.3000000000001" y2="608.38" stroke="#262626" stroke-width="1"/>
<line x1="1146.5" y1="608.38" x2="1144.8" y2="608.38" stroke="#262626" stroke-width="1"/>
<line x1="685.6" y1="592.39" x2="687.3000000000001" y2="592.39" stroke="#262626" stroke-width="1"/>
<line x1="1146.5" y1="592.39" x2="1144.8" y2="592.39" stroke="#262626" stroke-width="1"/>
<line x1="685.6" y1="578.54" x2="687.3000000000001" y2="578.54" stroke="#262626" stroke-width="1"/>
<line x1="1146.5" y1="578.54" x2="1144.8" y2="578.54" stroke="#262626" stroke-width="1"/>
<line x1="685.6" y1="566.33" x2="687.3000000000001" y2="566.33" stroke="#262626" stroke-width="1"/>
<line x1="1146.5" y1="566.33" x2="1144.8" y2="566.33" stroke="#262626" stroke-width="1"/>
<line x1="685.6" y1="555.40" x2="689.8000000000001" y2="555.40" stroke="#262626" stroke-width="1"/>
<line x1="1146.5" y1="555.40" x2="1142.3" y2="555.40" stroke="#262626" stroke-width="1"/>
<path d="M685.6,484.2 L1146.5,484.2 L1146.5,846.4 L685.6,846.4" fill="none" stroke="#262626" stroke-width="1.1" stroke-linejoin="miter"/>
<line x1="685.6" y1="483.7" x2="685.6" y2="846.9" stroke="#6e6e6e" stroke-width="1.4"/>
<rect x="693.3" y="490.4" width="135.2" height="62.0" fill="#fff" stroke="#262626" stroke-width="1.1"/>
<line x1="696.8" y1="501.2" x2="739.3" y2="501.2" stroke="#7E2F8E" stroke-width="2.9"/>
<g fill="#383838">
<text x="743.10" y="506.80" font-size="15.10" font-family='"Liberation Sans", sans-serif' textLength="14.81" lengthAdjust="spacingAndGlyphs">m</text>
<text x="757.91" y="506.80" font-size="15.10" font-family='"Liberation Sans", sans-serif' textLength="9.30" lengthAdjust="spacingAndGlyphs">o</text>
<text x="767.21" y="506.80" font-size="15.10" font-family='"Liberation Sans", sans-serif' textLength="9.65" lengthAdjust="spacingAndGlyphs">d</text>
<text x="776.85" y="506.80" font-size="15.10" font-family='"Liberation Sans", sans-serif' textLength="9.35" lengthAdjust="spacingAndGlyphs">e</text>
<text x="786.21" y="506.80" font-size="15.10" font-family='"Liberation Sans", sans-serif' textLength="4.22" lengthAdjust="spacingAndGlyphs">l</text>
<text x="790.43" y="506.80" font-size="15.10" font-family='"Liberation Sans", sans-serif' textLength="5.48" lengthAdjust="spacingAndGlyphs">-</text>
<text x="795.91" y="506.80" font-size="15.10" font-family='"Liberation Sans", sans-serif' textLength="11.37" lengthAdjust="spacingAndGlyphs">N</text>
<text x="807.28" y="506.80" font-size="15.10" font-family='"Liberation Sans", sans-serif' textLength="11.43" lengthAdjust="spacingAndGlyphs">H</text>
</g>
<line x1="696.8" y1="521.6" x2="739.3" y2="521.6" stroke="#EDB120" stroke-width="2.9"/>
<g fill="#383838">
<text x="743.10" y="527.20" font-size="15.10" font-family='"Liberation Sans", sans-serif' textLength="14.81" lengthAdjust="spacingAndGlyphs">m</text>
<text x="757.91" y="527.20" font-size="15.10" font-family='"Liberation Sans", sans-serif' textLength="9.30" lengthAdjust="spacingAndGlyphs">o</text>
<text x="767.21" y="527.20" font-size="15.10" font-family='"Liberation Sans", sans-serif' textLength="9.65" lengthAdjust="spacingAndGlyphs">d</text>
<text x="776.85" y="527.20" font-size="15.10" font-family='"Liberation Sans", sans-serif' textLength="9.35" lengthAdjust="spacingAndGlyphs">e</text>
<text x="786.21" y="527.20" font-size="15.10" font-family='"Liberation Sans", sans-serif' textLength="4.22" lengthAdjust="spacingAndGlyphs">l</text>
<text x="790.43" y="527.20" font-size="15.10" font-family='"Liberation Sans", sans-serif' textLength="5.48" lengthAdjust="spacingAndGlyphs">-</text>
<text x="795.91" y="527.20" font-size="15.10" font-family='"Liberation Sans", sans-serif' textLength="9.17" lengthAdjust="spacingAndGlyphs">P</text>
<text x="805.08" y="527.20" font-size="15.10" font-family='"Liberation Sans", sans-serif' textLength="9.67" lengthAdjust="spacingAndGlyphs">1</text>
<text x="814.75" y="527.20" font-size="15.10" font-family='"Liberation Sans", sans-serif' textLength="9.67" lengthAdjust="spacingAndGlyphs">0</text>
</g>
<circle cx="718.3" cy="541.4" r="1.4" fill="#62A9B8"/>
<g fill="#383838">
<text x="743.10" y="547.00" font-size="15.10" font-family='"Liberation Sans", sans-serif' textLength="11.96" lengthAdjust="spacingAndGlyphs">O</text>
<text x="755.06" y="547.00" font-size="15.10" font-family='"Liberation Sans", sans-serif' textLength="9.65" lengthAdjust="spacingAndGlyphs">b</text>
<text x="764.71" y="547.00" font-size="15.10" font-family='"Liberation Sans", sans-serif' textLength="7.92" lengthAdjust="spacingAndGlyphs">s</text>
<text x="772.63" y="547.00" font-size="15.10" font-family='"Liberation Sans", sans-serif' textLength="5.48" lengthAdjust="spacingAndGlyphs">-</text>
<text x="778.12" y="547.00" font-size="15.10" font-family='"Liberation Sans", sans-serif' textLength="9.51" lengthAdjust="spacingAndGlyphs">V</text>
<text x="787.62" y="547.00" font-size="15.10" font-family='"Liberation Sans", sans-serif' textLength="9.67" lengthAdjust="spacingAndGlyphs">2</text>
</g>
<g fill="#383838">
<text x="678.61" y="869.60" font-size="17.37" font-family='"Liberation Sans", sans-serif' textLength="10.63" lengthAdjust="spacingAndGlyphs">1</text>
<text x="689.23" y="869.60" font-size="17.37" font-family='"Liberation Sans", sans-serif' textLength="10.63" lengthAdjust="spacingAndGlyphs">0</text>
</g>
<g fill="#383838">
<text x="716.74" y="869.60" font-size="17.37" font-family='"Liberation Sans", sans-serif' textLength="10.63" lengthAdjust="spacingAndGlyphs">2</text>
<text x="727.37" y="869.60" font-size="17.37" font-family='"Liberation Sans", sans-serif' textLength="10.63" lengthAdjust="spacingAndGlyphs">0</text>
</g>
<g fill="#383838">
<text x="793.00" y="869.60" font-size="17.37" font-family='"Liberation Sans", sans-serif' textLength="10.63" lengthAdjust="spacingAndGlyphs">4</text>
<text x="803.63" y="869.60" font-size="17.37" font-family='"Liberation Sans", sans-serif' textLength="10.63" lengthAdjust="spacingAndGlyphs">0</text>
</g>
<g fill="#383838">
<text x="869.27" y="869.60" font-size="17.37" font-family='"Liberation Sans", sans-serif' textLength="10.63" lengthAdjust="spacingAndGlyphs">6</text>
<text x="879.89" y="869.60" font-size="17.37" font-family='"Liberation Sans", sans-serif' textLength="10.63" lengthAdjust="spacingAndGlyphs">0</text>
</g>
<g fill="#383838">
<text x="907.40" y="869.60" font-size="17.37" font-family='"Liberation Sans", sans-serif' textLength="10.63" lengthAdjust="spacingAndGlyphs">7</text>
<text x="918.02" y="869.60" font-size="17.37" font-family='"Liberation Sans", sans-serif' textLength="10.63" lengthAdjust="spacingAndGlyphs">0</text>
</g>
<g fill="#383838">
<text x="945.53" y="869.60" font-size="17.37" font-family='"Liberation Sans", sans-serif' textLength="10.63" lengthAdjust="spacingAndGlyphs">8</text>
<text x="956.16" y="869.60" font-size="17.37" font-family='"Liberation Sans", sans-serif' textLength="10.63" lengthAdjust="spacingAndGlyphs">0</text>
</g>
<g fill="#383838">
<text x="1016.48" y="869.60" font-size="17.37" font-family='"Liberation Sans", sans-serif' textLength="10.63" lengthAdjust="spacingAndGlyphs">1</text>
<text x="1027.11" y="869.60" font-size="17.37" font-family='"Liberation Sans", sans-serif' textLength="10.63" lengthAdjust="spacingAndGlyphs">0</text>
<text x="1037.73" y="869.60" font-size="17.37" font-family='"Liberation Sans", sans-serif' textLength="10.63" lengthAdjust="spacingAndGlyphs">0</text>
</g>
<g fill="#383838">
<text x="1092.74" y="869.60" font-size="17.37" font-family='"Liberation Sans", sans-serif' textLength="10.63" lengthAdjust="spacingAndGlyphs">1</text>
<text x="1103.37" y="869.60" font-size="17.37" font-family='"Liberation Sans", sans-serif' textLength="10.63" lengthAdjust="spacingAndGlyphs">2</text>
<text x="1113.99" y="869.60" font-size="17.37" font-family='"Liberation Sans", sans-serif' textLength="10.63" lengthAdjust="spacingAndGlyphs">0</text>
</g>
<g fill="#383838">
<text x="853.91" y="892.70" font-size="19.24" font-family='"Liberation Sans", sans-serif' textLength="14.25" lengthAdjust="spacingAndGlyphs">D</text>
<text x="868.16" y="892.70" font-size="19.24" font-family='"Liberation Sans", sans-serif' textLength="5.14" lengthAdjust="spacingAndGlyphs">i</text>
<text x="873.30" y="892.70" font-size="19.24" font-family='"Liberation Sans", sans-serif' textLength="9.64" lengthAdjust="spacingAndGlyphs">s</text>
<text x="882.94" y="892.70" font-size="19.24" font-family='"Liberation Sans", sans-serif' textLength="7.25" lengthAdjust="spacingAndGlyphs">t</text>
<text x="890.19" y="892.70" font-size="19.24" font-family='"Liberation Sans", sans-serif' textLength="11.34" lengthAdjust="spacingAndGlyphs">a</text>
<text x="901.53" y="892.70" font-size="19.24" font-family='"Liberation Sans", sans-serif' textLength="11.73" lengthAdjust="spacingAndGlyphs">n</text>
<text x="913.25" y="892.70" font-size="19.24" font-family='"Liberation Sans", sans-serif' textLength="10.17" lengthAdjust="spacingAndGlyphs">c</text>
<text x="923.43" y="892.70" font-size="19.24" font-family='"Liberation Sans", sans-serif' textLength="11.38" lengthAdjust="spacingAndGlyphs">e</text>
<text x="940.69" y="892.70" font-size="19.24" font-family='"Liberation Sans", sans-serif' textLength="7.22" lengthAdjust="spacingAndGlyphs">[</text>
<text x="947.91" y="892.70" font-size="19.24" font-family='"Liberation Sans", sans-serif' textLength="11.34" lengthAdjust="spacingAndGlyphs">a</text>
<text x="959.24" y="892.70" font-size="19.24" font-family='"Liberation Sans", sans-serif' textLength="11.73" lengthAdjust="spacingAndGlyphs">u</text>
<text x="970.97" y="892.70" font-size="19.24" font-family='"Liberation Sans", sans-serif' textLength="7.22" lengthAdjust="spacingAndGlyphs">]</text>
</g>
<g fill="#383838">
<text x="646.90" y="802.70" font-size="17.37" font-family='"Liberation Sans", sans-serif' textLength="10.20" lengthAdjust="spacingAndGlyphs">1</text>
<text x="657.10" y="802.70" font-size="17.37" font-family='"Liberation Sans", sans-serif' textLength="10.20" lengthAdjust="spacingAndGlyphs">0</text>
</g>
<g fill="#383838">
<text xml:space="preserve" x="668.75" y="794.50" font-size="14.56" font-family='"Liberation Sans", sans-serif' textLength="8.91" lengthAdjust="spacingAndGlyphs">0</text>
</g>
<g fill="#383838">
<text x="646.90" y="563.90" font-size="17.37" font-family='"Liberation Sans", sans-serif' textLength="10.20" lengthAdjust="spacingAndGlyphs">1</text>
<text x="657.10" y="563.90" font-size="17.37" font-family='"Liberation Sans", sans-serif' textLength="10.20" lengthAdjust="spacingAndGlyphs">0</text>
</g>
<g fill="#383838">
<text xml:space="preserve" x="668.75" y="555.70" font-size="14.56" font-family='"Liberation Sans", sans-serif' textLength="8.91" lengthAdjust="spacingAndGlyphs">1</text>
</g>
<g transform="rotate(-90 630.3 664.0)" fill="#383838">
<text xml:space="preserve" x="575.19" y="664.00" font-size="19.03" font-family='"Liberation Serif", serif' font-style="italic" textLength="11.95" lengthAdjust="spacingAndGlyphs">&#955;</text>
<text xml:space="preserve" x="587.14" y="672.00" font-size="14.56" font-family='"Liberation Sans", sans-serif' textLength="9.14" lengthAdjust="spacingAndGlyphs">u</text>
<text x="602.27" y="664.00" font-size="19.03" font-family='"Liberation Sans", sans-serif' textLength="7.35" lengthAdjust="spacingAndGlyphs">[</text>
<text x="609.62" y="664.00" font-size="19.03" font-family='"Liberation Sans", sans-serif' textLength="11.99" lengthAdjust="spacingAndGlyphs">1</text>
<text x="621.62" y="664.00" font-size="19.03" font-family='"Liberation Sans", sans-serif' textLength="11.99" lengthAdjust="spacingAndGlyphs">0</text>
<text xml:space="preserve" x="633.61" y="656.00" font-size="14.56" font-family='"Liberation Sans", sans-serif' textLength="9.17" lengthAdjust="spacingAndGlyphs">6</text>
<text x="648.78" y="664.00" font-size="19.03" font-family='"Liberation Sans", sans-serif' textLength="10.92" lengthAdjust="spacingAndGlyphs">k</text>
<text x="659.69" y="664.00" font-size="19.03" font-family='"Liberation Sans", sans-serif' textLength="18.36" lengthAdjust="spacingAndGlyphs">m</text>
<text x="678.05" y="664.00" font-size="19.03" font-family='"Liberation Sans", sans-serif' textLength="7.35" lengthAdjust="spacingAndGlyphs">]</text>
</g>
</svg>
</body></html>
